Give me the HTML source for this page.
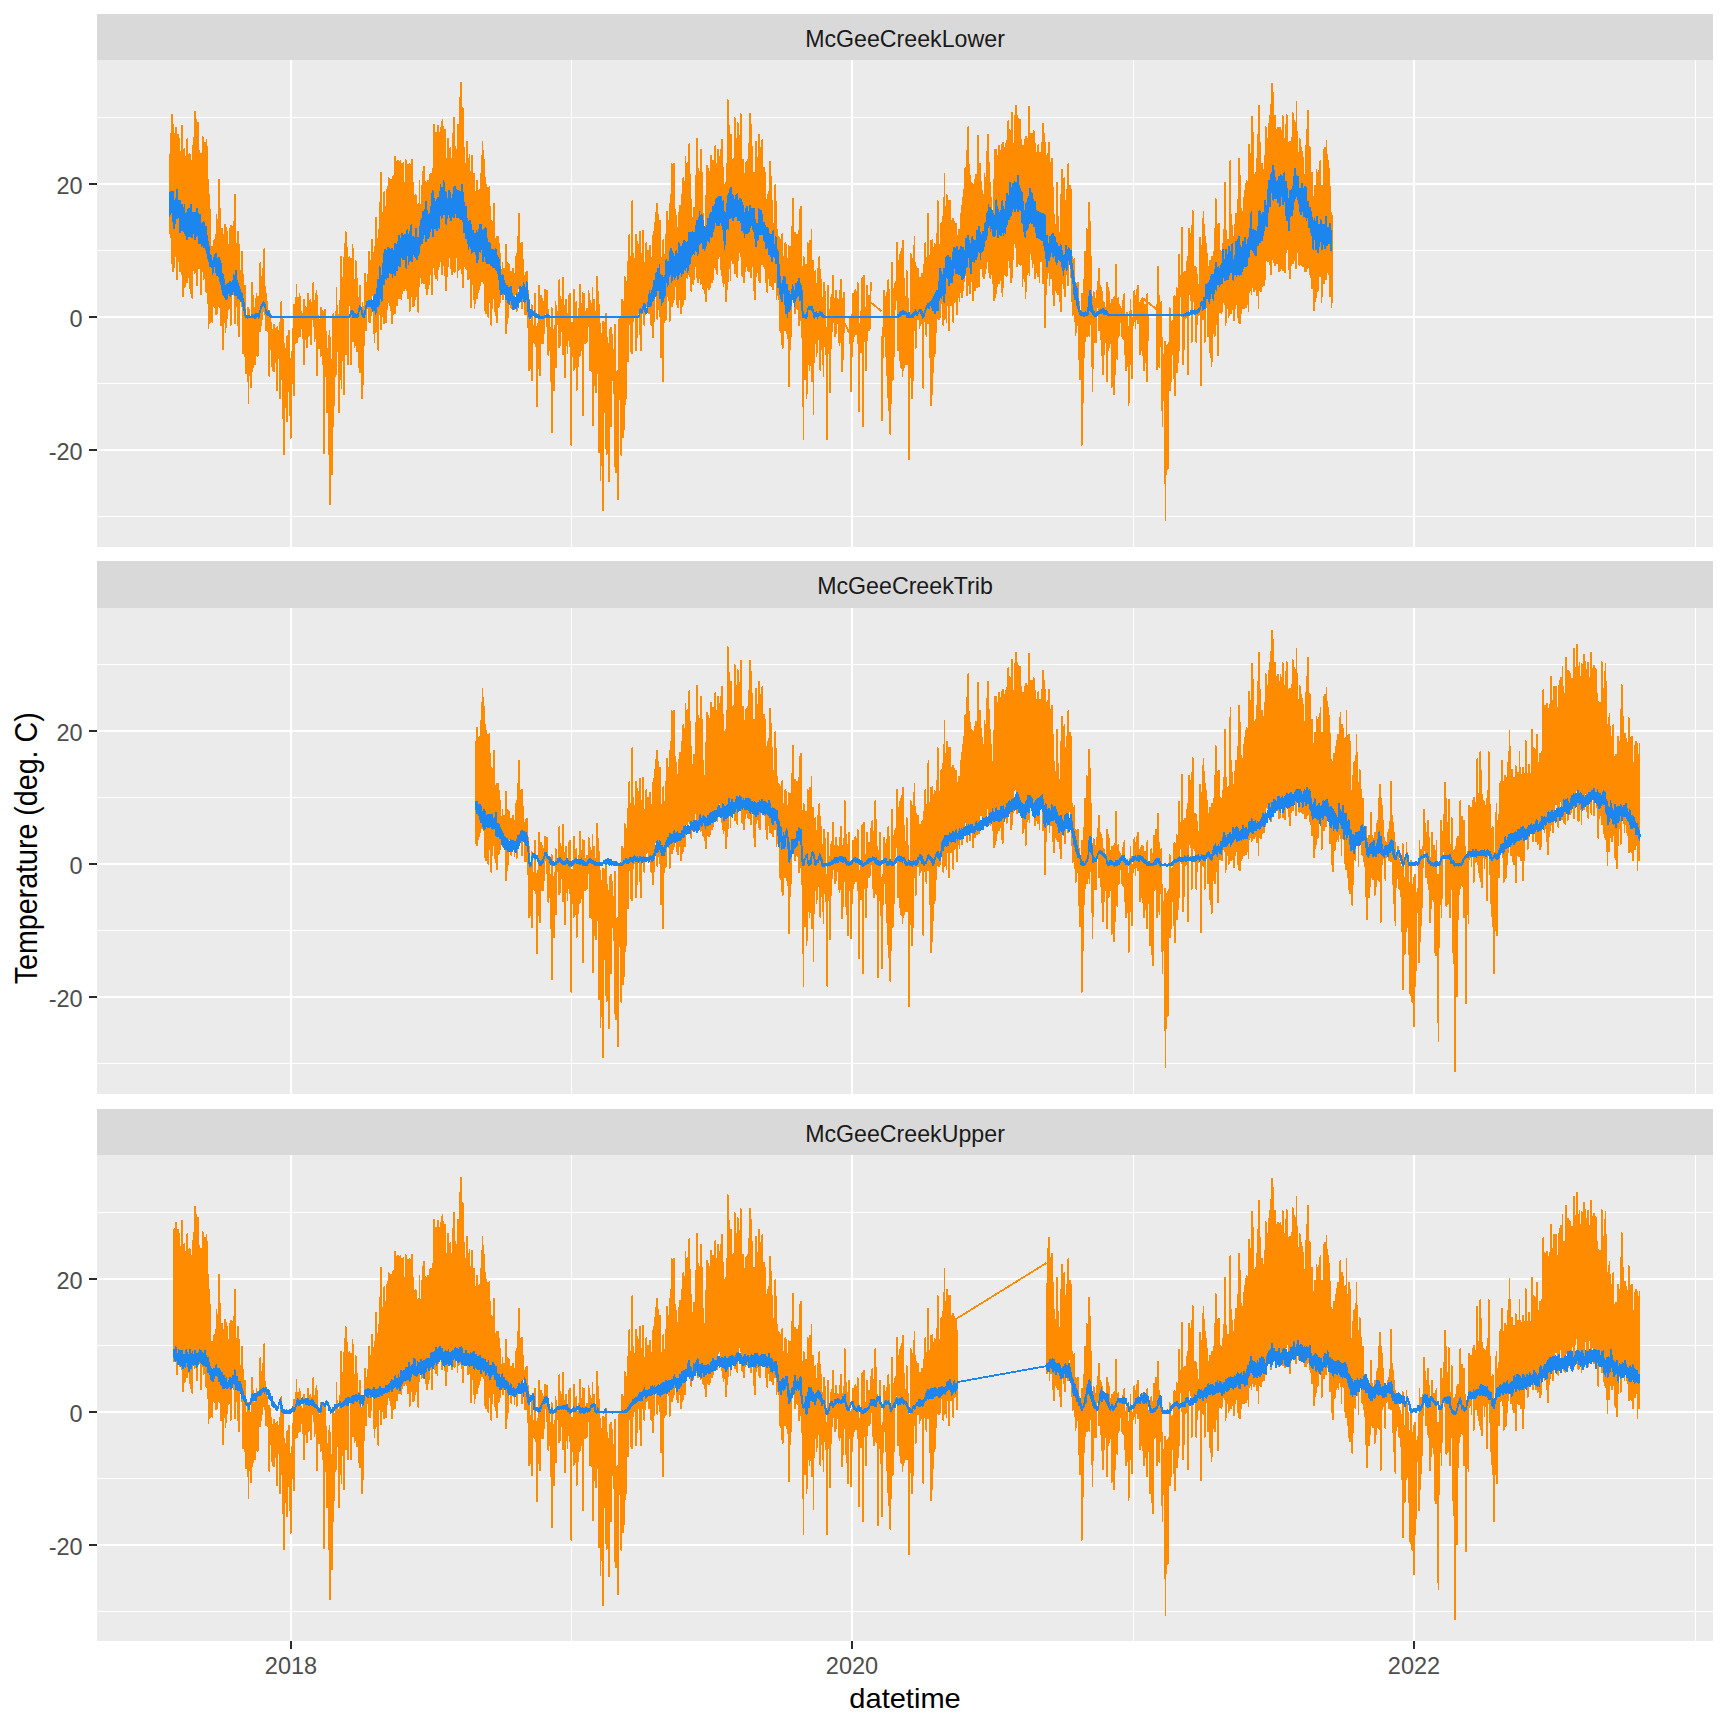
<!DOCTYPE html>
<html lang="en"><head><meta charset="utf-8"><title>Temperature</title>
<style>html,body{margin:0;padding:0;background:#fff}svg{display:block}</style></head>
<body>
<svg width="1728" height="1728" viewBox="0 0 1728 1728" shape-rendering="crispEdges" font-family="'Liberation Sans', sans-serif">
<rect width="1728" height="1728" fill="#fff"/>
<rect x="97" y="14" width="1616" height="46" fill="#D9D9D9"/>
<rect x="97" y="60" width="1616" height="487" fill="#EBEBEB"/>
<path d="M97 516.5H1713M97 383.5H1713M97 250.5H1713M97 117.5H1713M571.5 60V547M1133.5 60V547M1695.5 60V547" stroke="#fff" stroke-width="1" fill="none"/>
<path d="M97 450H1713M97 317H1713M97 184H1713M291 60V547M852 60V547M1414 60V547" stroke="#fff" stroke-width="2" fill="none"/>
<text x="82.6" y="460.2" font-size="23.5" fill="#4D4D4D" text-anchor="end">-20</text>
<text x="82.6" y="327.2" font-size="23.5" fill="#4D4D4D" text-anchor="end">0</text>
<text x="82.6" y="194.2" font-size="23.5" fill="#4D4D4D" text-anchor="end">20</text>
<path d="M89 450H97M89 317H97M89 184H97" stroke="#2b2b2b" stroke-width="2" fill="none"/>
<text x="905.0" y="47.3" font-size="23.2" fill="#1A1A1A" text-anchor="middle">McGeeCreekLower</text>
<path d="M170.1 233.8l.4-100.2 .4 104 .3-96.4 .5 118.1 .3-144.7 .4 149.1 .4-129.5 .4 137.1 .3-146.8 .5 142.7 .3-132.9 .4 122.8 .4-116.8 .4 108 .4-121 .4 123 .3-111.8 .4 140.7 .4-143 .4 121.7 .4-123 .4 126.3 .3-122.3 .4 116.4 .4-104.2 .4 120.2 .4-119.8 .4 119.8 .3-89 .5 81.6 .3-138 .4 148.7 .4-111.7 .4 133.2 .3-139.9 .5 124.5 .3-131.8 .4 138.3 .4-130.1 .4 113.4 .3-107.4 .5 101.8 .3-92.3 .4 110 .4-144 .4 138.3 .4-121.7 .4 122.4 .3-116.3 .4 109.9 .4-117.2 .4 134.6 .4-90.3 .4 94.5 .3-128.5 .4 130.5 .4-134 .4 137.3 .4-152.6 .4 124.3 .3-132.2 .5 127.2 .3-115.1 .4 123.3 .4-161.2 .4 160.3 .3-152.2 .5 146.5 .3-127.1 .4 146.1 .4-134.4 .4 105 .3-132.9 .5 138.3 .3-110.7 .4 117.9 .4-68.9 .4 66.6 .3-98.6 .5 126.2 .3-140.5 .4 115.9 .4-71.3 .4 72.8 .4-133.6 .4 131.1 .3-103.2 .4 113.7 .4-134.4 .4 134.1 .4-135.9 .4 148.4 .3-145.8 .4 142.7 .4-147.9 .4 152.1 .4-122.8 .4 133.6 .3-123.2 .5 148 .3-132.8 .4 128.7 .4-114.4 .4 112.8 .3-93.1 .5 88.2 .3-52.4 .4 55.3 .4-73.6 .4 75.7 .3-72 .5 56.5 .3-58.3 .4 57.6 .4-65.7 .4 66.5 .4-57.1 .4 60.1 .3-74.6 .4 78.8 .4-99.1 .4 98.9 .4-93.5 .4 86.2 .3-84.5 .4 76.9 .4-119.2 .4 119.3 .4-90.7 .4 99.6 .3-78.9 .5 96.3 .3-96.3 .4 86.1 .4-86.2 .4 95.1 .3-67.1 .5 92.7 .3-87.4 .4 52.4 .4-79.7 .4 87.5 .3-97.6 .5 107.2 .3-102.1 .4 97.9 .4-99.9 .4 90.1 .4-86 .4 77.9 .3-64.6 .4 46.5 .4-36.3 .4 52.8 .4-79.3 .4 57.6 .3-43.4 .4 81.8 .4-99.5 .4 67 .4-65.6 .4 48.9 .3-46.3 .5 42.4 .3-46.6 .4 69.5 .4-73.3 .4 102.1 .3-129 .5 113.9 .3-64.4 .4 62.2 .4-54.5 .4 53.8 .3-47.2 .5 66.6 .3-93.1 .4 88.1 .4-74.9 .4 91.2 .4-66.3 .4 25.6 .3-22.7 .4 19.9 .4-14.5 .4 19.4 .4-46.1 .4 55.8 .3-26.4 .4 72.2 .4-78.6 .4 44.5 .4-33.4 .4 70.6 .3-70.8 .5 76.6 .3-44.8 .4 56.2 .4-45.9 .4 40.1 .3-35.8 .5 21 .3-44.8 .4 95.4 .4-93.8 .4 46.4 .3-40.6 .5 35.7 .3-30.2 .4 66.1 .4-66.6 .4 19.1 .3-56.9 .5 88.1 .3-67.5 .4 64.2 .4-71.9 .4 52.6 .4-33.4 .4 49.7 .3-56.9 .4 30.5 .4-38.7 .4 56.4 .4-61.8 .4 51.2 .3-37.1 .4 47.9 .4-48.8 .4 8.8 .4-19.1 .4 8.3 .3-11.4 .5 37.4 .3-68.3 .4 59.3 .4-38.2 .4 41 .3-48.6 .5 36.5 .3-43.8 .4 33.4 .4-33.5 .4 42.3 .3-61.9 .5 58.6 .3-20.8 .4 28.1 .4-21.3 .4 36.6 .4-29.8 .4 18.8 .3-11.3 .4 22 .4-16.8 .4 23.8 .4-26.7 .4 65.2 .3-64.1 .4 37.7 .4-35.7 .4 29.7 .4-20.2 .4 31.3 .3-24.9 .5 37 .3-36.6 .4 40.2 .4-41.5 .4 42.5 .3-46.2 .5 37.7 .3-33.2 .4 23.8 .4-23.9 .4 23.1 .3-23.8 .5 61.2 .3-62.8 .4 31.4 .4-19.8 .4 19.3 .4-27.1 .4 24 .3-31.9 .4 75.4 .4-70.4 .4 52 .4-77.6 .4 74.9 .3-47.7 .4 45.3 .4-55.5 .4 98.9 .4-54.4 .4 90.4 .3-110.5 .5 64.5 .3-59.8 .4 41.5 .4-32.7 .4 20.4 .3-29.7 .5 73 .3-84.8 .4 41.3 .4-24.2 .4 23.7 .3-46.4 .5 61 .3-31.5 .4 54.9 .4-55 .4 77.9 .4-78.7 .4 28.2 .3-35.2 .4 12.3 .4-35.1 .4 27.9 .4-33.6 .4 71.9 .3-90.4 .4 32.2 .4-20 .4 25.6 .4-45 .4 29.6 .3-42.1 .5 56.4 .3-40.4 .4 35.6 .4-39.3 .4 39.2 .3-34.6 .5 13.1 .3-21.5 .4 42.3 .4-27.8 .4 11.4 .3-8.3 .5 16.8 .3-14.7 .4 11.9 .4-9.3 .4 22.4 .3-20 .5 45.8 .3-64.9 .4 42.6 .4-35.3 .4 16.9 .4-16.1 .4 14 .3-10.8 .4 36.7 .4-34.8 .4 23.9 .4-42.7 .4 39.6 .3-29.9 .4 31.9 .4-28.8 .4 21.2 .4-27.9 .4 44.7 .3-40.4 .5 12.9 .3-14.4 .4 15.7 .4-14.1 .4 14.5 .3-36.3 .5 39.4 .3-13.5 .4 33 .4-36.3 .4 29.6 .3-41.4 .5 34.7 .3-37.1 .4 84.7 .4-79.7 .4 36.5 .4-17.2 .4 15.7 .3-9.7 .4 26.9 .4-28.4 .4 24.6 .4-22.1 .4 33.6 .3-47.9 .4 40.3 .4-38 .4 45.1 .4-43.4 .4 52.1 .3-52.1 .5 141.3 .3-111.5 .4 36.2 .4-68.6 .4 67.2 .3-44.9 .5 37.9 .3-21.6 .4 64.4 .4-60.3 .4 25.6 .3-29.1 .5 55.7 .3-68.7 .4 119.1 .4-124.2 .4 174.2 .4-128.3 .4 31.3 .3-47.8 .4 49.8 .4-34.8 .4 99.6 .4-108.1 .4 59.5 .3-112.3 .4 92.3 .4-62.1 .4 37.1 .4-62.1 .4 46 .3-52.1 .5 61.5 .3-86 .4 62.7 .4-35 .4 25.4 .3-24.6 .5 17.2 .3-19.4 .4 97.9 .4-112 .4 44.1 .3-37.7 .5 72.3 .3-121.9 .4 131.1 .4-92.2 .4 36.3 .4-41 .4 22.9 .3-37.7 .4 117.4 .4-136.5 .4 61.1 .4-75.1 .4 73.8 .3-85 .4 121.8 .4-88.8 .4 87.4 .4-104.4 .4 116.1 .3-106.2 .4 46 .4-16.1 .4 17.3 .4-48.2 .4 48.4 .3-44.3 .5 103.1 .3-106 .4 53.3 .4-42.1 .4 66.2 .3-90.5 .5 96.1 .3-58.6 .4 54.5 .4-47.9 .4 58.1 .3-67.8 .5 47.7 .3-66.2 .4 84.5 .4-82.9 .4 88.4 .4-72.7 .4 64.8 .3-45.2 .4 46.1 .4-39.1 .4 62.1 .4-58.1 .4 62.8 .3-86.5 .4 67.9 .4-38.2 .4 53.6 .4-55.5 .4 85.1 .3-95 .5 80.9 .3-71 .4 32.4 .4-34.1 .4 7.6 .3-45 .5 37 .3-22.1 .4 41.5 .4-42.4 .4 14.9 .3-20.6 .5 25.8 .3-33.1 .4 32.7 .4-56.3 .4 70.2 .4-55.4 .4 55.8 .3-53.7 .4 47.6 .4-54.9 .4 31.2 .4-52.1 .4 53.4 .3-32 .4 34.1 .4-36.8 .4 74.6 .4-81.3 .4 89.6 .3-95.3 .5 64.8 .3-93.6 .4 105.2 .4-70.2 .4 78.5 .3-84 .5 76.5 .3-85 .4 111 .4-119.7 .4 84.7 .3-98.8 .5 92.2 .3-105.7 .4 127.2 .4-157.1 .4 152.4 .4-94.2 .4 85.8 .3-103.7 .4 103.5 .4-99.6 .4 106.5 .4-130.9 .4 130.5 .3-116.5 .4 112.8 .4-101.8 .4 104.8 .4-105.6 .4 92.5 .3-119.8 .5 113.8 .3-116.6 .4 108.9 .4-117.2 .4 116.9 .3-103.8 .5 114 .3-117.3 .4 122.7 .4-130.9 .4 133.8 .3-126.9 .5 136.9 .3-133.4 .4 124.4 .4-138.4 .4 133.4 .4-129.6 .4 123.8 .3-146.7 .4 156.6 .4-126.5 .4 111.8 .4-133.7 .4 139.7 .3-143.4 .4 128.3 .4-128.7 .4 129 .4-110.4 .4 118.3 .3-110.3 .4 106 .4-132.5 .4 137.4 .4-135.2 .4 136.1 .3-134 .5 127.8 .3-128.4 .4 122.2 .4-124.5 .4 127.7 .3-107.7 .5 101.3 .3-93.7 .4 95.2 .4-125.6 .4 128.1 .3-82.2 .5 84.8 .3-120.5 .4 124.5 .4-130.1 .4 134.2 .4-134 .4 131.8 .3-132.4 .4 146.8 .4-136.9 .4 111.7 .4-121.1 .4 118.9 .3-123.6 .4 136.1 .4-119.9 .4 130 .4-111.6 .4 110.7 .3-109 .5 107.9 .3-103.9 .4 99.2 .4-104.2 .4 101.1 .3-97.3 .5 89.4 .3-83.9 .4 89.7 .4-60 .4 78.1 .3-108.8 .5 83 .3-105.4 .4 96.2 .4-69.6 .4 65.5 .4-68.6 .4 78.8 .3-97 .4 96.3 .4-111 .4 107.8 .4-106.6 .4 110.3 .3-116.8 .4 108.2 .4-83.4 .4 91.8 .4-100.7 .4 106.3 .3-91.7 .5 97.1 .3-88.1 .4 73 .4-97.8 .4 106.8 .3-84.3 .5 80.9 .3-89.7 .4 79.7 .4-100.5 .4 100.4 .3-100.8 .5 104.7 .3-98.8 .4 114.5 .4-101.1 .4 74.7 .4-99.7 .4 96.7 .3-140 .4 147 .4-110.6 .4 113.4 .4-141.8 .4 145.6 .3-139.3 .4 134.3 .4-137.5 .4 144.1 .4-153.8 .4 133 .3-116 .5 123.4 .3-130.4 .4 125 .4-128.6 .4 122.4 .3-126.8 .5 141.9 .3-148 .4 152.3 .4-153.8 .4 145.2 .3-124.4 .5 119.8 .3-128.9 .4 142.4 .4-144.8 .4 146.1 .3-106.8 .5 121.6 .3-131.4 .4 117.1 .4-106.1 .4 99.3 .4-130.8 .4 127.8 .3-101.3 .4 92.1 .4-72.9 .4 69.1 .4-105.1 .4 120.1 .3-103.8 .4 103.4 .4-109.6 .4 115.7 .4-120.6 .4 117.7 .3-137.8 .5 134.5 .3-149.9 .4 154.4 .4-125.6 .4 124.5 .3-118.8 .5 105 .3-104.1 .4 98.5 .4-101.9 .4 126.9 .3-152.4 .5 145.9 .3-117.9 .4 117 .4-134.2 .4 115.2 .4-153.5 .4 159.5 .3-173.5 .4 186.4 .4-162 .4 166.1 .4-134.8 .4 148.1 .3-177.8 .4 157.6 .4-119 .4 111.6 .4-77.8 .4 83.7 .3-100.9 .5 104.2 .3-101.1 .4 102.2 .4-128 .4 137.3 .3-85.4 .5 85.8 .3-120 .4 116.9 .4-121.6 .4 124 .3-106.8 .5 135.7 .3-87.9 .4 59.5 .4-123.4 .4 126.7 .4-102 .4 104.3 .3-101 .4 115.1 .4-125.1 .4 134.4 .4-116 .4 111.6 .3-108.7 .4 102.3 .4-102.7 .4 103.9 .4-117.4 .4 114.7 .3-104.6 .5 101.3 .3-101.5 .4 98.3 .4-99.5 .4 95.7 .3-81 .5 77.1 .3-107.6 .4 104.7 .4-122.9 .4 121.5 .3-135.2 .5 139.6 .3-130.8 .4 131.9 .4-122.6 .4 138 .4-109.7 .4 122.1 .3-132.4 .4 135.5 .4-121.9 .4 117.5 .4-120 .4 127.3 .3-128.5 .4 128.9 .4-116.2 .4 97.8 .4-111.9 .4 115.5 .3-95.4 .5 113.9 .3-86.5 .4 90.8 .4-103.6 .4 86.8 .3-83.9 .5 73.6 .3-71.5 .4 70 .4-92.8 .4 107.5 .3-72.6 .5 64.4 .3-60.8 .4 73.6 .4-74 .4 80.5 .3-85.5 .5 78.5 .3-78.6 .4 67.7 .4-61.1 .4 63.3 .4-48.9 .4 45 .3-48.7 .4 39.7 .4-23.8 .4 20.9 .4-18.2 .4 13.1 .3-22.7 .4 36.7 .4-29.4 .4 16.6 .4-18 .4 19.6 .3-16.1 .5 18.6 .3-23.2 .4 65.2 .4-88.3 .4 73.3 .3-55.4 .5 60.4 .3-54.7 .4 29 .4-32.8 .4 28.3 .3-21.5 .5 20.6 .3-12.7 .4 14.2 .4-21.9 .4 36.7 .4-34 .4 18.2 .3-21.7 .4 18.2 .4-20 .4 29.1 .4-21.8 .4 32.7 .3-33.8 .4 18.3 .4-36 .4 24.1 .4-14.1 .4 43.6 .3-56.6 .5 12.9 .3-30.2 .4 22.5 .4-46 .4 74.9 .3-47.9 .5 51.2 .3-47.5 .4 24.7 .4-12.3 .4 16.3 .3-30.1 .5 65.3 .3-57.2 .4 29.2 .4-14.6 .4 17.5 .4-7.2 .4 11.4 .3-9.2 .4 36.7 .4-40.1 .4 40.2 .4-42.9 .4 27.3 .3-27.8 .4 34.9 .4-15.4 .4 36.9 .4-19.2 .4 61.6 .3-70.6 .5 52.3 .3-31.1 .4 47.9 .4-47.4 .4 23.4 .3-39.5 .5 74.8 .3-56.9 .4 19.4 .4-14.8 .4 13.4 .3-14.8 .5 15.7 .3-48 .4 49 .4-15.9 .4 19.2 .4-19.6 .4 79.6 .3-78.8 .4 31.2 .4-34.7 .4 43.8 .4-49 .4 16.3 .3-49.6 .4 90.3 .4-64.7 .4 23.1 .4-37.9 .4 38 .3-35.8 .5 44.9 .3-43.5 .4 43.4 .4-41.3 .4 32 .3-29.3 .5 25.9 .3-40.9 .4 19.8 .4-10.9 .4 14.4 .3-8.9 .5 12 .3-25 .4 46.6 .4-27.8 .4 44.9 .3-39.1 .5 18.5 .3-12.2 .4 28.8 .4-23.1 .4 36.1 .4-28.2 .4 46 .3-73.5 .4 124.1 .4-87.2 .4 42.5 .4-40.6 .4 43.7 .3-60.7 .4 56.2 .4-60.6 .4 37 .4-60.1 .4 64.9 .3-45.9 .5 3.5 .3-8.2 .4 3.5 .4-8.4 .4 4.2 .3-12.3 .5 43.9 .3-67.8 .4 66 .4-49.3 .4 26.6 .3-19.4 .5 15.2 .3-18.8 .4 31.7 .4-40.9 .4 63.5 .4-76.8 .4 60.8 .3-32.1 .4 44.9 .4-44.2 .4 70.2 .4-77.6 .4 42.1 .3-41.9 .4 27.3 .4-10.5 .4 36.6 .4-39.4 .4 17.8 .3-32.1 .5 37.2 .3-41.5 .4 50.9 .4-52.1 .4 61 .3-30.3 .5 120.2 .3-122.2 .4 33.9 .4-26.6 .4 10.5 .3-14.5 .5 44.2 .3-80.5 .4 38 .4-12 .4 18.1 .4-17.3 .4 50.6 .3-65 .4 87.8 .4-71.6 .4 44.3 .4-45.7 .4 49.1 .3-52.7 .4 36.4 .4-41.1 .4 47.4 .4-71.4 .4 69.5 .3-40.6 .5 36.4 .3-39.1 .4 33.6 .4-51.1 .4 122 .3-116.8 .5 45.1 .3-49.6 .4 43.2 .4-15.6 .4 21.4 .3-27.7 .5 17.8 .3-21.6 .4 30.4 .4-33.2 .4 25.1 .4-22.9 .4 14.5 .3-34.3 .4 34.2 .4-26.6 .4 71.5 .4-69.4 .4 33.9 .3-31 .4 63.9 .4-59.3 .4 63 .4-83 .4 136.9 .3-121.1 .4 87.8 .4-92 .4 67.3 .4-55.3 .4 50.1 .3-42.6 .5 73.3 .3-79.8 .4 60.5 .4-96.4 .4 79.7 .3-64.9 .5 74 .3-44.6 .4 130.8 .4-146.8 .4 74.9 .3-56.2 .5 156.3 .3-146.2 .4 60 .4-37.8 .4 47.9 .4-38.9 .4 145.2 .3-188.2 .4 92.8 .4-92.2 .4 74.5 .4-74.7 .4 89.6 .3-55.3 .4 91 .4-134.2 .4 140.5 .4-116 .4 82.5 .3-76.6 .5 52.8 .3-24.7 .4 109.4 .4-135.3 .4 57.7 .3-73.8 .5 59.2 .3-61.6 .4 98.8 .4-78.9 .4 29 .3-41.8 .5 45.1 .3-29.7 .4 33.5 .4-16 .4 26.5 .4-69.3 .4 141.1 .3-93.6 .4 100.3 .4-98.7 .4 96.6 .4-99.1 .4 93.3 .3-94 .4 128.5 .4-138.8 .4 38.8 .4-80 .4 69 .3-71.4 .5 71.7 .3-46.8 .4 112.9 .4-103.3 .4 77.8 .3-129.7 .5 137.9 .3-103.2 .4 97.1 .4-129.7 .4 127.7 .3-152.4 .5 126.9 .3-99.9 .4 94.4 .4-100.9 .4 64.5 .4-80.4 .4 40.6 .3-60.5 .4 100 .4-90.1 .4 45.1 .4-82 .4 57 .3-35.2 .4 88.9 .4-82.8 .4 88.8 .4-92.5 .4 94.3 .3-152.4 .5 120.5 .3-67.2 .4 52 .4-47.2 .4 32.5 .3-30.4 .5 55.3 .3-67.9 .4 102 .4-115.7 .4 103.6 .3-96.2 .5 75.4 .3-68.9 .4 64.7 .4-57.9 .4 58.3 .4-69.5 .4 90.6 .3-102.9 .4 99.5 .4-77.2 .4 96.2 .4-72.1 .4 34.7 .3-39.4 .4 33.6 .4-76.7 .4 67 .4-34.9 .4 62.4 .3-60.3 .4 49.4 .4-44.5 .4 36.4 .4-62.8 .4 60.4 .3-53 .5 55.1 .3-48.9 .4 43.9 .4-50.2 .4 63.2 .3-56.3 .5 43.5 .3-54.9 .4 61.4 .4-49.3 .4 66.7 .3-64.9 .5 48 .3-48.6 .4 78.4 .4-101.6 .4 92.3 .4-96.1 .4 82 .3-91.5 .4 72.9 .4-79.5 .4 78.3 .4-82.5 .4 78.1 .3-85.9 .4 115.2 .4-104.3 .4 94 .4-63.2 .4 62 .3-68.7 .5 77.3 .3-95.9 .4 114.4 .4-76.7 .4 99 .3-88.2 .5 88.7 .3-86.8 .4 110.4 .4-141.1 .4 87.9 .3-60.2 .5 49.6 .3-61.7 .4 64.3 .4-83.4 .4 82.6 .4-85.2 .4 59.8 .3-81.9 .4 79.9 .4-54 .4 58.4 .4-74.2 .4 77.8 .3-80 .4 100.8 .4-116.9 .4 100 .4-109.5 .4 110.5 .3-140.8 .5 142.2 .3-120.7 .4 116.8 .4-115.5 .4 105.5 .3-128.3 .5 135.5 .3-76.7 .4 62.3 .4-75.6 .4 77.1 .3-71.1 .5 82.9 .3-69.5 .4 76.5 .4-77.5 .4 79 .4-58.4 .4 50.3 .3-86.9 .4 80 .4-85.7 .4 92.7 .4-81.2 .4 95.9 .3-118.5 .4 110.7 .4-105.9 .4 104.3 .4-126 .4 111.8 .3-108.4 .5 99.8 .3-58 .4 76.1 .4-142.5 .4 118.2 .3-104.4 .5 103.1 .3-110.2 .4 114.6 .4-115.4 .4 110.9 .3-96 .5 96.2 .3-129.7 .4 131.6 .4-101 .4 103.6 .3-78.5 .5 91 .3-74.1 .4 66.2 .4-48.5 .4 48 .4-59.4 .4 60.5 .3-75.9 .4 67.5 .4-67.8 .4 58.9 .4-71.7 .4 70.1 .3-88.7 .4 90.8 .4-128.3 .4 139.8 .4-107.8 .4 112 .3-113.6 .5 109.1 .3-74.2 .4 73.6 .4-105.3 .4 112.1 .3-134.4 .5 127.9 .3-105.3 .4 111.1 .4-90.9 .4 95.9 .3-75.3 .5 75.8 .3-60.2 .4 59.5 .4-59 .4 64.1 .4-78.4 .4 85.8 .3-105.4 .4 97.7 .4-127.8 .4 115.6 .4-92.2 .4 95.9 .3-116.2 .4 120.9 .4-111.4 .4 110.1 .4-116.6 .4 113.9 .3-129.8 .5 124.2 .3-120.2 .4 122.2 .4-107.8 .4 105.3 .3-105.5 .5 96.3 .3-109.2 .4 101 .4-108.9 .4 114 .3-121.3 .5 123.5 .3-105.3 .4 90.6 .4-78.9 .4 98.5 .4-124.2 .4 107.9 .3-101.5 .4 97.8 .4-85.9 .4 87.5 .4-99 .4 105.8 .3-112.6 .4 119.2 .4-129.6 .4 136.2 .4-118.9 .4 125.1 .3-114.6 .5 119 .3-101.3 .4 98.6 .4-94.2 .4 87.1 .3-72.4 .5 96.8 .3-118.5 .4 103 .4-121.6 .4 125.2 .3-189 .5 181.6 .3-168.2 .4 154.7 .4-142.1 .4 134.4 .4-126 .4 145.3 .3-145.3 .4 126.1 .4-72.9 .4 67.2 .4-94.8 .4 103.2 .3-100.3 .4 89.4 .4-94 .4 100.3 .4-140.6 .4 155.5 .3-134.8 .5 121.7 .3-83.4 .4 87.4 .4-125.8 .4 138.3 .3-153.8 .5 136.8 .3-130.2 .4 119.9 .4-86.3 .4 89 .3-116.5 .5 119.7 .3-141.4 .4 142.2 .4-93.5 .4 112.2 .3-114.7 .5 116.1 .3-116.6 .4 116.6 .4-95.1 .4 101.3 .4-94.8 .4 83.9 .3-99 .4 89.9 .4-100.4 .4 96.5 .4-87.5 .4 95.6 .3-107 .4 110.1 .4-107.5 .4 108.5 .4-127.9 .4 110.3 .3-139.5 .5 160.3 .3-149.2 .4 152.3 .4-131.4 .4 117 .3-98.2 .5 102 .3-94.1 .4 107.9 .4-79.4 .4 89.5 .3-117.4 .5 125.8 .3-127.1 .4 104.3 .4-134.6 .4 132.4 .4-115.3 .4 110.2 .3-110.8 .4 114.5 .4-121.5 .4 129.7 .4-146.3 .4 148.2 .3-134.4 .4 109.1 .4-99 .4 101.8 .4-100.4 .4 104.1 .3-123.8 .5 121.5 .3-73.9 .4 77.1 .4-97.2 .4 99.5 .3-93.6 .5 95.4 .3-96.3 .4 110 .4-75.8 .4 68 .3-74.7 .5 92.4 .3-97.3 .4 83.1 .4-85.8 .4 84.8 .4-85.6 .4 93.7 .3-123.5 .4 117.4 .4-103 .4 100.8 .4-77.1 .4 86.5 .3-57.7 .4 60.9 .4-60.7 .4 47 .4-52.5 .4 50.5 .3-57.2 .5 66 .3-97.5 .4 94.4 .4-77.4 .4 97.3 .3-69.6 .5 58.7 .3-48.5 .4 54.2 .4-56.9 .4 62.2 .3-61.9 .5 92.8 .3-90.6 .4 66.7 .4-58.9 .4 85.1 .4-92 .4 103.6 .3-110.4 .4 114 .4-91.5 .4 71.2 .4-71.2 .4 58.8 .3-59.6 .4 74.8 .4-87.7 .4 79.3 .4-77.6 .4 88.5 .3-74.4 .5 71.8 .3-53.5 .4 61.9 .4-92.9 .4 140.2 .3-123.2 .5 87 .3-103.4 .4 101.7 .4-96.4 .4 84.4 .3-75.2 .5 34.4 .3-69.3 .4 60.2 .4-87.6 .4 99.4 .3-55.7 .5 45.3 .3-53.4 .4 79.3 .4-81.1 .4 65.4 .4-56.8 .4 65.9 .3-72.4 .4 74.3 .4-51.9 .4 30.9 .4-34.4 .4 71.4 .3-93.8 .4 76.2 .4-97.1 .4 109.8 .4-113.6 .4 111 .3-72.4 .5 92.4 .3-32.9 .4 65 .4-72 .4 141.7 .3-182 .5 116.3 .3-95.1 .4 100.7 .4-105.7 .4 66.6 .3-75.3 .5 133.6 .3-104.3 .4 54.5 .4-105.4 .4 121.5 .4-77.2 .4 54.4 .3-63.2 .4 91.5 .4-129.1 .4 99.9 .4-75.3 .4 82.7 .3-118.5 .4 151.7 .4-114 .4 105 .4-111.4 .4 152.7 .3-130 .5 48.2 .3-26.8 .4 29.3 .4-63.2 .4 72.1 .3-60 .5 72.5 .3-66 .4 16.8 .4-29.5 .4 48.5 .3-57.4 .5 71.3 .3-82.4 .4 67.7 .4-54.8 .4 100 .4-90.6 .4 49.7 .3-33.9 .4 54.1 .4-50.7 .4 65.6 .4-66.4 .4 77.8 .3-93.1 .4 63.4 .4-55.2 .4 55.1 .4-47.3 .4 55.8 .3-26.2 .5 39.3 .3-36.1 .4 107.8 .4-153.8 .4 67.4 .3-24.6 .5 19.8 .3-31.2 .4 46.5 .4-53.6 .4 82.9 .3-94.8 .5 50.3 .3-53.4 .4 36.3 .4-33.5 .4 24.9 .4-46.9 .4 37.5 .3-14.4 .4 11.5 .4-8.8 .4 34.9 .4-33 .4 20.4 .3-32.6 .4 42.5 .4-34.8 .4 19.6 .4-18.8 .4 13.6 .3-9.4 .4 38.1 .4-39.9 .4 42.9 .4-53.9 .4 50.2 .3-61.4 .5 48.9 .3-42.6 .4 85.5 .4-72.3 .4 49.5 .3-50.4 .5 61.3 .3-67.3 M849.6 343.6l.4-26.7 .4 18.9 .3-18.2 .4 73.6 .4-70.2 .4 35.3 .4-41.5 .4 27.2 .3-48.1 .5 41.7 .3-29.6 .4 30.2 .4-38.9 .4 21.9 .3-28.9 .5 44.4 .3-42.7 .4 38.6 .4-32.6 .4 36.7 .3-52.1 .5 60.7 .3-22.5 .4 90.2 .4-86.8 .4 28.7 .4-24 .4 14.8 .3-25.6 .4 25.1 .4-40.3 .4 49 .4-73.3 .4 147.9 .3-148.5 .4 58.6 .4-61.1 .4 66.2 .4-34.6 .4 26.2 .3-22 .5 58.8 .3-62.7 .4 16.6 .4-38.6 .4 55 .3-45.8 .5 35.2 .3-32.5 .4 30.7 .4-32.3 .4 34.8 .3-35.2 .5 20.8 .3-33.9 M881.9 420.9l.3-83.9 .5 16.1 .3-25.2 .4 28.9 .4-65.8 .4 45.2 .4-38.7 .4 24.9 .3-11.3 .4 44.8 .4-59.3 .4 66.6 .4-70.8 .4 83.2 .3-83.4 .4 105.2 .4-117.7 .4 130.5 .4-119.9 .4 125.9 .3-99.6 .4 117.5 .4-110 .4 78.7 .4-86.2 .4 59.4 .3-113.2 .5 117.1 .3-91.3 .4 70.1 .4-65.4 .4 62.6 .3-69.8 .5 23.1 .3-25.7 .4 17.3 .4-19 .4 18.7 .3-58 .5 55.8 .3-24.7 .4 76.7 .4-82.8 .4 33.4 .4-39.8 .4 67.2 .3-74 .4 106.5 .4-108.9 .4 115.9 .4-118.6 .4 115.4 .3-105.8 .4 116.9 .4-134.6 .4 119.2 .4-78.2 .4 85.1 .3-88.5 .5 77.5 .3-59.5 .4 67.7 .4-67.6 .4 65.6 .3-91.1 .5 90.1 .3-63.7 .4 66.6 .4-46.4 .4 141.1 .3-135.7 .5 34.1 .3-38 .4 25.7 .4-90.8 .4 123.4 .4-106 .4 126.6 .3-131.8 .4 118.7 .4-126.8 .4 108.9 .4-121.1 .4 83.8 .3-92.6 .4 93.2 .4-64.5 .4 81.7 .4-80.9 .4 74.9 .3-72.1 .5 32.4 .3-33.6 .4 50.4 .4-45.8 .4 45.9 .3-34.2 .5 42.9 .3-49.7 .4 33.8 .4-14.9 .4 20 .3-21.6 .5 28.1 .3-49.3 .4 60.7 .4-50.8 .4 104.4 .4-123.5 .4 56.6 .3-37.1 .4 25.9 .4-67.2 .4 90.7 .4-66.4 .4 68.8 .3-77.9 .4 46.3 .4-50.4 .4 69 .4-109.8 .4 109.2 .3-66.7 .5 70.4 .3-64 .4 95.4 .4-116.6 .4 164.2 .3-147.2 .5 136.7 .3-154.6 .4 137.5 .4-130 .4 121.4 .3-117.7 .5 104.7 .3-111.8 .4 108.8 .4-106.9 .4 86.8 .3-88.4 .5 55.6 .3-66 .4 70.1 .4-103.6 .4 117.1 .4-77 .4 78.5 .3-74.3 .4 52.8 .4-48.6 .4 67.9 .4-88.2 .4 73 .3-78.8 .4 80.1 .4-57.5 .4 61.4 .4-89.9 .4 107.7 .3-126.6 .5 120.8 .3-145.2 .4 144.6 .4-112.1 .4 103.9 .3-98.4 .5 110.7 .3-127.5 .4 110 .4-75.7 .4 72.9 .3-69.3 .5 97 .3-129.4 .4 109.4 .4-109.3 .4 103.3 .4-80.1 .4 81 .3-83.6 .4 79.7 .4-53.9 .4 55.1 .4-83.1 .4 103 .3-100.6 .4 78.6 .4-46.6 .4 48.3 .4-47.9 .4 46.3 .3-76.9 .5 81.8 .3-69.6 .4 79.1 .4-73.3 .4 54.6 .3-53.3 .5 55 .3-67.7 .4 70.9 .4-70.9 .4 62.4 .3-71.3 .5 67.8 .3-75.8 .4 84.7 .4-92 .4 87.4 .4-95.1 .4 92.1 .3-99.9 .4 91.1 .4-89.5 .4 83.3 .4-107.2 .4 104.5 .3-93.2 .4 87.3 .4-116.1 .4 144.5 .4-152.5 .4 132.6 .3-148.1 .5 158.4 .3-120.2 .4 124.2 .4-113.6 .4 117.8 .3-111.5 .5 98.9 .3-94.1 .4 90.9 .4-94.1 .4 98.7 .3-89.8 .5 108 .3-115.7 .4 102.5 .4-86.2 .4 89 .4-111 .4 99.8 .3-103.9 .4 109.6 .4-105.7 .4 108.4 .4-115.2 .4 108 .3-144.7 .4 151 .4-117.7 .4 98.3 .4-103.6 .4 104.5 .3-86.4 .5 87 .3-70.2 .4 68.8 .4-76.7 .4 79 .3-62.1 .5 70.1 .3-74.1 .4 74.6 .4-104.4 .4 99.5 .3-88.2 .5 77.1 .3-84.1 .4 90.3 .4-116.7 .4 105.2 .3-114.3 .5 118.5 .3-126.2 .4 137.3 .4-109.4 .4 106 .4-86.1 .4 95.5 .3-80.6 .4 76.9 .4-52.7 .4 52.5 .4-46.1 .4 50.3 .3-63.9 .4 69.6 .4-94.2 .4 110.2 .4-150.4 .4 148.1 .3-142.7 .5 138.5 .3-143.2 .4 129.8 .4-122.5 .4 129.2 .3-99.4 .5 94.1 .3-126 .4 128.2 .4-138.3 .4 129.3 .3-114.9 .5 111.6 .3-120.2 .4 129.2 .4-103.7 .4 115.3 .4-147.6 .4 152 .3-153.8 .4 144 .4-125.2 .4 113 .4-84.9 .4 76.3 .3-118.5 .4 121.2 .4-124.5 .4 132 .4-134.8 .4 134 .3-142.4 .5 127.7 .3-139.1 .4 127.4 .4-118.9 .4 119.8 .3-78.1 .5 95.7 .3-136.8 .4 151.8 .4-146.8 .4 141.6 .3-164.2 .5 153.1 .3-122 .4 105.2 .4-103.4 .4 97.7 .4-110.3 .4 108.2 .3-125.2 .4 123.1 .4-133.4 .4 142.6 .4-133.2 .4 151.4 .3-145.6 .4 142.4 .4-144.4 .4 125.9 .4-114 .4 116.7 .3-127.7 .5 145.2 .3-125.6 .4 125 .4-103.6 .4 96.5 .3-91.6 .5 120.6 .3-141.1 .4 126.2 .4-116.5 .4 119.5 .3-96 .5 102.8 .3-141.7 .4 158.1 .4-160.7 .4 136.4 .4-135 .4 136.3 .3-100.9 .4 99 .4-134.3 .4 131.5 .4-162.8 .4 167.9 .3-141.9 .4 118.2 .4-102.7 .4 104.8 .4-102.6 .4 107.9 .3-124.8 .5 132.9 .3-110.6 .4 106.4 .4-131.5 .4 121 .3-78.5 .5 104.2 .3-133.8 .4 129.5 .4-121.1 .4 119.6 .3-102 .5 101.6 .3-97.3 .4 101.6 .4-130.7 .4 123 .3-109.2 .5 123.1 .3-129.6 .4 104.5 .4-93.1 .4 97.5 .4-98.9 .4 99.1 .3-118.6 .4 140.5 .4-160.3 .4 160 .4-150 .4 149.6 .3-133.1 .4 177.5 .4-184.8 .4 142 .4-114.5 .4 123.9 .3-138.3 .5 123 .3-124.8 .4 116.2 .4-116.2 .4 118.5 .3-129.4 .5 142.5 .3-122.7 .4 115.2 .4-107.4 .4 96.6 .3-62.9 .5 74.5 .3-120.3 .4 135.5 .4-105.7 .4 101.8 .4-75.2 .4 90.3 .3-90.3 .4 71.6 .4-61.8 .4 65.5 .4-50.7 .4 47.9 .3-104.9 .4 109.5 .4-82 .4 84 .4-77.4 .4 70 .3-53.4 .5 59.8 .3-58.3 .4 66.5 .4-87.2 .4 97.7 .3-116.9 .5 89.1 .3-114.1 .4 106.2 .4-56.7 .4 54.2 .3-82.5 .5 97.8 .3-110.6 .4 118.6 .4-94.7 .4 75.5 .4-77.1 .4 73.2 .3-83.3 .4 75.7 .4-90.4 .4 109.8 .4-121.4 .4 89.2 .3-64.2 .4 74.8 .4-78.4 .4 78 .4-74 .4 87.4 .3-31.8 .5 50.8 .3-38.6 .4 57.8 .4-39.6 .4 30.5 .3-28.6 .5 36.9 .3-55.6 .4 62.7 .4-38.3 .4 51.8 .3-50.8 .5 46.6 .3-46.4 .4 36.2 .4-21.2 .4 25.7 .4-42.3 .4 44.6 .3-25.3 .4 58.3 .4-47.8 .4 66.6 .4-58.5 .4 56.9 .3-63.8 .4 131.2 .4-150.9 .4 135.4 .4-96.8 .4 69.1 .3-87.8 .4 43.7 .4-78.9 .4 63.2 .4-90.1 .4 55.2 .3-45.4 .5 44.5 .3-77.1 .4 107.7 .4-80.1 .4 74.4 .3-99.8 .5 34.7 .3-62.8 .4 133.2 .4-114.5 .4 102.1 .3-59.5 .5 45.1 .3-52.2 .4 61.2 .4-21.7 .4 94.5 .4-83.5 .4 35.8 .3-51.9 .4 47.1 .4-36.8 .4 40.6 .4-43 .4 40.1 .3-40.6 .4 42.8 .4-51 .4 16.3 .4-17 .4 13 .3-21.6 .5 49 .3-62 .4 39.6 .4-22.3 .4 36.9 .3-30.7 .5 47.2 .3-51.5 .4 67.6 .4-63.4 .4 40.8 .3-26.6 .5 68.2 .3-72 .4 51.7 .4-32.9 .4 21.8 .4-25.8 .4 18.2 .3-27.1 .4 20.7 .4-46.3 .4 98.7 .4-96.9 .4 65.6 .3-62.2 .4 61.7 .4-57.7 .4 44.6 .4-22.3 .4 23.1 .3-24.8 .5 31.1 .3-40.4 .4 83.9 .4-87.5 .4 38.4 .3-16.2 .5 26 .3-29.6 .4 76.5 .4-97.5 .4 77.3 .3-67.6 .5 35.3 .3-77 .4 57.2 .4-17 .4 53.5 .4-49.2 .4 14.7 .3-26 .4 38.6 .4-31.8 .4 24.5 .4-23.4 .4 15.7 .3-7.8 .4 6.1 .4-7 .4 23 .4-27.5 .4 11 .3-19.2 .5 38.2 .3-42.6 .4 40.7 .4-42.9 .4 60.8 .3-37.7 .5 53.1 .3-51.4 .4 51.6 .4-57.7 .4 34.3 .3-33.8 .5 52.6 .3-38.9 .4 78.5 .4-77.6 .4 24.5 .4-40.5 .4 52.1 .3-64.3 .4 45.6 .4-25.9 .4 59.3 .4-57.5 .4 8.3 .3-11.2 .4 5.1 .4-9.3 .4 6.2 .4-29.1 .4 30.1 .3-20.4 .4 27 .4-31.7 .4 18.2 .4-24 .4 22.1 .3-13.5 .5 24.2 .3-37.6 .4 33 .4-15.7 .4 15.8 .3-12.9 .5 48.9 .3-43.1 .4 39 .4-50.3 .4 50.3 .3-51.2 .5 55.9 .3-55.6 .4 32.5 .4-8.6 .4 46.7 .4-56 .4 48 .3-57.7 .4 43.2 .4-30 .4 21.8 .4-17.9 .4 59.8 .3-87.4 .4 46.1 .4-23.8 M1157.1 370.1l.3-65.9 .4 34.8 .4-72 .4 65.5 .4-36.9 .4 71.6 .3-56.2 .4 23.1 .4-14.4 .4 26.7 .4-44.1 .4 56.4 .3-21.1 .5 88.9 .3-72.2 .4 27.6 .4-15.4 .4 29 .3-17.4 .5 104.9 .3-141.2 .4 178.7 .4-154.9 .4 84.6 .3-78.6 .5 58.6 .3-85.2 .4 123.8 .4-107.5 .4 27.9 .4-46.8 .4 41.2 .3-75.6 .4 82.3 .4-52.3 .4 43.3 .4-53.7 .4 15.7 .3-21.6 .4 28.5 .4-29.7 .4 33.6 .4-57.4 .4 81.9 .3-82.7 .5 99.6 .3-98.4 .4 59.1 .4-52.7 .4 63.8 .3-79.1 .5 84.4 .3-71.9 .4 62 .4-74.3 .4 54.9 .3-89 .5 96 .3-75.3 .4 19.8 .4-19.1 .4 20.1 .3-20.4 .5 40.5 .3-88.4 .4 71.8 .4-23.1 .4 88.2 .4-82.2 .4 67.2 .3-76.6 .4 45 .4-46.5 .4 46.7 .4-23.4 .4 17.2 .3-30.6 .4 35.8 .4-56.2 .4 113.5 .4-117.5 .4 41.6 .3-69.5 .5 64.3 .3-24.6 .4 24.7 .4-33.2 .4 40.2 .3-66.3 .5 107.8 .3-115.9 .4 59.3 .4-74 .4 90 .3-37.6 .5 31.2 .3-22.7 .4 28.2 .4-34 .4 54.7 .4-53.4 .4 74.2 .3-67.7 .4 50.4 .4-35.3 .4 26.2 .4-27.7 .4 24.5 .3-27.1 .4 27.8 .4-75.5 .4 77.4 .4-69.2 .4 140 .3-134.8 .5 63.9 .3-68.9 .4 63.7 .4-90.5 .4 99.9 .3-106.9 .5 87.6 .3-74.4 .4 116.6 .4-105.2 .4 69.5 .3-62.8 .5 57.3 .3-40.6 .4 46.8 .4-52.5 .4 81.9 .4-69.7 .4 54.4 .3-40.6 .4 51.3 .4-71 .4 92.2 .4-82.1 .4 87 .3-76.1 .4 84.2 .4-108.6 .4 59.5 .4-48.1 .4 46.9 .3-51.8 .5 70 .3-82.6 .4 85.1 .4-107.8 .4 85.5 .3-114.6 .5 119.1 .3-94.7 .4 100.3 .4-75 .4 106.1 .3-97.9 .5 47.5 .3-81.4 .4 80.1 .4-52.8 .4 61.7 .4-54.3 .4 40.7 .3-41.7 .4 56.6 .4-62.1 .4 58.6 .4-66.3 .4 58 .3-68.5 .4 67.5 .4-71 .4 73.9 .4-121.3 .4 142.5 .3-94.6 .5 92 .3-81.3 .4 61.4 .4-53.6 .4 59.9 .3-68.5 .5 77 .3-62.1 .4 60.3 .4-123.1 .4 121.3 .3-152.4 .5 151.1 .3-97.2 .4 97.9 .4-87.4 .4 82.8 .3-66.3 .5 59 .3-60.9 .4 80.5 .4-83.9 .4 69.6 .4-81.6 .4 83.3 .3-94.1 .4 90 .4-81.3 .4 78.8 .4-85.8 .4 101.1 .3-117.4 .4 119.5 .4-160.5 .4 164.5 .4-147.2 .4 147.8 .3-134.8 .5 124.2 .3-103.7 .4 102.6 .4-99.8 .4 89 .3-86 .5 78.1 .3-90.9 .4 105.8 .4-110.5 .4 96.5 .3-103 .5 107.4 .3-114.6 .4 123.7 .4-126.9 .4 120 .4-108.8 .4 112.5 .3-119.9 .4 126.4 .4-166.5 .4 148.3 .4-124.2 .4 111.1 .3-116.8 .4 128 .4-137.2 .4 140.9 .4-177.5 .4 169.4 .3-153.9 .5 140.2 .3-125.6 .4 144 .4-116.6 .4 95.8 .3-63.4 .5 73.2 .3-107.5 .4 117.2 .4-116.5 .4 121.8 .3-136.5 .5 130.7 .3-154.9 .4 173.7 .4-201.8 .4 170.6 .4-134.7 .4 148 .3-131.9 .4 133.3 .4-120.9 .4 115.4 .4-122.4 .4 122.4 .3-116.3 .4 105 .4-87.3 .4 98 .4-109.1 .4 96.1 .3-116.7 .5 123.7 .3-152.1 .4 131.3 .4-112.6 .4 114.4 .3-115.1 .5 115.7 .3-122.4 .4 118.6 .4-133.1 .4 126.5 .3-134.5 .5 148.3 .3-123.4 .4 133.1 .4-169.1 .4 149 .4-169.8 .4 166.2 .3-158.3 .4 167.3 .4-138.7 .4 141.5 .4-125.6 .4 114.2 .3-134.7 .4 149.5 .4-112.2 .4 109.3 .4-117.6 .4 117.8 .3-134.1 .5 131.3 .3-132.8 .4 142.9 .4-111.2 .4 112.3 .3-136.9 .5 135.6 .3-142.5 .4 128.8 .4-91 .4 88.8 .3-123.3 .5 138.4 .3-153.1 .4 154.2 .4-106.8 .4 106.2 .3-131 .5 133.9 .3-129.4 .4 125 .4-143.3 .4 127.5 .4-137.8 .4 132.7 .3-114.1 .4 115.9 .4-106.5 .4 122 .4-108.1 .4 113.2 .3-128.2 .4 136.8 .4-113.7 .4 100.4 .4-87.7 .4 84.6 .3-124.4 .5 125.9 .3-150.2 .4 150.1 .4-116.4 .4 99.9 .3-126.3 .5 135.7 .3-133.2 .4 138 .4-134 .4 141.5 .3-166.6 .5 149.9 .3-108.4 .4 103.5 .4-93.9 .4 104.1 .4-93.3 .4 101.4 .3-126.6 .4 126 .4-119.9 .4 113.6 .4-110.4 .4 116.9 .3-112.8 .4 114 .4-91.4 .4 91.6 .4-107.8 .4 105.4 .3-83.2 .5 90.7 .3-96.5 .4 94.1 .4-123.2 .4 126 .3-141.3 .5 137.2 .3-137.8 .4 138.3 .4-157.7 .4 147.7 .3-81.9 .5 74.4 .3-103.3 .4 126.8 .4-88.8 .4 91.8 .4-94.5 .4 101.7 .3-111.8 .4 116.1 .4-92.6 .4 89.8 .4-83 .4 107.4 .3-108.5 .4 87.2 .4-103.3 .4 115.7 .4-110.8 .4 106.4 .3-127.2 .5 107.5 .3-96.2 .4 110 .4-118.7 .4 98.9 .3-100.1 .5 102.6 .3-99.2 .4 101.8 .4-115.1 .4 114.7 .3-87.4 .5 113.8 .3-116.1 .4 102.9 .4-103.5 .4 97.9 .4-108.8 .4 108.2 .3-133 .4 124.8 .4-126.6 .4 118.1 .4-110.6 .4 124.1 .3-138.8 .4 131.4 .4-117.6 .4 112.9 .4-107.1 .4 109.9 .3-102.1 .4 106.1 .4-87 .4 109.3 .4-110.1 .4 101.9 .3-75.8 .5 94.2 .3-92.1 M843.5 320.5L849 332.6M870.4 302L881.5 311.3M1142 297.6L1157 309.6" stroke="#FF8C00" stroke-width="1.8" fill="none" stroke-linejoin="round" shape-rendering="crispEdges"/>
<path d="M169.6 217l.3-24.7 .4 17.4 .4-18 .4 20.6 .3-19 .5 17.5 .3-15.1 .4 25.2 .4-29.1 .4 30 .3-21.2 .5 27.7 .3-20 .4 14.8 .4-22.1 .4 17.4 .3-20 .5 12.1 .3-21 .4 28.4 .4-17.5 .4 16.8 .4-12.3 .4 10.5 .3-15.1 .4 23 .4-22.3 .4 31.5 .4-21.6 .4 15.6 .3-17.4 .4 21.3 .4-25.4 .4 23.9 .4-18.2 .4 20.3 .3-23.2 .5 15.2 .3-18.2 .4 28.7 .4-16.9 .4 19 .3-21.6 .5 22.1 .3-23.4 .4 26.4 .4-25.1 .4 14.9 .3-19.9 .5 27.4 .3-24.7 .4 19.6 .4-22.2 .4 20.5 .4-25 .4 32 .3-18.1 .4 19.1 .4-18.3 .4 11 .4-17.6 .4 17.5 .3-17.3 .4 20.3 .4-15.2 .4 21.2 .4-26.8 .4 24.4 .3-16.6 .5 6.6 .3-18.4 .4 26.5 .4-18 .4 12.6 .3-15.8 .5 29.4 .3-22.8 .4 18.4 .4-24 .4 27 .3-19.1 .5 20.5 .3-16.9 .4 19.6 .4-22.6 .4 16.5 .4-15.3 .4 20.2 .3-22.5 .4 24.9 .4-15.2 .4 11.5 .4-13.6 .4 12.8 .3-15.9 .4 23.6 .4-14.4 .4 17.2 .4-13.1 .4 18.5 .3-14.1 .5 13.4 .3-11.4 .4 20.2 .4-10.7 .4 10.1 .3-11.1 .5 9.3 .3-7.8 .4 10.5 .4-6.4 .4 13.8 .3-12.6 .5 4.7 .3-8.5 .4 8.8 .4-6.9 .4 2.4 .4-8.1 .4 9.8 .3-9.9 .4 19.4 .4-13.9 .4 16.3 .4-13.5 .4 13 .3-16.7 .4 17.7 .4-18.4 .4 19.8 .4-16.4 .4 20.2 .3-19.4 .4 22 .4-14.8 .4 20.1 .4-15.2 .4 16.6 .3-15.9 .5 20.1 .3-15.4 .4 13.1 .4-8.1 .4 12.7 .3-11.3 .5 13.4 .3-11.6 .4 7.2 .4-10.4 .4 14.2 .3-11.7 .5 6.7 .3-10.1 .4 9.2 .4-8.8 .4 9.5 .4-11.8 .4 14 .3-11.4 .4 8.7 .4-10 .4 11 .4-8.4 .4 3.9 .3-9 .4 7.8 .4-13.3 .4 16.1 .4-11.5 .4 15.5 .3-16 .5 5.9 .3-14 .4 18.7 .4-8.8 .4 14.2 .3-10.7 .5 14.1 .3-14.5 .4 10.2 .4-7.8 .4 11.8 .3-9 .5 10.6 .3-6.3 .4 7.7 .4-8 .4 8 .4-7.6 .4 12.6 .3-7.8 .4 7.4 .4-3.3 .4 7.5 .4-3.2 .4 8.9 .3-2.7 .4 4 .4-1.5 .4 1.9 .4-1.2 .4 1.5 .3-1.6 .5 .9 .3-.9 .4 1.5 .4-.9 .4 .6 .3-1.1 .5 1.1 .3-.7 .4 1.1 .4-1 .4 .2 .3-1.7 .5 2.1 .3-1.6 .4 1.7 .4-2 .4 1.9 .4-2.5 .4 3.1 .3-2.1 .4 1.5 .4-3.2 .4 3.1 .4-2.7 .4 1.7 .3-2.3 .4 2.4 .4-2 .4 3.6 .4-4 .4 .2 .3-2.3 .5-1.1 .3-1.5 .4-.9 .4-2.2 .4 .5 .3-1.4 .5 .7 .3-2.7 .4 2.2 .4-3.3 .4 3.4 .3-2.7 .5 4.3 .3-2.5 .4 6.5 .4-1.2 .4 4.2 .4-1.9 .4 1.9 .3-1.6 .4 3.1 .4-4.4 .4 3.6 .4-2.7 .4 4.5 .3-2.3 .4 2.6 .4-1.3 .4 1.6 .4-1.3 .4 1.3 .3-.5 .4 .7 .4-.5 .4 .3 .4-.3 .4 .2 .3-.3 .5 .3 .3-.2 .4 .4 .4-.5 .4 .4 .3-.4 .5 .4 .3-.3 .4 .3 .4-.4 .4 .2 .3-.3 .5 .4 .3-.3 .4 .3 .4-.3 .4 .4 .4-.3 .4 .5 .3-.5 .4 .3 .4-.3 .4 .4 .4-.4 .4 .1 .3-.4 .4 .6 .4-.4 .4 .3 .4-.3 .4 .5 .3-.5 .5 .3 .3-.4 .4 .4 .4-.2 .4 .4 .3-.3 .5 .3 .3-.4 .4 .1 .4-.3 .4 .3 .3-.4 .5 .5 .3-.3 .4 .5 .4-.5 .4 .5 .4-.4 .4 .3 .3-.3 .4 .3 .4-.5 .4 .5 .4-.5 .4 .5 .3-.4 .4 .4 .4-.3 .4 .2 .4-.4 .4 .5 .3-.2 .5 .2 .3-.4 .4 .4 .4-.5 .4 .3 .3-.4 .5 .4 .3-.3 .4 .5 .4-.4 .4 .3 .3-.3 .5 .3 .3-.4 .4 .4 .4-.3 .4 .3 .4-.3 .4 .4 .3-.5 .4 .6 .4-.5 .4 .3 .4-.3 .4 .3 .3-.4 .4 .3 .4-.2 .4 .4 .4-.3 .4 .2 .3-.5 .5 .6 .3-.5 .4 .4 .4-.3 .4 .3 .3-.3 .5 .4 .3-.3 .4 .3 .4-.4 .4 .5 .3-.4 .5 .4 .3-.4 .4 .3 .4-.4 .4 .4 .3-.5 .5 .5 .3-.5 .4 .6 .4-.4 .4 .3 .4-.3 .4 .2 .3-.3 .4 .3 .4-.4 .4 .4 .4-.4 .4 .4 .3-.5 .4 .6 .4-.3 .4 .4 .4-.3 .4 .1 .3-.4 .5 .4 .3-.2 .4 .2 .4-.3 .4 .5 .3-.6 .5 .5 .3-.4 .4 .3 .4-.3 .4 .3 .3-.4 .5 .4 .3-.4 .4 .4 .4-.2 .4 .3 .4-.4 .4 .4 .3-.3 .4 .4 .4-.5 .4 .4 .4-.4 .4 .4 .3-.4 .4 .3 .4-.4 .4 .5 .4-.5 .4 .5 .3-.4 .5 .4 .3-.2 .4 .2 .4-.5 .4 .6 .3-.5 .5 .4 .3-.3 .4 .3 .4-.3 .4 .3 .3-.4 .5 .3 .3-.2 .4 .2 .4-.3 .4 .4 .4-.5 .4 .5 .3-.3 .4 .3 .4-.4 .4 .5 .4-.4 .4 .4 .3-.5 .4 .4 .4-.3 .4 .1 .4-1.1 .4 .4 .3-3.3 .5 1.2 .3-2.8 .4 2.8 .4-3 .4 4.4 .3-3.8 .5 5.5 .3-3 .4 3.2 .4-2.4 .4 1.5 .3-2.6 .5 3.3 .3-2.3 .4 1.9 .4-2 .4 2.6 .4-2.1 .4 1.2 .3-2.8 .4-1.9 .4-2.1 .4-1.5 .4-2 .4 3 .3-2 .4 2.4 .4-1.4 .4 3.8 .4-1.5 .4 5.7 .3-1.6 .5 1.9 .3-2.5 .4 3.6 .4-2.2 .4-1.7 .3-2.4 .5-2.7 .3-2.1 .4-.5 .4-3 .4 1.3 .3-2.9 .5 5 .3-4.5 .4 1.7 .4-2.7 .4 5.3 .3-4.3 .5 3.9 .3-5.4 .4 5.4 .4-6 .4 6.6 .4-5.9 .4 10.2 .3-7.5 .4 5 .4-11.2 .4 13.5 .4-10.1 .4 6.8 .3-12.4 .4 18.7 .4-15.8 .4 14.4 .4-13.4 .4 7.8 .3-18.1 .5 12.8 .3-21.9 .4 26.9 .4-16.6 .4-7.8 .3-14.8 .5 18.6 .3-14.5 .4 27.2 .4-20 .4 22.4 .3-24.8 .5 10.9 .3-19.8 .4 5 .4-16.5 .4 28.8 .4-31.3 .4 23.8 .3-27 .4 27.7 .4-17.9 .4 19.2 .4-27.7 .4 23.6 .3-17.9 .4 20.7 .4-30.1 .4 26.9 .4-25.4 .4 19 .3-15.8 .5 16.1 .3-18.1 .4 23 .4-22.2 .4 17.3 .3-19.8 .5 28.1 .3-26.5 .4 22.6 .4-17.3 .4 18.2 .3-16.9 .5 18.6 .3-31.8 .4 28.5 .4-26.5 .4 15.6 .4-15.9 .4 24.9 .3-25 .4 19.2 .4-22.4 .4 22.8 .4-28.6 .4 20.6 .3-16.7 .4 26.5 .4-18.1 .4 9.4 .4-19.6 .4 17.4 .3-22.1 .5 25.6 .3-22.3 .4 21.3 .4-22.3 .4 23.7 .3-22.4 .5 18.1 .3-20 .4 24.7 .4-23.2 .4 31.3 .3-27.9 .5 13.7 .3-24.1 .4 25.1 .4-20 .4 29.3 .4-29.3 .4 15.5 .3-18.6 .4 28.8 .4-19.4 .4 11.8 .4-28 .4 34.2 .3-18.1 .4 20.5 .4-24.6 .4 14.3 .4-14.2 .4 17.6 .3-17.1 .4 18.6 .4-12.4 .4 2 .4-16.8 .4 28.6 .3-16.3 .5 18 .3-21.2 .4 16.1 .4-16.4 .4 17.2 .3-12 .5 1.5 .3-10.9 .4 12.1 .4-24.3 .4 20.3 .3-12.9 .5 14.6 .3-24.2 .4 18.8 .4-26 .4 26.4 .4-18.5 .4 14.4 .3-18 .4 12.8 .4-19.3 .4 15.8 .4-23.5 .4 39.6 .3-28.2 .4 23.5 .4-25.9 .4 27 .4-23.6 .4 17.6 .3-14.7 .5 19 .3-18.2 .4 13.6 .4-23.7 .4 20.8 .3-22 .5 15.4 .3-28.3 .4 35.3 .4-38.1 .4 45.6 .3-30.6 .5 22.6 .3-29.5 .4 26.2 .4-21.5 .4 24.6 .4-26.9 .4 23.9 .3-25.7 .4 30.4 .4-28.3 .4 23.1 .4-27 .4 27.4 .3-28 .4 30.4 .4-30.4 .4 18.1 .4-30.6 .4 25.8 .3-18.6 .5 26 .3-30.7 .4 23 .4-18.2 .4 16.5 .3-27.9 .5 33.6 .3-32 .4 25.2 .4-15.8 .4 27.2 .3-26.3 .5 31.3 .3-22.4 .4 16.4 .4-18.7 .4 15.4 .4-16.2 .4 8.5 .3-16 .4 24 .4-22.3 .4 25 .4-19.3 .4 21.6 .3-21.6 .4 20.2 .4-19 .4 11.3 .4-15.8 .4 12.6 .3-20 .5 29.5 .3-25.7 .4 20.1 .4-25.3 .4 27 .3-21 .5 19.6 .3-22.2 .4 27.6 .4-23.2 .4 17.9 .3-20.8 .5 25 .3-24.8 .4 26.7 .4-25.9 .4 26.3 .4-26.6 .4 27.3 .3-16.1 .4 13.9 .4-32.6 .4 33.1 .4-24.8 .4 28.3 .3-20.7 .4 32.3 .4-30.1 .4 29.4 .4-20.9 .4 21.4 .3-25.8 .4 32 .4-19.7 .4 16 .4-15.8 .4 23.8 .3-17.4 .5 23.8 .3-27.1 .4 21.7 .4-21.4 .4 18.7 .3-20.8 .5 27.6 .3-22.9 .4 28.2 .4-19.5 .4 9.1 .3-12.5 .5 16.6 .3-11.7 .4 15.6 .4-13.4 .4 13.1 .4-16.9 .4 20.7 .3-17.5 .4 17.1 .4-23.5 .4 32.1 .4-25.7 .4 22.9 .3-20.2 .4 10.1 .4-19.9 .4 20.9 .4-26.3 .4 27.4 .3-17.6 .5 7.3 .3-16.4 .4 21.8 .4-15.9 .4 19.2 .3-16 .5 26.7 .3-18.3 .4 13.3 .4-26.9 .4 17.5 .3-14.3 .5 21.7 .3-25.7 .4 32.9 .4-25 .4 26.7 .4-21.7 .4 17.2 .3-15.5 .4 17.5 .4-17.8 .4 20.8 .4-17.4 .4 10.1 .3-11.7 .4 21.2 .4-14.7 .4 14.6 .4-15.2 .4 16 .3-11 .5 12 .3-17.2 .4 15.1 .4-14.7 .4 17.2 .3-14.2 .5 15.4 .3-19.5 .4 17.8 .4-10.1 .4 13.1 .3-13.9 .5 17.1 .3-15.6 .4 18.7 .4-16.4 .4 19.6 .4-13 .4 22.5 .3-19.6 .4 24.8 .4-18.1 .4 15.5 .4-13.7 .4 6.7 .3-9.6 .4 18.5 .4-17.8 .4 17.1 .4-11.6 .4 12.6 .3-10.4 .5 14.4 .3-11.5 .4 13.3 .4-8.8 .4 6.5 .3-11.9 .5 16.9 .3-11 .4 5.6 .4-9.2 .4 16.3 .3-10 .5 4.6 .3-10.9 .4 12.7 .4-13.5 .4 17.1 .4-10.4 .4 10.1 .3-6.9 .4 12.7 .4-10.7 .4 9.3 .4-11.8 .4 12.2 .3-10.4 .4 10.3 .4-10.7 .4 10.1 .4-13.9 .4 9.8 .3-8.7 .4 10.9 .4-10.6 .4 11.5 .4-14.2 .4 7.9 .3-11.2 .5 5.1 .3-8 .4 14.6 .4-9.5 .4 7.4 .3-11.2 .5 10 .3-8.8 .4 7.1 .4-12.8 .4 17.9 .3-16.6 .5 17.2 .3-13.8 .4 13.3 .4-11.1 .4 9.4 .4-18.1 .4 17.1 .3-14 .4 26.6 .4-16.3 .4 21 .4-15.1 .4 15.9 .3-8.5 .4 10.3 .4-2.6 .4 .5 .4-1.6 .4-1.4 .3-3.2 .5 4.3 .3-3.4 .4 4.3 .4-2.9 .4 2.5 .3-3.7 .5 5.1 .3-2.3 .4 2.3 .4-2.7 .4 3.3 .3-3.2 .5 2.5 .3-1.9 .4 2.7 .4-1.9 .4 2.6 .4-1.4 .4 1.3 .3-1.5 .4 1.8 .4-1.1 .4 .9 .4-1.4 .4 1.3 .3-1 .4 1.1 .4-.7 .4 .7 .4-1.1 .4 1 .3-1.3 .5 1.2 .3-1.6 .4 1.6 .4-1.9 .4 1 .3-1.7 .5 1.8 .3-2.2 .4 2.4 .4-2.4 .4 2.6 .3-1.2 .5 .9 .3-1 .4 1.2 .4-.3 .4 .5 .4-.3 .4 .1 .3-.4 .4 .5 .4-.4 .4 .4 .4-.3 .4 .4 .3-.4 .4 .4 .4-.5 .4 .4 .4-.4 .4 .5 .3-.4 .5 .3 .3-.2 .4 .1 .4-.3 .4 .3 .3-.3 .5 .3 .3-.4 .4 .3 .4-.3 .4 .5 .3-.4 .5 .5 .3-.4 .4 .2 .4-.3 .4 .3 .3-.3 .5 .5 .3-.4 .4 .3 .4-.3 .4 .4 .4-.4 .4 .3 .3-.3 .4 .5 .4-.5 .4 .2 .4-.4 .4 .6 .3-.3 .4 .3 .4-.4 .4 .3 .4-.5 .4 .5 .3-.3 .5 .2 .3-.3 .4 .4 .4-.6 .4 .6 .3-.4 .5 .3 .3-.4 .4 .5 .4-.3 .4 .2 .3-.3 .5 .3 .3-.3 .4 .3 .4-.3 .4 .4 .4-.3 .4 .2 .3-.4 .4 .5 .4-.3 .4 .4 .4-.4 .4 .2 .3-.3 .4 .4 .4-.4 .4 .4 .4-.3 .4 .3 .3-.4 .5 .4 .3-.5 .4 .4 .4-.3 .4 .4 .3-.3 .5 .3 .3-.3 .4 .2 .4-.5 .4 .7 .3-.5 .5 .5 .3-.3 .4 0 .4-.3 .4 .6 .4-.5 .4 .3 .3-.4 .4 .4 .4-.4 .4 .4 .4-.2 .4 .2 .3-.3 .4 .5 .4-.5 .4 .3 .4-.3 .4 .4 .3-.3 .5 .3 .3-.4 .4 .5 .4-.5 .4 .4 .3-.4 .5 .5 .3-.3 .4 .1 .4-.2 .4 .2 .3-.4 .5 .5 .3-.3 .4 .3 .4-.3 .4 .3 .4-.2 .4 .2 .3-.4 .4 .4 .4-.5 .4 .6 .4-.5 .4 .3 .3-.3 .4 .4 .4-.3 .4 .2 .4-.4 .4 .5 .3-.5 .5 .6 .3-.3 .4 .1 .4-.3 .4 .4 .3-.6 .5 .8 .3-.5 .4 .4 .4-.4 .4 .3 .3-.4 .5 .5 .3-.4 .4 .3 .4-.3 .4 .2 .3-.4 .5 .5 .3-.4 .4 .3 .4-.2 .4 .3 .4-.3 .4 .2 .3-.3 .4 .4 .4-.5 .4 .4 .4-.3 .4 .5 .3-.4 .4 .2 .4-.3 .4 .4 .4-.3 .4 .2 .3-.3 .5 .5 .3-.4 .4 .2 .4-.3 .4 .3 .3-.3 .5 .4 .3-.4 .4 .4 .4-.4 .4 .4 .3-.4 .5 .3 .3-.2 .4 .3 .4-.3 .4 .2 .4-.5 .4 .7 .3-.3 .4 .2 .4-.2 .4 .3 .4-.4 .4 .3 .3-.3 .4 .2 .4-.3 .4 .2 .4-.2 .4 .4 .3-.4 .5 .4 .3-.3 .4 .2 .4-.4 .4 .4 .3-.3 .5 .3 .3-.4 .4 .6 .4-.4 .4-.4 .3-2.4 .5-3.1 .3-1.7 .4 1.9 .4-1.6 .4 3.6 .4-1.8 .4 1 .3-2.4 .4-1.1 .4-2.4 .4 .2 .4-3.3 .4 4.3 .3-2.7 .4 7 .4-3.1 .4 4.5 .4-3.3 .4 2.2 .3-2.8 .5-3.8 .3-3.3 .4 3.5 .4-8.9 .4 4.8 .3-11 .5 15.2 .3-11.4 .4 11.1 .4-12.2 .4 11.4 .3-14.2 .5 10.7 .3-13.2 .4 12.4 .4-13.6 .4 8.6 .4-14.6 .4 17.3 .3-17.5 .4 14.5 .4-21.4 .4 21.6 .4-13.5 .4 4.1 .3-13.4 .4 17.1 .4-21.1 .4 20.4 .4-18.9 .4 19.9 .3-25.4 .4 33.2 .4-18.1 .4 14.5 .4-18.1 .4 28.6 .3-19.5 .5 17.2 .3-26.4 .4 24.9 .4-22.1 .4 16.7 .3-17 .5 18.4 .3-21.3 .4 15.6 .4-20.9 .4 11.9 .3-22.1 .5 20.7 .3-18.9 .4 24.3 .4-19.4 .4 14.2 .4-17.8 .4 13.2 .3-21.8 .4 16.6 .4-20.2 .4 20.9 .4-22.9 .4 33.1 .3-30.2 .4 27.8 .4-28 .4 24.1 .4-19.8 .4 20.6 .3-15 .5 17.5 .3-22.8 .4 14.8 .4-14 .4 10.8 .3-17 .5 24.2 .3-21.6 .4 25.3 .4-21.1 .4 9.3 .3-24.2 .5 31.1 .3-19.5 .4 17.2 .4-19.8 .4 20.6 .4-25.4 .4 29 .3-15.7 .4 3 .4-16.6 .4 26.1 .4-29.5 .4 17.3 .3-20.2 .4 25.1 .4-23.5 .4 27.7 .4-18.2 .4 9.8 .3-18.3 .5 23.7 .3-24.6 .4 29.7 .4-30.4 .4 19 .3-27.9 .5 29.2 .3-25.8 .4 27.8 .4-28.9 .4 19.5 .3-21.3 .5 23.4 .3-21.2 .4 18.5 .4-22.2 .4 21.7 .4-14.6 .4 11.6 .3-17.7 .4 21.2 .4-15.7 .4 10.9 .4-22.9 .4 24.7 .3-26 .4 19 .4-22.9 .4 33.8 .4-27.8 .4 21.1 .3-30.3 .5 26.1 .3-32.4 .4 29.2 .4-16.3 .4 18.8 .3-27.2 .5 13 .3-13.8 .4 25.2 .4-20.3 .4 28.7 .3-25.2 .5 21.2 .3-18 .4 23.5 .4-18.5 .4 16.8 .4-20.2 .4 16.9 .3-14 .4 9.4 .4-15.1 .4 13.2 .4-19.8 .4 20.2 .3-18.2 .4 20.9 .4-25.8 .4 16.2 .4-18 .4 15.2 .3-16.5 .4 24.5 .4-22 .4 20.8 .4-29.7 .4 25 .3-20.6 .5 17.7 .3-18.5 .4 18.4 .4-24.1 .4 16.8 .3-21.7 .5 22.4 .3-23.3 .4 27 .4-22.3 .4 16.1 .3-21.6 .5 22.1 .3-23.5 .4 29.3 .4-19.6 .4 10.8 .4-14.2 .4 17.3 .3-23.1 .4 26.4 .4-17.2 .4 19 .4-15.1 .4 19.1 .3-28.1 .4 31 .4-20.7 .4 38 .4-30.8 .4 26 .3-17.6 .5 2.4 .3-17.7 .4 17.1 .4-24.6 .4 11.1 .3-19.4 .5 33.2 .3-21.8 .4 1.7 .4-19.5 .4 28.9 .3-20.4 .5 20.1 .3-29.9 .4 27.8 .4-13.8 .4 13.9 .4-21.2 .4 25.6 .3-22.4 .4 19.3 .4-16.3 .4 14 .4-15 .4 14.6 .3-19.1 .4 20.6 .4-19.7 .4 15.4 .4-17.5 .4 21.6 .3-15 .5 19.6 .3-19.6 .4 16.8 .4-18.3 .4 20.7 .3-21.3 .5 23.5 .3-22.7 .4 17.7 .4-14.6 .4 27.9 .3-15.4 .5 10.4 .3-19.7 .4 25.9 .4-18.8 .4 24.3 .4-17.7 .4 6.5 .3-13 .4 20 .4-25.4 .4 17.3 .4-18.1 .4 26.6 .3-21.9 .4 21 .4-17.8 .4 16.5 .4-19.4 .4 15.6 .3-21.7 .5 18.1 .3-14.5 .4 15.9 .4-16.3 .4 16.6 .3-11 .5 14.8 .3-13.8 .4 11.5 .4-18.3 .4 29.5 .3-18.9 .5 15.2 .3-11.6 .4 23.4 .4-18.5 .4 12.3 .4-13.1 .4 13.4 .3-16.2 .4 3.6 .4-18.8 .4 20.6 .4-14.5 .4 18.9 .3-18.9 .4 14.3 .4-18.8 .4 22.2 .4-17.9 .4 19.4 .3-15.2 .4 13.7 .4-10.5 .4 17.3 .4-17.3 .4 13.6 .3-10.1 .5 15.3 .3-10.8 .4 17.7 .4-17.1 .4 16.8 .3-19.7 .5 16.5 .3-15.5 .4 17.7 .4-9.8 .4 17.1 .3-20.6 .5 14.8 .3-13.2 .4 16.2 .4-16.8 .4 22.2 .4-11.1 .4 15.3 .3-20.4 .4 11.3 .4-20.7 .4 25.2 .4-11.2 .4 11.5 .3-11.4 .4 10.1 .4-18.7 .4 27.1 .4-16.5 .4 16.2 .3-13.2 .5 19.5 .3-18 .4 35.9 .4-21.3 .4 13.1 .3-14.5 .5 29.5 .3-17.4 .4 21 .4-13.8 .4 9.7 .3-9.9 .5 17.6 .3-13.9 .4 2.9 .4-10.5 .4 12.6 .4-16.4 .4 22.1 .3-20.6 .4 26.2 .4-15.4 .4 24.9 .4-23.6 .4 11.9 .3-16.9 .4 32.4 .4-19.9 .4 13.1 .4-19.7 .4 20.9 .3-11.9 .5 9.7 .3-12.1 .4 7.4 .4-10 .4 10.2 .3-13.2 .5 7.1 .3-13.9 .4 12.5 .4-10.9 .4 12.3 .3-8.4 .5 15.1 .3-12.5 .4 8.1 .4-8.7 .4 5.8 .4-14.8 .4 12.7 .3-9.8 .4 9.1 .4-14.2 .4 9.3 .4-11.9 .4 17 .3-14.4 .4 18.8 .4-16.6 .4 11.2 .4-9.4 .4 12.7 .3-7.5 .5 20 .3-2.5 .4 9.6 .4-.9 .4 .5 .3-2.2 .5 2 .3-2.4 .4 2.8 .4-2.4 .4 2.8 .3-1.7 .5 .5 .3-2 .4-3.9 .4-1.7 .4-.4 .3-1.7 .5 2.7 .3-2.2 .4 1.6 .4-2 .4 1.6 .4-2.3 .4 2.9 .3-2.7 .4 3.6 .4-1.4 .4 3.4 .4-2 .4 5.1 .3-2.2 .4 5.1 .4-3.2 .4-.1 .4-2.1 .4 3.4 .3-4.2 .5 3.9 .3-2.5 .4 4.8 .4-3.8 .4 1.6 .3-2.3 .5 .6 .3-1.5 .4 2.3 .4-3.5 .4 3.6 .3-2 .5 3.2 .3-3.9 .4 4.3 .4-3.2 .4 3.5 .4-1.3 .4 1.3 .3-1.2 .4 1.4 .4-.5 .4 .5 .4-.4 .4 .5 .3-.3 .4 .2 .4-.4 .4 .4 .4-.4 .4 .4 .3-.3 .5 .3 .3-.4 .4 .2 .4-.3 .4 .5 .3-.4 .5 .5 .3-.4 .4 .2 .4-.3 .4 .3 .3-.3 .5 .6 .3-.5 .4 .4 .4-.4 .4 .4 .4-.3 .4 .3 .3-.4 .4 .4 .4-.4 .4 .2 .4-.3 .4 .4 .3-.3 .4 .3 .4-.4 .4 .4 .4-.4 .4 .4 .3-.4 .5 .3 .3-.3 .4 .3 .4-.2 .4 .2 .3-.4 .5 .4 .3-.4 .4 .5 .4-.4 .4 .4 .3-.4 .5 .4 .3-.3 .4 .1 .4-.3 .4 .5 .4-.4 .4 .5 .3-.5 .4 .4 .4-.3 .4 .2 .4-.4 .4 .4 .3-.4 .4 .6 .4-.4 .4 .4 .4-.5 .4 .3 .3-.4 .5 .6 .3-.5 .4 .4 .4-.3 .4 .2 .3-.3 .5 .3 .3-.2 .4 .2 .4-.3 .4 .4 .3-.3 .5 .3 .3-.3 .4 .2 .4-.3 .4 .4 .3-.4 .5 .4 .3-.3 .4 .2 .4-.3 .4 .3 .4-.2 .4 .3 .3-.3 .4 .2 .4-.3 .4 .5 .4-.4 .4 .2 .3-.3 .4 .4 .4-.4 .4 .4 .4-.3 .4 .3 .3-.3 .5 .3 .3-.4 .4 .4 .4-.4 .4 .3 .3-.4 .5 .4 .3-.3 .4 .4 .4-.4 .4 .4 .3-.3 .5 .2 .3-.4 .4 .3 .4-.2 .4 .4 .4-.3 .4 .2 .3-.3 .4 .3 .4-.3 .4 .3 .4-.2 .4 .4 .3-.5 .4 .4 .4-.5 .4 .5 .4-.3 .4 .3 .3-.4 .5 .3 .3-.2 .4 .2 .4-.4 .4 .4 .3-.3 .5 .2 .3-.3 .4 .5 .4-.3 .4 .2 .3-.2 .5 .3 .3-.3 .4 .2 .4-.4 .4 .6 .4-.3 .4 .2 .3-.3 .4 .3 .4-.4 .4 .3 .4-.3 .4 .2 .3-.2 .4 .4 .4-.4 .4 .3 .4-.3 .4 .5 .3-.3 .5 .2 .3-.3 .4 .3 .4-.5 .4 .5 .3-.3 .5 .5 .3-.5 .4 .4 .4-.4 .4 .2 .3-.5 .5 0 .3-1.5 .4 1.8 .4-2.1 .4 1.2 .4-2.1 .4 2.1 .3-3.2 .4 2.7 .4-3.6 .4 3.6 .4-2.7 .4 1.2 .3-2.7 .4 2.6 .4-3.3 .4 4 .4-3.1 .4 3.1 .3-2.1 .4 1.6 .4-2 .4 2.2 .4-1.7 .4 4.7 .3-2.5 .5 2.4 .3-3.7 .4 1.3 .4-2.3 .4 4.5 .3-2.7 .5 2.9 .3-1.9 .4 1.8 .4-1 .4 1.2 .3-1.2 .5 .6 .3-2.4 .4 2.7 .4-2.7 .4 1.6 .4-3.5 .4 1 .3-1.7 .4 .3 .4-1.6 .4 3.4 .4-2.2 .4 3.1 .3-1.6 .4 2.5 .4-2.5 .4 .4 .4-1.7 .4-.2 .3-1.3 .5 .6 .3-1.5 .4 2.8 .4-2.1 .4 3.6 .3-2.2 .5 3.5 .3-2.5 .4 5.4 .4-3.3 .4 2 .3-2.9 .5 1.3 .3-3.3 .4 .2 .4-2.6 .4-.1 .4-1.7 .4 .1 .3-1.6 .4 0 .4-2.1 .4 2.3 .4-2.5 .4 4.1 .3-2.9 .4 1.1 .4-2.8 .4 1.2 .4-2.4 .4 2.9 .3-4 .5 6.2 .3-5.9 .4 8.9 .4-11.4 .4 11.9 .3-13.4 .5 13.5 .3-16.1 .4 18.9 .4-14.1 .4 5.3 .3-11.8 .5 17 .3-18.7 .4 11.5 .4-11.3 .4 18.7 .4-24.7 .4 14.4 .3-18 .4 5.2 .4-18.7 .4 28.6 .4-25 .4 26.1 .3-23.1 .4 13.4 .4-13.8 .4 20.6 .4-17.3 .4 15.3 .3-24.2 .5 33.5 .3-23.5 .4 14.5 .4-21 .4 .1 .3-14.4 .5 19.4 .3-20.3 .4 21 .4-22.6 .4 23.1 .3-14.5 .5 21.2 .3-20.1 .4 14.1 .4-21.6 .4 24 .4-17 .4 12.7 .3-15.7 .4 20.9 .4-23.1 .4 15.8 .4-22.5 .4 16.1 .3-21.1 .4 18.5 .4-18.3 .4 20.1 .4-13.4 .4 18.5 .3-12.7 .4 2 .4-16 .4 26.5 .4-18.7 .4 13.2 .3-13.2 .5 19.6 .3-23.7 .4 21.8 .4-18.6 .4 21.4 .3-28.3 .5 18.8 .3-18.3 .4 32.6 .4-24.3 .4 22.4 .3-29.7 .5 29.6 .3-20.3 .4 19.6 .4-26.1 .4 22.2 .4-29 .4 20.4 .3-25.9 .4 28.5 .4-26.1 .4 17.7 .4-23 .4 19 .3-18.3 .4 20.5 .4-16.5 .4 26.7 .4-23.6 .4 21.8 .3-20 .5 28.2 .3-23.2 .4 8.1 .4-21.1 .4 24 .3-21.5 .5 14.5 .3-13.7 .4 21.4 .4-16.2 .4 13.1 .3-18.1 .5 18.8 .3-17.8 .4 8.8 .4-20.2 .4 25.7 .4-18.4 .4 13.5 .3-21.7 .4 16.9 .4-19.9 .4 24.8 .4-18.5 .4 26.2 .3-18.5 .4 11.4 .4-14.8 .4 13.5 .4-16.1 .4 16.3 .3-19.4 .5 14.6 .3-13.6 .4 13.4 .4-19.2 .4 13.7 .3-17.1 .5 16.4 .3-16.5 .4 12.2 .4-21.7 .4 21.1 .3-19.7 .5 12 .3-22.5 .4 20.1 .4-12.7 .4 10.7 .4-14.6 .4 23.3 .3-17.8 .4 9.7 .4-13.5 .4 18.3 .4-11.9 .4 18.7 .3-20.9 .4 17.3 .4-15.3 .4 20.6 .4-14.7 .4 13.4 .3-18.8 .5 10.9 .3-27 .4 24.9 .4-18.3 .4 22.7 .3-19.1 .5 27.1 .3-27.3 .4 24.3 .4-22.1 .4 20 .3-15.6 .5 17.2 .3-23.6 .4 25.1 .4-26.9 .4 23.5 .4-31.6 .4 28.2 .3-21.6 .4 27.7 .4-22.5 .4 16.5 .4-19 .4 22.9 .3-23.4 .4 14.5 .4-22.4 .4 24.3 .4-31.6 .4 22.2 .3-16 .4 15.1 .4-15.8 .4 19.7 .4-23.8 .4 16.9 .3-30 .5 33.7 .3-24.9 .4 24.1 .4-21.4 .4 17.3 .3-23.6 .5 18.1 .3-21.7 .4 23.7 .4-19.8 .4 14.3 .3-20.1 .5 28.9 .3-23.8 .4 20.7 .4-24.8 .4 18.8 .4-14 .4 8.7 .3-21.1 .4 36.1 .4-22.6 .4 17.1 .4-19.9 .4 22.9 .3-20.5 .4 19.3 .4-14.2 .4 17 .4-18.9 .4 30.1 .3-23 .5 18.6 .3-16.1 .4 29.7 .4-19.9 .4 18.4 .3-18.6 .5 25.7 .3-21.5 .4 12.6 .4-24.6 .4 26.8 .3-25.5 .5 13.9 .3-19.4 .4 27.7 .4-29.8 .4 26.8 .4-19.8 .4 6.7 .3-21.7 .4 32.3 .4-27.8 .4 29.3 .4-29.7 .4 29.9 .3-21.4 .4 20.1 .4-21.8 .4 25.9 .4-21.8 .4 22.1 .3-24 .5 23 .3-22.8 .4 30 .4-21.1 .4 25.6 .3-19.7 .5 18 .3-23.4 .4 26.1 .4-25.8 .4 22.1 .3-21.6 .5 24.8 .3-19.8 .4 21.4 .4-25.7 .4 19.9 .4-17.1 .4 23.8 .3-25.5 .4 21.1 .4-21.8 .4 31.8 .4-20.6 .4 10.1 .3-20.2 .4 35.4 .4-16.2 .4 24.7 .4-19.6 .4 16.2 .3-19.8 .5 31.2 .3-17.6 .4 10.7 .4-16.2 .4 16.4 .3-14.4 .5 10.7 .3-19.5 .4 17.3 .4-15.2 .4 13.2 .3-17.3 .5 13.5 .3-12.7 .4 20.9 .4-22.6 .4 22.9 .3-18.3 .5 8.9 .3-10.2 .4 17.9 .4-9.4 .4 15.2 .4-18.4 .4 21.5 .3-19.7 .4 15.3 .4-12.4 .4 12.5 .4-10.2 .4 10 .3-12.9 .4 13.4 .4-13.3 .4 10.7 .4-12.2 .4 16.3 .3-15.2 .5 20.4 .3-15 .4 18.9 .4-14.4 .4 18.7 .3-13.9 .5 8.5 .3-14.8 .4 12.7 .4-9.4 .4 9.6 .3-21.4 .5 23.8 .3-16.3 .4 7.6 .4-11.6 .4 10.2 .4-11.9 .4 12.3 .3-11 .4 13.9 .4-10 .4 12.6 .4-15.1 .4 17.7 .3-9.1 .4 17.6 .4-12.8 .4 16 .4-9 .4 17 .3-10.9 .5 17.9 .3-12.8 .4 16.7 .4-12.9 .4 9.6 .3-9 .5 13 .3-11.1 .4 17.6 .4-7.7 .4 10.1 .3-5.5 .5 8.6 .3-2.5 .4 3.7 .4-2.1 .4 4 .4-2.1 .4 2.3 .3-2.6 .4 2.4 .4-1.7 .4 1.8 .4-2.3 .4 2.7 .3-1.9 .4 3 .4-3.6 .4 1.8 .4-2.4 .4 3.2 .3-2 .5 1.2 .3-1.4 .4 2.3 .4-2.5 .4 1.2 .3-7.1 .5 1.5 .3-12.2 .4 10.4 .4-15.6 .4 20.2 .3-16.7 .5 11.4 .3-3.3 .4 9.9 .4-2.4 .4 4.2 .4-3.5 .4 3.3 .3-2.9 .4 4.3 .4-1.6 .4 1.9 .4-1.3 .4 .7 .3-1.8 .4 2.4 .4-2.9 .4 1.7 .4-2.4 .4 1.7 .3-2.4 .5 2.2 .3-2.2 .4 .6 .4-1.8 .4 2.6 .3-2.9 .5 3.6 .3-3.7 .4 2.1 .4-3.1 .4 3 .3-1.9 .5 1.5 .3-2.3 .4 4.9 .4-3.1 .4 2.6 .3-3.3 .5 4 .3-2.8 .4 2.8 .4-3.2 .4 3.6 .4-1.2 .4 1 .3-.7 .4 1.4 .4-.4 .4 .5 .4-.4 .4 .3 .3-.3 .4 .2 .4-.4 .4 .4 .4-.4 .4 .5 .3-.4 .5 .3 .3-.3 .4 .3 .4-.3 .4 .2 .3-.3 .5 .6 .3-.5 .4 .3 .4-.4 .4 .4 .3-.4 .5 .4 .3-.3 .4 .2 .4-.4 .4 .5 .4-.3 .4 .5 .3-.4 .4 .2 .4-.3 .4 .3 .4-.4 .4 .4 .3-.3 .4 .4 .4-.4 .4 .3 .4-.3 .4 .3 .3-.4 .5 .3 .3-.2 .4 .4 .4-.4 .4 .3 .3-.3 .5 .2 .3-.3 .4 .3 .4-.4 .4 .4 .3-.2 .5 .2 .3-.4 .4 .6 .4-.4 .4 .4 .4-.4 .4 .3 .3-.3 .4 .3 .4-.4 .4 .5 .4-.3 .4 .4 .3-.4 .4 .2 .4-.3 .4 .2 .4-.3 .4 .4 .3-.4 .5 .4 .3-.4 .4 .5 .4-.5 .4 .5 .3-.5 .5 .4 .3-.4 .4 .4 .4-.4 .4 .4 .3-.4 .5 .4 .3-.4 .4 .4 .4-.3 .4 .3 .4-.3 .4 .2 .3-.4 .4 .6 .4-.5 .4 .4 .4-.4 .4 .4 .3-.4 .4 .4 .4-.2 .4 .2 .4-.5 .4 .5 .3-.4 .4 .4 .4-.4 .4 .4 .4-.3 .4 .4 .3-.3 .5 .4 .3-.5 .4 .3 .4-.4 .4 .4 .3-.5 .5 .6 .3-.5 .4 .5 .4-.4 .4 .3 .3-.3 .5 .5 .3-.4 .4 .3 .4-.3 .4 .3 .4-.5 .4 .2 .3-.4 .4 .6 .4-.3 .4 .3 .4-.4 .4 .5 .3-.5 .4 .3 .4-.3 .4 .5 .4-.5 .4 .6 .3-.4 .5 .3 .3-.6 .4 .6 .4-.4 .4 .3 .3-.3 .5 .4 .3-.3 .4 .2 .4-.4 .4 .3 .3-.3 .5 .4 .3-.4 .4 .4 .4-.4 .4 .4 .4-.3 .4 .3 .3-.4 .4 .6 .4-.4 .4 .2 .4-.3 .4 .2 .3-.3 .4 .5 .4-.4 .4 .4 .4-.5 .4 .4 .3-.3 .5 .3 .3-.3 .4 .3 .4-.4 .4 .3 .3-.4 .5 .5 .3-.3 .4 .3 .4-.3 .4 .4 .3-.5 .5 .8 .3-1 .4 .9 .4-1 .4 1.4 .4-1.5 .4 .8 .3-1 .4 .8 .4-1.3 .4 2.1 .4-1.8 .4 1.1 .3-1.8 .4 1.8 .4-1.6 .4 1.8 .4-2.9 .4 2.2 .3-1.5 .5 1.7 .3-2.4 .4 1.8 .4-3 .4 3.1 .3-3.6 .5 3.2 .3-3 .4 3.2 .4-2.5 .4 1.6 .3-2.7 .5 2.3 .3-2.8 .4 4.3 .4-3.1 .4 2.6 .4-3.5 .4 2.2 .3-2 .4 2.8 .4-2.2 .4 .9 .4-2.6 .4 1.4 .3-1.8 .4 1.9 .4-2.2 .4-.7 .4-2.8 .4-1.3 .3-1.8 .4 3.2 .4-3.2 .4 8.2 .4-5.6 .4 .6 .3-7.3 .5 8.9 .3-9 .4 10 .4-10.5 .4-.5 .3-12.4 .5 11.6 .3-11.5 .4 13.7 .4-13.1 .4 11.5 .3-13.4 .5 18.1 .3-14.6 .4 15.9 .4-22.2 .4 17.3 .4-19.8 .4 14.1 .3-17.4 .4 18.6 .4-18.3 .4 23.5 .4-23.7 .4 24.9 .3-17 .4 10.5 .4-16.3 .4 12.3 .4-19.5 .4 10.5 .3-17.8 .5 27.3 .3-21.1 .4 15.5 .4-14 .4 10.8 .3-13.6 .5 16.6 .3-12.7 .4 15 .4-17.9 .4 15.7 .3-16.9 .5 14.3 .3-17.2 .4 19.5 .4-20.1 .4 9 .4-22.5 .4 27.3 .3-13 .4 8.4 .4-12.7 .4 20.3 .4-17 .4 10.5 .3-24.3 .4 29.5 .4-24.7 .4 24.9 .4-18.3 .4 18.4 .3-22 .5 12.5 .3-23.1 .4 28.2 .4-23.1 .4 20 .3-18 .5 18 .3-17.6 .4 14.8 .4-24.8 .4 32.3 .3-17 .5 20.6 .3-15.9 .4 7.5 .4-15.5 .4 18.3 .4-17.5 .4 16.6 .3-32 .4 34.6 .4-34.3 .4 26.1 .4-28.4 .4 34.9 .3-27.7 .4 15.4 .4-25.5 .4 38.6 .4-29.3 .4 24.7 .3-23.9 .5 27.5 .3-26.9 .4 23.7 .4-21.8 .4 19.6 .3-27.7 .5 21.5 .3-18.4 .4 22 .4-22.8 .4 8.3 .3-14 .5 28.7 .3-21.5 .4 18 .4-18.6 .4 20.3 .4-25.2 .4 18 .3-15.5 .4 13.2 .4-17.5 .4 18.6 .4-27.3 .4 16.1 .3-19 .4 13.4 .4-27.3 .4 36.7 .4-16.9 .4 17.8 .3-19 .4 15.1 .4-15.7 .4 22.2 .4-19.4 .4 21.6 .3-24.3 .5 25.2 .3-23.7 .4 15.9 .4-14.7 .4 12.1 .3-18.7 .5 18.3 .3-13.8 .4 6.6 .4-25.8 .4 30.4 .3-31 .5 30.8 .3-20.1 .4 11.8 .4-19.2 .4 26.1 .4-15.9 .4 11.6 .3-23.1 .4 17.5 .4-12.4 .4 11.5 .4-11.6 .4 1.2 .3-18.8 .4 24.1 .4-18.4 .4 15.7 .4-15.7 .4 19.9 .3-20.4 .5 6.4 .3-23.4 .4 7.7 .4-15.4 .4 25.5 .3-21.4 .5 21.2 .3-22.8 .4 8.1 .4-18.4 .4 19.3 .3-15.8 .5 15 .3-25.7 .4 33.9 .4-20.9 .4 17 .4-25 .4 27.1 .3-19.6 .4 15.7 .4-12.6 .4 14.1 .4-14.2 .4 16.9 .3-14.1 .4 17.8 .4-21.6 .4 11.7 .4-15.3 .4 29.4 .3-22.8 .5 21.4 .3-30 .4 21.4 .4-13.6 .4 11.7 .3-17.7 .5 27.8 .3-24.8 .4 18.3 .4-24 .4 27.5 .3-28.7 .5 28.7 .3-15.4 .4 29.2 .4-33.7 .4 29.9 .4-23.4 .4 31.9 .3-18.3 .4 18.6 .4-21.8 .4 32 .4-22.6 .4 11.6 .3-29.1 .4 26 .4-21.1 .4 12.4 .4-18 .4 25.9 .3-22.8 .5 17.3 .3-23.8 .4 14.3 .4-24.1 .4 24.5 .3-21.2 .5 18.1 .3-29.5 .4 26.9 .4-18.5 .4 19.4 .3-20 .5 19.9 .3-19.5 .4 22.2 .4-22.2 .4 26.6 .3-14.3 .5 19.6 .3-18.6 .4 21.5 .4-22.5 .4 25.7 .4-15.4 .4 12.5 .3-27.8 .4 18.3 .4-14 .4 15.4 .4-12.2 .4 24.7 .3-25.6 .4 16.3 .4-20 .4 20.9 .4-20.5 .4 33.3 .3-18.5 .5 15.5 .3-13.8 .4 13.5 .4-15.6 .4 25.8 .3-14.2 .5 11.7 .3-16.9 .4 19.3 .4-16 .4 20.8 .3-12.9 .5 12.5 .3-13.8 .4 26 .4-20 .4 24.9 .4-20.9 .4 8.9 .3-17.9 .4 20.1 .4-16.1 .4 25.9 .4-26.9 .4 26.7 .3-32.1 .4 27.9 .4-18.5 .4 26.1 .4-18.2 .4 12.6 .3-21.3 .5 19.8 .3-18.4 .4 14.1 .4-20.7 .4 20.7 .3-15.7 .5 24.2 .3-17.3 .4 11.8 .4-18.7 .4 19.4 .3-15.6 .5 14.4 .3-18.8 .4 23.8 .4-20.2 .4 12.5 .4-23.5 .4 23.7 .3-12.6 .4 17.6 .4-14.9 .4 12.2 .4-15.6 .4 15 .3-12.6 .4 12.9 .4-19 .4 18.5 .4-12 .4 20.1 .3-12" stroke="#1C86EE" stroke-width="1.8" fill="none" stroke-linejoin="round" shape-rendering="crispEdges"/>
<rect x="97" y="561" width="1616" height="47" fill="#D9D9D9"/>
<rect x="97" y="608" width="1616" height="486" fill="#EBEBEB"/>
<path d="M97 1063.5H1713M97 930.5H1713M97 797.5H1713M97 664.5H1713M571.5 608V1094M1133.5 608V1094M1695.5 608V1094" stroke="#fff" stroke-width="1" fill="none"/>
<path d="M97 997H1713M97 864H1713M97 731H1713M291 608V1094M852 608V1094M1414 608V1094" stroke="#fff" stroke-width="2" fill="none"/>
<text x="82.6" y="1007.2" font-size="23.5" fill="#4D4D4D" text-anchor="end">-20</text>
<text x="82.6" y="874.2" font-size="23.5" fill="#4D4D4D" text-anchor="end">0</text>
<text x="82.6" y="741.2" font-size="23.5" fill="#4D4D4D" text-anchor="end">20</text>
<path d="M89 997H97M89 864H97M89 731H97" stroke="#2b2b2b" stroke-width="2" fill="none"/>
<text x="905.0" y="594.3" font-size="23.2" fill="#1A1A1A" text-anchor="middle">McGeeCreekTrib</text>
<path d="M476 844.2l.4-102.7 .4 103.9 .4-117.4 .4 114.7 .3-104.6 .5 101.3 .3-101.5 .4 98.3 .4-99.5 .4 95.7 .3-81 .5 77.1 .3-107.6 .4 104.7 .4-122.9 .4 121.5 .3-135.2 .5 139.6 .3-130.8 .4 131.9 .4-122.6 .4 138 .4-109.7 .4 122.1 .3-132.4 .4 135.5 .4-121.9 .4 117.5 .4-120 .4 127.3 .3-128.5 .4 128.9 .4-116.2 .4 97.8 .4-111.9 .4 115.5 .3-95.4 .5 113.9 .3-86.5 .4 90.8 .4-103.6 .4 86.8 .3-83.9 .5 73.6 .3-71.5 .4 70 .4-92.8 .4 107.5 .3-72.6 .5 64.4 .3-60.8 .4 73.6 .4-74 .4 80.5 .3-85.5 .5 78.5 .3-78.6 .4 67.7 .4-61.1 .4 63.3 .4-48.9 .4 45 .3-48.7 .4 39.7 .4-23.8 .4 20.9 .4-18.2 .4 13.1 .3-22.7 .4 36.7 .4-29.4 .4 16.6 .4-18 .4 19.6 .3-16.1 .5 18.6 .3-23.2 .4 65.2 .4-88.3 .4 73.3 .3-55.4 .5 60.4 .3-54.7 .4 29 .4-32.8 .4 28.3 .3-21.5 .5 20.6 .3-12.7 .4 14.2 .4-21.9 .4 36.7 .4-34 .4 18.2 .3-21.7 .4 18.2 .4-20 .4 29.1 .4-21.8 .4 32.7 .3-33.8 .4 18.3 .4-36 .4 24.1 .4-14.1 .4 43.6 .3-56.6 .5 12.9 .3-30.2 .4 22.5 .4-46 .4 74.9 .3-47.9 .5 51.2 .3-47.5 .4 24.7 .4-12.3 .4 16.3 .3-30.1 .5 65.3 .3-57.2 .4 29.2 .4-14.6 .4 17.5 .4-7.2 .4 11.4 .3-9.2 .4 36.7 .4-40.1 .4 40.2 .4-42.9 .4 27.3 .3-27.8 .4 34.9 .4-15.4 .4 36.9 .4-19.2 .4 61.6 .3-70.6 .5 52.3 .3-31.1 .4 47.9 .4-47.4 .4 23.4 .3-39.5 .5 74.8 .3-56.9 .4 19.4 .4-14.8 .4 13.4 .3-14.8 .5 15.7 .3-48 .4 49 .4-15.9 .4 19.2 .4-19.6 .4 79.6 .3-78.8 .4 31.2 .4-34.7 .4 43.8 .4-49 .4 16.3 .3-49.6 .4 90.3 .4-64.7 .4 23.1 .4-37.9 .4 38 .3-35.8 .5 44.9 .3-43.5 .4 43.4 .4-41.3 .4 32 .3-29.3 .5 25.9 .3-40.9 .4 19.8 .4-10.9 .4 14.4 .3-8.9 .5 12 .3-25 .4 46.6 .4-27.8 .4 44.9 .3-39.1 .5 18.5 .3-12.2 .4 28.8 .4-23.1 .4 36.1 .4-28.2 .4 46 .3-73.5 .4 124.1 .4-87.2 .4 42.5 .4-40.6 .4 43.7 .3-60.7 .4 56.2 .4-60.6 .4 37 .4-60.1 .4 64.9 .3-45.9 .5 3.5 .3-8.2 .4 3.5 .4-8.4 .4 4.2 .3-12.3 .5 43.9 .3-67.8 .4 66 .4-49.3 .4 26.6 .3-19.4 .5 15.2 .3-18.8 .4 31.7 .4-40.9 .4 63.5 .4-76.8 .4 60.8 .3-32.1 .4 44.9 .4-44.2 .4 70.2 .4-77.6 .4 42.1 .3-41.9 .4 27.3 .4-10.5 .4 36.6 .4-39.4 .4 17.8 .3-32.1 .5 37.2 .3-41.5 .4 50.9 .4-52.1 .4 61 .3-30.3 .5 120.2 .3-122.2 .4 33.9 .4-26.6 .4 10.5 .3-14.5 .5 44.2 .3-80.5 .4 38 .4-12 .4 18.1 .4-17.3 .4 50.6 .3-65 .4 87.8 .4-71.6 .4 44.3 .4-45.7 .4 49.1 .3-52.7 .4 36.4 .4-41.1 .4 47.4 .4-71.4 .4 69.5 .3-40.6 .5 36.4 .3-39.1 .4 33.6 .4-51.1 .4 122 .3-116.8 .5 45.1 .3-49.6 .4 43.2 .4-15.6 .4 21.4 .3-27.7 .5 17.8 .3-21.6 .4 30.4 .4-33.2 .4 25.1 .4-22.9 .4 14.5 .3-34.3 .4 34.2 .4-26.6 .4 71.5 .4-69.4 .4 33.9 .3-31 .4 63.9 .4-59.3 .4 63 .4-83 .4 136.9 .3-121.1 .4 87.8 .4-92 .4 67.3 .4-55.3 .4 50.1 .3-42.6 .5 73.3 .3-79.8 .4 60.5 .4-96.4 .4 79.7 .3-64.9 .5 74 .3-44.6 .4 130.8 .4-146.8 .4 74.9 .3-56.2 .5 156.3 .3-146.2 .4 60 .4-37.8 .4 47.9 .4-38.9 .4 145.2 .3-188.2 .4 92.8 .4-92.2 .4 74.5 .4-74.7 .4 89.6 .3-55.3 .4 91 .4-134.2 .4 140.5 .4-116 .4 82.5 .3-76.6 .5 52.8 .3-24.7 .4 109.4 .4-135.3 .4 57.7 .3-73.8 .5 59.2 .3-61.6 .4 98.8 .4-78.9 .4 29 .3-41.8 .5 45.1 .3-29.7 .4 33.5 .4-16 .4 26.5 .4-69.3 .4 141.1 .3-93.6 .4 100.3 .4-98.7 .4 96.6 .4-99.1 .4 93.3 .3-94 .4 128.5 .4-138.8 .4 38.8 .4-80 .4 69 .3-71.4 .5 71.7 .3-46.8 .4 112.9 .4-103.3 .4 77.8 .3-129.7 .5 137.9 .3-103.2 .4 97.1 .4-129.7 .4 127.7 .3-152.4 .5 126.9 .3-99.9 .4 94.4 .4-100.9 .4 64.5 .4-80.4 .4 40.6 .3-60.5 .4 100 .4-90.1 .4 45.1 .4-82 .4 57 .3-35.2 .4 88.9 .4-82.8 .4 88.8 .4-92.5 .4 94.3 .3-152.4 .5 120.5 .3-67.2 .4 52 .4-47.2 .4 32.5 .3-30.4 .5 55.3 .3-67.9 .4 102 .4-115.7 .4 103.6 .3-96.2 .5 75.4 .3-68.9 .4 64.7 .4-57.9 .4 58.3 .4-69.5 .4 90.6 .3-102.9 .4 99.5 .4-77.2 .4 96.2 .4-72.1 .4 34.7 .3-39.4 .4 33.6 .4-76.7 .4 67 .4-34.9 .4 62.4 .3-60.3 .4 49.4 .4-44.5 .4 36.4 .4-62.8 .4 60.4 .3-53 .5 55.1 .3-48.9 .4 43.9 .4-50.2 .4 63.2 .3-56.3 .5 43.5 .3-54.9 .4 61.4 .4-49.3 .4 66.7 .3-64.9 .5 48 .3-48.6 .4 78.4 .4-101.6 .4 92.3 .4-96.1 .4 82 .3-91.5 .4 72.9 .4-79.5 .4 78.3 .4-82.5 .4 78.1 .3-85.9 .4 115.2 .4-104.3 .4 94 .4-63.2 .4 62 .3-68.7 .5 77.3 .3-95.9 .4 114.4 .4-76.7 .4 99 .3-88.2 .5 88.7 .3-86.8 .4 110.4 .4-141.1 .4 87.9 .3-60.2 .5 49.6 .3-61.7 .4 64.3 .4-83.4 .4 82.6 .4-85.2 .4 59.8 .3-81.9 .4 79.9 .4-54 .4 58.4 .4-74.2 .4 77.8 .3-80 .4 100.8 .4-116.9 .4 100 .4-109.5 .4 110.5 .3-140.8 .5 142.2 .3-120.7 .4 116.8 .4-115.5 .4 105.5 .3-128.3 .5 135.5 .3-76.7 .4 62.3 .4-75.6 .4 77.1 .3-71.1 .5 82.9 .3-69.5 .4 76.5 .4-77.5 .4 79 .4-58.4 .4 50.3 .3-86.9 .4 80 .4-85.7 .4 92.7 .4-81.2 .4 95.9 .3-118.5 .4 110.7 .4-105.9 .4 104.3 .4-126 .4 111.8 .3-108.4 .5 99.8 .3-58 .4 76.1 .4-142.5 .4 118.2 .3-104.4 .5 103.1 .3-110.2 .4 114.6 .4-115.4 .4 110.9 .3-96 .5 96.2 .3-129.7 .4 131.6 .4-101 .4 103.6 .3-78.5 .5 91 .3-74.1 .4 66.2 .4-48.5 .4 48 .4-59.4 .4 60.5 .3-75.9 .4 67.5 .4-67.8 .4 58.9 .4-71.7 .4 70.1 .3-88.7 .4 90.8 .4-128.3 .4 139.8 .4-107.8 .4 112 .3-113.6 .5 109.1 .3-74.2 .4 73.6 .4-105.3 .4 112.1 .3-134.4 .5 127.9 .3-105.3 .4 111.1 .4-90.9 .4 95.9 .3-75.3 .5 75.8 .3-60.2 .4 59.5 .4-59 .4 64.1 .4-78.4 .4 85.8 .3-105.4 .4 97.7 .4-127.8 .4 115.6 .4-92.2 .4 95.9 .3-116.2 .4 120.9 .4-111.4 .4 110.1 .4-116.6 .4 113.9 .3-129.8 .5 124.2 .3-120.2 .4 122.2 .4-107.8 .4 105.3 .3-105.5 .5 96.3 .3-109.2 .4 101 .4-108.9 .4 114 .3-121.3 .5 123.5 .3-105.3 .4 90.6 .4-78.9 .4 98.5 .4-124.2 .4 107.9 .3-101.5 .4 97.8 .4-85.9 .4 87.5 .4-99 .4 105.8 .3-112.6 .4 119.2 .4-129.6 .4 136.2 .4-118.9 .4 125.1 .3-114.6 .5 119 .3-101.3 .4 98.6 .4-94.2 .4 87.1 .3-72.4 .5 96.8 .3-118.5 .4 103 .4-121.6 .4 125.2 .3-189 .5 181.6 .3-168.2 .4 154.7 .4-142.1 .4 134.4 .4-126 .4 145.3 .3-145.3 .4 126.1 .4-72.9 .4 67.2 .4-94.8 .4 103.2 .3-100.3 .4 89.4 .4-94 .4 100.3 .4-140.6 .4 155.5 .3-134.8 .5 121.7 .3-83.4 .4 87.4 .4-125.8 .4 138.3 .3-153.8 .5 136.8 .3-130.2 .4 119.9 .4-86.3 .4 89 .3-116.5 .5 119.7 .3-141.4 .4 142.2 .4-93.5 .4 112.2 .3-114.7 .5 116.1 .3-116.6 .4 116.6 .4-95.1 .4 101.3 .4-94.8 .4 83.9 .3-99 .4 89.9 .4-100.4 .4 96.5 .4-87.5 .4 95.6 .3-107 .4 110.1 .4-107.5 .4 108.5 .4-127.9 .4 110.3 .3-139.5 .5 160.3 .3-149.2 .4 152.3 .4-131.4 .4 117 .3-98.2 .5 102 .3-94.1 .4 107.9 .4-79.4 .4 89.5 .3-117.4 .5 125.8 .3-127.1 .4 104.3 .4-134.6 .4 132.4 .4-115.3 .4 110.2 .3-110.8 .4 114.5 .4-121.5 .4 129.7 .4-146.3 .4 148.2 .3-134.4 .4 109.1 .4-99 .4 101.8 .4-100.4 .4 104.1 .3-123.8 .5 121.5 .3-73.9 .4 77.1 .4-97.2 .4 99.5 .3-93.6 .5 95.4 .3-96.3 .4 110 .4-75.8 .4 68 .3-74.7 .5 92.4 .3-97.3 .4 83.1 .4-85.8 .4 84.8 .4-85.6 .4 93.7 .3-123.5 .4 117.4 .4-103 .4 100.8 .4-77.1 .4 86.5 .3-57.7 .4 60.9 .4-60.7 .4 47 .4-52.5 .4 50.5 .3-57.2 .5 66 .3-97.5 .4 94.4 .4-77.4 .4 97.3 .3-69.6 .5 58.7 .3-48.5 .4 54.2 .4-56.9 .4 62.2 .3-61.9 .5 92.8 .3-90.6 .4 66.7 .4-58.9 .4 85.1 .4-92 .4 103.6 .3-110.4 .4 114 .4-91.5 .4 71.2 .4-71.2 .4 58.8 .3-59.6 .4 74.8 .4-87.7 .4 79.3 .4-77.6 .4 88.5 .3-74.4 .5 71.8 .3-53.5 .4 61.9 .4-92.9 .4 140.2 .3-123.2 .5 87 .3-103.4 .4 101.7 .4-96.4 .4 84.4 .3-75.2 .5 34.4 .3-69.3 .4 60.2 .4-87.6 .4 99.4 .3-55.7 .5 45.3 .3-53.4 .4 79.3 .4-81.1 .4 65.4 .4-56.8 .4 65.9 .3-72.4 .4 74.3 .4-51.9 .4 30.9 .4-34.4 .4 71.4 .3-93.8 .4 76.2 .4-97.1 .4 109.8 .4-113.6 .4 111 .3-72.4 .5 92.4 .3-32.9 .4 65 .4-72 .4 141.7 .3-182 .5 116.3 .3-95.1 .4 100.7 .4-105.7 .4 66.6 .3-75.3 .5 133.6 .3-104.3 .4 54.5 .4-105.4 .4 121.5 .4-77.2 .4 54.4 .3-63.2 .4 91.5 .4-129.1 .4 99.9 .4-75.3 .4 82.7 .3-118.5 .4 151.7 .4-114 .4 105 .4-111.4 .4 152.7 .3-130 .5 48.2 .3-26.8 .4 29.3 .4-63.2 .4 72.1 .3-60 .5 72.5 .3-66 .4 16.8 .4-29.5 .4 48.5 .3-57.4 .5 71.3 .3-82.4 .4 67.7 .4-54.8 .4 100 .4-90.6 .4 49.7 .3-33.9 .4 54.1 .4-50.7 .4 65.6 .4-66.4 .4 77.8 .3-93.1 .4 63.4 .4-55.2 .4 55.1 .4-47.3 .4 55.8 .3-26.2 .5 39.3 .3-36.1 .4 107.8 .4-153.8 .4 67.4 .3-24.6 .5 19.8 .3-31.2 .4 46.5 .4-53.6 .4 82.9 .3-94.8 .5 50.3 .3-53.4 .4 36.3 .4-33.5 .4 24.9 .4-46.9 .4 37.5 .3-14.4 .4 11.5 .4-8.8 .4 34.9 .4-33 .4 20.4 .3-32.6 .4 42.5 .4-34.8 .4 19.6 .4-18.8 .4 13.6 .3-9.4 .4 38.1 .4-39.9 .4 42.9 .4-53.9 .4 50.2 .3-61.4 .5 48.9 .3-42.6 .4 85.5 .4-72.3 .4 49.5 .3-50.4 .5 61.3 .3-67.3 .4 41.3 .4-79.3 .4 64.5 .3-30.6 .5 70.6 .3-70.6 .4 64.7 .4-55.3 .4 70.3 .4-63.6 .4 84.1 .3-77.3 .4 31.4 .4-57.1 .4 58.2 .4-26.7 .4 18.9 .3-18.2 .4 73.6 .4-70.2 .4 35.3 .4-41.5 .4 27.2 .3-48.1 .5 41.7 .3-29.6 .4 30.2 .4-38.9 .4 21.9 .3-28.9 .5 44.4 .3-42.7 .4 38.6 .4-32.6 .4 36.7 .3-52.1 .5 60.7 .3-22.5 .4 90.2 .4-86.8 .4 28.7 .4-24 .4 14.8 .3-25.6 .4 25.1 .4-40.3 .4 49 .4-73.3 .4 147.9 .3-148.5 .4 58.6 .4-61.1 .4 66.2 .4-34.6 .4 26.2 .3-22 .5 58.8 .3-62.7 .4 16.6 .4-38.6 .4 55 .3-45.8 .5 35.2 .3-32.5 .4 30.7 .4-32.3 .4 34.8 .3-35.2 .5 20.8 .3-33.9 .4 34.9 .4-27.8 .4 15.2 .4-30.4 .4 32.3 .3-21.3 .4 56.5 .4-49.5 .4 58.2 .4-59.5 .4 55.8 .3-92.3 .4 61.2 .4-42.5 .4 53.7 .4-27 .4 48.1 .3-36 .5 118.4 .3-109.1 .4 29.8 .4-47.4 .4 46.5 .3-64.6 .5 68.4 .3-23 .4 37.7 .4-35.9 .4 88.3 .3-83.9 .5 16.1 .3-25.2 .4 28.9 .4-65.8 .4 45.2 .4-38.7 .4 24.9 .3-11.3 .4 44.8 .4-59.3 .4 66.6 .4-70.8 .4 83.2 .3-83.4 .4 105.2 .4-117.7 .4 130.5 .4-119.9 .4 125.9 .3-99.6 .4 117.5 .4-110 .4 78.7 .4-86.2 .4 59.4 .3-113.2 .5 117.1 .3-91.3 .4 70.1 .4-65.4 .4 62.6 .3-69.8 .5 23.1 .3-25.7 .4 17.3 .4-19 .4 18.7 .3-58 .5 55.8 .3-24.7 .4 76.7 .4-82.8 .4 33.4 .4-39.8 .4 67.2 .3-74 .4 106.5 .4-108.9 .4 115.9 .4-118.6 .4 115.4 .3-105.8 .4 116.9 .4-134.6 .4 119.2 .4-78.2 .4 85.1 .3-88.5 .5 77.5 .3-59.5 .4 67.7 .4-67.6 .4 65.6 .3-91.1 .5 90.1 .3-63.7 .4 66.6 .4-46.4 .4 141.1 .3-135.7 .5 34.1 .3-38 .4 25.7 .4-90.8 .4 123.4 .4-106 .4 126.6 .3-131.8 .4 118.7 .4-126.8 .4 108.9 .4-121.1 .4 83.8 .3-92.6 .4 93.2 .4-64.5 .4 81.7 .4-80.9 .4 74.9 .3-72.1 .5 32.4 .3-33.6 .4 50.4 .4-45.8 .4 45.9 .3-34.2 .5 42.9 .3-49.7 .4 33.8 .4-14.9 .4 20 .3-21.6 .5 28.1 .3-49.3 .4 60.7 .4-50.8 .4 104.4 .4-123.5 .4 56.6 .3-37.1 .4 25.9 .4-67.2 .4 90.7 .4-66.4 .4 68.8 .3-77.9 .4 46.3 .4-50.4 .4 69 .4-109.8 .4 109.2 .3-66.7 .5 70.4 .3-64 .4 95.4 .4-116.6 .4 164.2 .3-147.2 .5 136.7 .3-154.6 .4 137.5 .4-130 .4 121.4 .3-117.7 .5 104.7 .3-111.8 .4 108.8 .4-106.9 .4 86.8 .3-88.4 .5 55.6 .3-66 .4 70.1 .4-103.6 .4 117.1 .4-77 .4 78.5 .3-74.3 .4 52.8 .4-48.6 .4 67.9 .4-88.2 .4 73 .3-78.8 .4 80.1 .4-57.5 .4 61.4 .4-89.9 .4 107.7 .3-126.6 .5 120.8 .3-145.2 .4 144.6 .4-112.1 .4 103.9 .3-98.4 .5 110.7 .3-127.5 .4 110 .4-75.7 .4 72.9 .3-69.3 .5 97 .3-129.4 .4 109.4 .4-109.3 .4 103.3 .4-80.1 .4 81 .3-83.6 .4 79.7 .4-53.9 .4 55.1 .4-83.1 .4 103 .3-100.6 .4 78.6 .4-46.6 .4 48.3 .4-47.9 .4 46.3 .3-76.9 .5 81.8 .3-69.6 .4 79.1 .4-73.3 .4 54.6 .3-53.3 .5 55 .3-67.7 .4 70.9 .4-70.9 .4 62.4 .3-71.3 .5 67.8 .3-75.8 .4 84.7 .4-92 .4 87.4 .4-95.1 .4 92.1 .3-99.9 .4 91.1 .4-89.5 .4 83.3 .4-107.2 .4 104.5 .3-93.2 .4 87.3 .4-116.1 .4 144.5 .4-152.5 .4 132.6 .3-148.1 .5 158.4 .3-120.2 .4 124.2 .4-113.6 .4 117.8 .3-111.5 .5 98.9 .3-94.1 .4 90.9 .4-94.1 .4 98.7 .3-89.8 .5 108 .3-115.7 .4 102.5 .4-86.2 .4 89 .4-111 .4 99.8 .3-103.9 .4 109.6 .4-105.7 .4 108.4 .4-115.2 .4 108 .3-144.7 .4 151 .4-117.7 .4 98.3 .4-103.6 .4 104.5 .3-86.4 .5 87 .3-70.2 .4 68.8 .4-76.7 .4 79 .3-62.1 .5 70.1 .3-74.1 .4 74.6 .4-104.4 .4 99.5 .3-88.2 .5 77.1 .3-84.1 .4 90.3 .4-116.7 .4 105.2 .3-114.3 .5 118.5 .3-126.2 .4 137.3 .4-109.4 .4 106 .4-86.1 .4 95.5 .3-80.6 .4 76.9 .4-52.7 .4 52.5 .4-46.1 .4 50.3 .3-63.9 .4 69.6 .4-94.2 .4 110.2 .4-150.4 .4 148.1 .3-142.7 .5 138.5 .3-143.2 .4 129.8 .4-122.5 .4 129.2 .3-99.4 .5 94.1 .3-126 .4 128.2 .4-138.3 .4 129.3 .3-114.9 .5 111.6 .3-120.2 .4 129.2 .4-103.7 .4 115.3 .4-147.6 .4 152 .3-153.8 .4 144 .4-125.2 .4 113 .4-84.9 .4 76.3 .3-118.5 .4 121.2 .4-124.5 .4 132 .4-134.8 .4 134 .3-142.4 .5 127.7 .3-139.1 .4 127.4 .4-118.9 .4 119.8 .3-78.1 .5 95.7 .3-136.8 .4 151.8 .4-146.8 .4 141.6 .3-164.2 .5 153.1 .3-122 .4 105.2 .4-103.4 .4 97.7 .4-110.3 .4 108.2 .3-125.2 .4 123.1 .4-133.4 .4 142.6 .4-133.2 .4 151.4 .3-145.6 .4 142.4 .4-144.4 .4 125.9 .4-114 .4 116.7 .3-127.7 .5 145.2 .3-125.6 .4 125 .4-103.6 .4 96.5 .3-91.6 .5 120.6 .3-141.1 .4 126.2 .4-116.5 .4 119.5 .3-96 .5 102.8 .3-141.7 .4 158.1 .4-160.7 .4 136.4 .4-135 .4 136.3 .3-100.9 .4 99 .4-134.3 .4 131.5 .4-162.8 .4 167.9 .3-141.9 .4 118.2 .4-102.7 .4 104.8 .4-102.6 .4 107.9 .3-124.8 .5 132.9 .3-110.6 .4 106.4 .4-131.5 .4 121 .3-78.5 .5 104.2 .3-133.8 .4 129.5 .4-121.1 .4 119.6 .3-102 .5 101.6 .3-97.3 .4 101.6 .4-130.7 .4 123 .3-109.2 .5 123.1 .3-129.6 .4 104.5 .4-93.1 .4 97.5 .4-98.9 .4 99.1 .3-118.6 .4 140.5 .4-160.3 .4 160 .4-150 .4 149.6 .3-133.1 .4 177.5 .4-184.8 .4 142 .4-114.5 .4 123.9 .3-138.3 .5 123 .3-124.8 .4 116.2 .4-116.2 .4 118.5 .3-129.4 .5 142.5 .3-122.7 .4 115.2 .4-107.4 .4 96.6 .3-62.9 .5 74.5 .3-120.3 .4 135.5 .4-105.7 .4 101.8 .4-75.2 .4 90.3 .3-90.3 .4 71.6 .4-61.8 .4 65.5 .4-50.7 .4 47.9 .3-104.9 .4 109.5 .4-82 .4 84 .4-77.4 .4 70 .3-53.4 .5 59.8 .3-58.3 .4 66.5 .4-87.2 .4 97.7 .3-116.9 .5 89.1 .3-114.1 .4 106.2 .4-56.7 .4 54.2 .3-82.5 .5 97.8 .3-110.6 .4 118.6 .4-94.7 .4 75.5 .4-77.1 .4 73.2 .3-83.3 .4 75.7 .4-90.4 .4 109.8 .4-121.4 .4 89.2 .3-64.2 .4 74.8 .4-78.4 .4 78 .4-74 .4 87.4 .3-31.8 .5 50.8 .3-38.6 .4 57.8 .4-39.6 .4 30.5 .3-28.6 .5 36.9 .3-55.6 .4 62.7 .4-38.3 .4 51.8 .3-50.8 .5 46.6 .3-46.4 .4 36.2 .4-21.2 .4 25.7 .4-42.3 .4 44.6 .3-25.3 .4 58.3 .4-47.8 .4 66.6 .4-58.5 .4 56.9 .3-63.8 .4 131.2 .4-150.9 .4 135.4 .4-96.8 .4 69.1 .3-87.8 .4 43.7 .4-78.9 .4 63.2 .4-90.1 .4 55.2 .3-45.4 .5 44.5 .3-77.1 .4 107.7 .4-80.1 .4 74.4 .3-99.8 .5 34.7 .3-62.8 .4 133.2 .4-114.5 .4 102.1 .3-59.5 .5 45.1 .3-52.2 .4 61.2 .4-21.7 .4 94.5 .4-83.5 .4 35.8 .3-51.9 .4 47.1 .4-36.8 .4 40.6 .4-43 .4 40.1 .3-40.6 .4 42.8 .4-51 .4 16.3 .4-17 .4 13 .3-21.6 .5 49 .3-62 .4 39.6 .4-22.3 .4 36.9 .3-30.7 .5 47.2 .3-51.5 .4 67.6 .4-63.4 .4 40.8 .3-26.6 .5 68.2 .3-72 .4 51.7 .4-32.9 .4 21.8 .4-25.8 .4 18.2 .3-27.1 .4 20.7 .4-46.3 .4 98.7 .4-96.9 .4 65.6 .3-62.2 .4 61.7 .4-57.7 .4 44.6 .4-22.3 .4 23.1 .3-24.8 .5 31.1 .3-40.4 .4 83.9 .4-87.5 .4 38.4 .3-16.2 .5 26 .3-29.6 .4 76.5 .4-97.5 .4 77.3 .3-67.6 .5 35.3 .3-77 .4 57.2 .4-17 .4 53.5 .4-49.2 .4 14.7 .3-26 .4 38.6 .4-31.8 .4 24.5 .4-23.4 .4 15.7 .3-7.8 .4 6.1 .4-7 .4 23 .4-27.5 .4 11 .3-19.2 .5 38.2 .3-42.6 .4 40.7 .4-42.9 .4 60.8 .3-37.7 .5 53.1 .3-51.4 .4 51.6 .4-57.7 .4 34.3 .3-33.8 .5 52.6 .3-38.9 .4 78.5 .4-77.6 .4 24.5 .4-40.5 .4 52.1 .3-64.3 .4 45.6 .4-25.9 .4 59.3 .4-57.5 .4 8.3 .3-11.2 .4 5.1 .4-9.3 .4 6.2 .4-29.1 .4 30.1 .3-20.4 .4 27 .4-31.7 .4 18.2 .4-24 .4 22.1 .3-13.5 .5 24.2 .3-37.6 .4 33 .4-15.7 .4 15.8 .3-12.9 .5 48.9 .3-43.1 .4 39 .4-50.3 .4 50.3 .3-51.2 .5 55.9 .3-55.6 .4 32.5 .4-8.6 .4 46.7 .4-56 .4 48 .3-57.7 .4 43.2 .4-30 .4 21.8 .4-17.9 .4 59.8 .3-87.4 .4 46.1 .4-23.8 .4 40.1 .4-40 .4 30.4 .3-30.1 .5 81.7 .3-95.1 .4 61.2 .4-62.1 .4 104.5 .3-91.6 .5 94 .3-102 .4 111.4 .4-122.1 .4 47.1 .3-55 .5 53.8 .3-32.8 .4 22 .4-49 .4 39.9 .4-17.2 .4 64.8 .3-65.9 .4 34.8 .4-72 .4 65.5 .4-36.9 .4 71.6 .3-56.2 .4 23.1 .4-14.4 .4 26.7 .4-44.1 .4 56.4 .3-21.1 .5 88.9 .3-72.2 .4 27.6 .4-15.4 .4 29 .3-17.4 .5 104.9 .3-141.2 .4 178.7 .4-154.9 .4 84.6 .3-78.6 .5 58.6 .3-85.2 .4 123.8 .4-107.5 .4 27.9 .4-46.8 .4 41.2 .3-75.6 .4 82.3 .4-52.3 .4 43.3 .4-53.7 .4 15.7 .3-21.6 .4 28.5 .4-29.7 .4 33.6 .4-57.4 .4 81.9 .3-82.7 .5 99.6 .3-98.4 .4 59.1 .4-52.7 .4 63.8 .3-79.1 .5 84.4 .3-71.9 .4 62 .4-74.3 .4 54.9 .3-89 .5 96 .3-75.3 .4 19.8 .4-19.1 .4 20.1 .3-20.4 .5 40.5 .3-88.4 .4 71.8 .4-23.1 .4 88.2 .4-82.2 .4 67.2 .3-76.6 .4 45 .4-46.5 .4 46.7 .4-23.4 .4 17.2 .3-30.6 .4 35.8 .4-56.2 .4 113.5 .4-117.5 .4 41.6 .3-69.5 .5 64.3 .3-24.6 .4 24.7 .4-33.2 .4 40.2 .3-66.3 .5 107.8 .3-115.9 .4 59.3 .4-74 .4 90 .3-37.6 .5 31.2 .3-22.7 .4 28.2 .4-34 .4 54.7 .4-53.4 .4 74.2 .3-67.7 .4 50.4 .4-35.3 .4 26.2 .4-27.7 .4 24.5 .3-27.1 .4 27.8 .4-75.5 .4 77.4 .4-69.2 .4 140 .3-134.8 .5 63.9 .3-68.9 .4 63.7 .4-90.5 .4 99.9 .3-106.9 .5 87.6 .3-74.4 .4 116.6 .4-105.2 .4 69.5 .3-62.8 .5 57.3 .3-40.6 .4 46.8 .4-52.5 .4 81.9 .4-69.7 .4 54.4 .3-40.6 .4 51.3 .4-71 .4 92.2 .4-82.1 .4 87 .3-76.1 .4 84.2 .4-108.6 .4 59.5 .4-48.1 .4 46.9 .3-51.8 .5 70 .3-82.6 .4 85.1 .4-107.8 .4 85.5 .3-114.6 .5 119.1 .3-94.7 .4 100.3 .4-75 .4 106.1 .3-97.9 .5 47.5 .3-81.4 .4 80.1 .4-52.8 .4 61.7 .4-54.3 .4 40.7 .3-41.7 .4 56.6 .4-62.1 .4 58.6 .4-66.3 .4 58 .3-68.5 .4 67.5 .4-71 .4 73.9 .4-121.3 .4 142.5 .3-94.6 .5 92 .3-81.3 .4 61.4 .4-53.6 .4 59.9 .3-68.5 .5 77 .3-62.1 .4 60.3 .4-123.1 .4 121.3 .3-152.4 .5 151.1 .3-97.2 .4 97.9 .4-87.4 .4 82.8 .3-66.3 .5 59 .3-60.9 .4 80.5 .4-83.9 .4 69.6 .4-81.6 .4 83.3 .3-94.1 .4 90 .4-81.3 .4 78.8 .4-85.8 .4 101.1 .3-117.4 .4 119.5 .4-160.5 .4 164.5 .4-147.2 .4 147.8 .3-134.8 .5 124.2 .3-103.7 .4 102.6 .4-99.8 .4 89 .3-86 .5 78.1 .3-90.9 .4 105.8 .4-110.5 .4 96.5 .3-103 .5 107.4 .3-114.6 .4 123.7 .4-126.9 .4 120 .4-108.8 .4 112.5 .3-119.9 .4 126.4 .4-166.5 .4 148.3 .4-124.2 .4 111.1 .3-116.8 .4 128 .4-137.2 .4 140.9 .4-177.5 .4 169.4 .3-153.9 .5 140.2 .3-125.6 .4 144 .4-116.6 .4 95.8 .3-63.4 .5 73.2 .3-107.5 .4 117.2 .4-116.5 .4 121.8 .3-136.5 .5 130.7 .3-154.9 .4 173.7 .4-201.8 .4 170.6 .4-134.7 .4 148 .3-131.9 .4 133.3 .4-120.9 .4 115.4 .4-122.4 .4 122.4 .3-116.3 .4 105 .4-87.3 .4 98 .4-109.1 .4 96.1 .3-116.7 .5 123.7 .3-152.1 .4 131.3 .4-112.6 .4 114.4 .3-115.1 .5 115.7 .3-122.4 .4 118.6 .4-133.1 .4 126.5 .3-134.5 .5 148.3 .3-123.4 .4 133.1 .4-169.1 .4 149 .4-169.8 .4 166.2 .3-158.3 .4 167.3 .4-138.7 .4 141.5 .4-125.6 .4 114.2 .3-134.7 .4 149.5 .4-112.2 .4 109.3 .4-117.6 .4 117.8 .3-134.1 .5 131.3 .3-132.8 .4 142.9 .4-111.2 .4 112.3 .3-136.9 .5 135.6 .3-142.5 .4 128.8 .4-91 .4 88.8 .3-123.3 .5 138.4 .3-153.1 .4 154.2 .4-106.8 .4 106.2 .3-131 .5 133.9 .3-129.4 .4 125 .4-143.3 .4 127.5 .4-137.8 .4 132.7 .3-114.1 .4 115.9 .4-106.5 .4 122 .4-108.1 .4 113.2 .3-128.2 .4 136.8 .4-113.7 .4 100.4 .4-87.7 .4 84.6 .3-124.4 .5 125.9 .3-150.2 .4 150.1 .4-116.4 .4 99.9 .3-126.3 .5 135.7 .3-133.2 .4 138 .4-134 .4 141.5 .3-166.6 .5 149.9 .3-108.4 .4 103.5 .4-93.9 .4 104.1 .4-93.3 .4 101.4 .3-126.6 .4 126 .4-119.9 .4 113.6 .4-110.4 .4 116.9 .3-112.8 .4 114 .4-91.4 .4 91.6 .4-107.8 .4 105.4 .3-83.2 .5 90.7 .3-96.5 .4 94.1 .4-123.2 .4 126 .3-141.3 .5 137.2 .3-137.8 .4 138.3 .4-157.7 .4 147.7 .3-81.9 .5 74.4 .3-103.3 .4 126.8 .4-88.8 .4 91.8 .4-94.5 .4 101.7 .3-111.8 .4 116.1 .4-92.6 .4 89.8 .4-83 .4 107.4 .3-108.5 .4 87.2 .4-103.3 .4 115.7 .4-110.8 .4 106.4 .3-127.2 .5 107.5 .3-96.2 .4 110 .4-118.7 .4 98.9 .3-100.1 .5 102.6 .3-99.2 .4 101.8 .4-115.1 .4 114.7 .3-87.4 .5 113.8 .3-116.1 .4 102.9 .4-103.5 .4 97.9 .4-108.8 .4 108.2 .3-133 .4 124.8 .4-126.6 .4 118.1 .4-110.6 .4 124.1 .3-138.8 .4 131.4 .4-117.6 .4 112.9 .4-107.1 .4 109.9 .3-102.1 .4 106.1 .4-87 .4 109.3 .4-110.1 .4 101.9 .3-75.8 .5 94.2 .3-92.1 .4 103.4 .4-97.1 .4 103.2 .3-106.3 .5 79 .3-90.6 .4 96.5 .4-89.1 .4 86.1 .3-100.4 .5 95.1 .3-98.5 .4 94.9 .4-97.6 .4 98.8 .4-104.7 .4 106.9 .3-85.2 .4 77.6 .4-99 .4 92.7 .4-115.1 .4 125.7 .3-111.2 .4 128.1 .4-130.7 .4 110.4 .4-106.4 .4 110.5 .3-105.2 .5 105 .3-90.4 .4 115.2 .4-124.5 .4 128.3 .3-128.9 .5 130.9 .3-158.2 .4 151.9 .4-89.6 .4 103.6 .3-126.2 .5 135.3 .3-151.5 .4 155.1 .4-148.9 .4 152.1 .4-120.2 .4 119.8 .3-101.7 .4 83.3 .4-73.9 .4 105.1 .4-129.3 .4 108.4 .3-112 .4 87 .4-97.1 .4 74.6 .4-62.6 .4 86.4 .3-105.1 .5 73.3 .3-93.8 .4 105.9 .4-64.1 .4 62.5 .3-56.1 .5 83.1 .3-77.9 .4 39.7 .4-57.8 .4 63.5 .3-31.3 .5 27.8 .3-40.2 .4 43 .4-23.4 .4 45.3 .4-56.5 .4 41.5 .3-17.7 .4 38.6 .4-34.4 .4 35.8 .4-26.1 .4 33.5 .3-27.5 .4 54.3 .4-69.8 .4 92.6 .4-61.4 .4 24.6 .3-44.1 .5 57.4 .3-60.2 .4 61.6 .4-57.2 .4 46.7 .3-51.1 .5 41.9 .3-64.9 .4 48.6 .4-25.7 .4 40.9 .3-38.2 .5 40.9 .3-39.2 .4 22 .4-12.9 .4 46 .4-62.6 .4 57 .3-43.5 .4 40 .4-61.8 .4 55.4 .4-44.3 .4 42.5 .3-57 .4 41.7 .4-64 .4 82.5 .4-96.5 .4 96.2 .3-54.7 .4 96.2 .4-122.9 .4 79.8 .4-73.1 .4 51.3 .3-22.2 .5 22.1 .3-36 .4 36.8 .4-20 .4 16.8 .3-10.6 .5 36.3 .3-38.4 .4 11.9 .4-10.5 .4 6.4 .3-6.7 .5 10.4 .3-21.1 .4 13.3 .4-15.5 .4 30.4 .4-34.1 .4 8.1 .3-13.6 .4 40.5 .4-79.9 .4 80 .4-45.7 .4 32.5 .3-26.1 .4 61.5 .4-50.3 .4 69.4 .4-70.5 .4 78.5 .3-68.3 .5 82.9 .3-66.9 .4 19.6 .4-18 .4 18.5 .3-23.6 .5 20.1 .3-28.7 .4 25.6 .4-10.4 .4 27.1 .3-28.7 .5 18.3 .3-15.1 .4 27.8 .4-24.8 .4 46.5 .4-36.9 .4 55.6 .3-87.8 .4 145.3 .4-106.6 .4 41.8 .4-38.5 .4 68.4 .3-76.3 .4 63.9 .4-83.4 .4 72.9 .4-88.1 .4 55.4 .3-32.3 .5 56.6 .3-58.5 .4 68.6 .4-43.5 .4 65.1 .3-58.9 .5 97.7 .3-110.9 .4 113.2 .4-135 .4 108.8 .3-85 .5 117.3 .3-94.6 .4 91.8 .4-107.3 .4 135 .4-148.7 .4 109.2 .3-112.4 .4 50 .4-15.3 .4 61.3 .4-71.8 .4 8.9 .3-15.1 .4 10.6 .4-14.6 .4 26 .4-48.7 .4 96.2 .3-121.3 .5 100.1 .3-86.3 .4 70.6 .4-76 .4 67.8 .3-59.3 .5 49.8 .3-58.5 .4 18.6 .4-22.2 .4 5 .3-40.7 .5 39.2 .3-25.3 .4 26 .4-17.7 .4 45.5 .3-42.6 .5 21.1 .3-21.2 .4 32.2 .4-45.9 .4 68.3 .4-51.9 .4 31 .3-15.5 .4 69.7 .4-64.4 .4 29.8 .4-27 .4 46.6 .3-75.3 .4 66.5 .4-37.9 .4 33.9 .4-33.4 .4 27.8 .3-44 .5 107 .3-97.2 .4 37.2 .4-41.7 .4 104.6 .3-114.3 .5 110.2 .3-74.4 .4 88.4 .4-90.6 .4 166.7 .3-163.4 .5 68.9 .3-75.7 .4 33.1 .4-41.4 .4 37.7 .4-79.3 .4 96 .3-73.6 .4 45 .4-45.4 .4 8.5 .4-22 .4 19.4 .3-34.7 .4 44.1 .4-75.4 .4 64.7 .4-26.1 .4 84.2 .3-107.1 .5 70.7 .3-44.7 .4 79.4 .4-65.5 .4 54.6 .3-93.3 .5 55 .3-14.6 .4 76.8 .4-71.9 .4 20.8 .3-14.7 .5 29.5 .3-62.5 .4 71.3 .4-39.9 .4 102.6 .4-93.7 .4 105.1 .3-101 .4 149.8 .4-162.5 .4 221.4 .4-224.9 .4 102 .3-101.8 .4 149.4 .4-157.8 .4 65.3 .4-66.8 .4 82.1 .3-81.2 .5 56.6 .3-63.2 .4 57.7 .4-87.5 .4 80.2 .3-63.4 .5 61.4 .3-62.9 .4 69.3 .4-53.4 .4 46.1 .3-34.2 .5 72.7 .3-96 .4 77.4 .4-52.1 .4 46.9 .4-37 .4 146.8 .3-127.3 .4 15.1 .4-28.1 .4 31.5 .4-42.4 .4 70.8 .3-117.1 .4 53.6 .4-27.5 .4 21.1 .4-44.5 .4 49.2 .3-44.9 .5 53.7 .3-58.2 .4 36.4 .4-43.2 .4 49.4 .3-36.4 .5 67.5 .3-84.3 .4 78.5 .4-73 .4 38.1 .3-37 .5 57.6 .3-61.8 .4 60.2 .4-101.1 .4 90.5 .3-54.5 .5 76.9 .3-78.5 .4 35.5 .4-39.8 .4 88.4 .4-125.5 .4 128.7 .3-110.1 .4 94.9 .4-71.2 .4 93.1 .4-87.5 .4 57.5 .3-49.5 .4 49.3 .4-55.9 .4 66.7 .4-52.9 .4 43.4 .3-45.7 .5 34.4 .3-47.7 .4 100.6 .4-102 .4 46.6 .3-53.8 .5 52.6 .3-91.5 .4 103.2 .4-63.8 .4 83.2 .3-59.4 .5 87.7 .3-74.3 .4 47.7 .4-35.5 .4 75.9 .4-90 .4 99.8 .3-69.6 .4 116.6 .4-97.3 .4 72.1 .4-95.6 .4 72.1 .3-91.8 .4 63.6 .4-92.4 .4 131.2 .4-101.7 .4 41.8 .3-54.4 .5 46.6 .3-52.4 .4 62.2 .4-84.4 .4 58.6 .3-68.1 .5 69.5 .3-71.5 .4 53.9 .4-75.1 .4 77.9 .3-68.9 .5 88.2 .3-70 .4 94.2 .4-77.7 .4 73.5 .4-101.7 .4 101.8 .3-92.3 .4 92.1 .4-99.9 .4 86.5 .4-81.2 .4 69.7 .3-89.7 .4 79.1 .4-90.2 .4 82.8 .4-103.8 .4 102.3 .3-57.5 .5 79.4 .3-75.7 .4 60.6 .4-70.3 .4 85.9 .3-79.6 .5 85.3 .3-59.5 .4 62.9 .4-87.3 .4 77.2 .3-73.2 .5 74.3 .3-89.5 .4 115.7 .4-87.7 .4 57.1 .4-76.5 .4 73.4 .3-75.1 .4 83 .4-78.4 .4 75.4 .4-101 .4 103.8 .3-74 .4 78.8 .4-85.7 .4 70.9 .4-63.9 .4 68.9 .3-60.1 .4 89.7 .4-112.9 .4 93.4 .4-79.6 .4 63 .3-70.7 .5 63.2 .3-96.1 .4 93.6 .4-41.8 .4 45.1 .3-64.1 .5 75.8 .3-73.4 .4 59.2 .4-70.4 .4 71.8 .3-59.3 .5 51.8 .3-55.3 .4 49.6 .4-46.8 .4 44.8 .4-91.9 .4 98.2 .3-77.8 .4 91.1 .4-93.2 .4 86.4 .4-85.6 .4 83.4 .3-78.5 .4 74.5 .4-78.2 .4 91.5 .4-92 .4 92 .3-106.2 .5 109.3 .3-82 .4 77.4 .4-71.3 .4 67.5 .3-63.4 .5 76.8 .3-95.9 .4 93.9 .4-81.6 .4 76.2 .3-90.2 .5 70.8 .3-62.8 .4 60.8 .4-130.6 .4 121.7 .4-97.5 .4 118.3 .3-127.1 .4 122.9 .4-122.8 .4 119.9 .4-119.3 .4 135.2 .3-137.5 .4 119.2 .4-114 .4 145.5 .4-140 .4 121.9 .3-131.7 .5 125.3 .3-124.8 .4 115.5 .4-144 .4 139.2 .3-115.1 .5 123.8 .3-108.1 .4 116 .4-113.6 .4 94.1 .3-125.9 .5 118.6 .3-117.8 .4 115.9 .4-116.9 .4 117.5 .4-117.9 .4 115.3 .3-93.7 .4 95.5 .4-83.8 .4 107 .4-141.1 .4 132.2 .3-106.2 .4 90.1 .4-121.4 .4 117.3 .4-120 .4 130.8 .3-79.3 .5 90 .3-151.8 .4 149.6 .4-115.1 .4 120.1 .3-120.3 .5 114.7 .3-122.9 .4 130.5 .4-137.9 .4 110.8 .3-139.4 .5 148.2 .3-87.5 .4 102.3 .4-149.9 .4 149.1 .4-147.7 .4 141.1 .3-126.3 .4 127.5 .4-139.9 .4 138.3 .4-126.1 .4 112.3 .3-120.2 .4 119 .4-113.6 .4 113.8 .4-108.2 .4 128.7 .3-169.4 .4 146.9 .4-128.6 .4 129.4 .4-120.6 .4 112.5 .3-120 .5 121.7 .3-145.5 .4 168.4 .4-145.4 .4 153.4 .3-153.8 .5 152.9 .3-157.1 .4 134 .4-112.3 .4 115.8 .3-123.9 .5 147.2 .3-159.9 .4 132.6 .4-116.4 .4 121.3 .4-114.7 .4 122.4 .3-154.6 .4 146.8 .4-139.7 .4 128.3 .4-120.4 .4 123.7 .3-117.6 .4 135.4 .4-138.1 .4 127.9 .4-137.8 .4 155.2 .3-122.5 .5 92.6 .3-96.7 .4 100.6 .4-114.9 .4 134.8 .3-159 .5 160.9 .3-120 .4 102.1 .4-116.5 .4 119.8 .3-131.4 .5 147.4 .3-149.8 .4 140.8 .4-130.9 .4 126.9 .4-133.8 .4 132.9 .3-116.2 .4 122 .4-113.6 .4 123.8 .4-113.8 .4 134.2 .3-136 .4 115.9 .4-113.8 .4 111 .4-99.3 .4 88.2 .3-101.3 .5 97.6 .3-138.1 .4 161.7 .4-141.7 .4 131 .3-111.4 .5 131.7 .3-144.7 .4 147.9 .4-165.1 .4 149.2 .3-156.9 .5 175.5 .3-134.8 .4 146.4 .4-125.8 .4 139.6 .4-139.4 .4 116.2 .3-123.7 .4 133.6 .4-137.6 .4 123.7 .4-110.6 .4 110.6 .3-100.7 .4 95.6 .4-91.3 .4 99.7 .4-101.5 .4 86.2 .3-100.5 .5 106.9 .3-50.5 .4 60.5 .4-85.1 .4 100.3 .3-97.6 .5 99.8 .3-105 .4 114.1 .4-87.9 .4 71.4 .3-115.6 .5 108.5 .3-86.4 .4 70.2 .4-78.4 .4 72.1 .4-80.9 .4 102.2 .3-134.2 .4 104.1 .4-128.5 .4 127.2 .4-110.9 .4 119.1 .3-100.4 .4 103.2 .4-88.5 .4 97.6 .4-98.8 .4 90.7 .3-70.3 .4 70 .4-85.3 .4 93.4 .4-86.9 .4 90.3 .3-92.3 .5 92.1 .3-117.2 .4 134 .4-96.4 .4 94.2 .3-94.9 .5 90.5 .3-107.4 .4 113.7 .4-115.4 .4 113.2 .3-82.4 .5 93.4 .3-92.2 .4 80.6 .4-86.1 .4 84.3 .4-101.9 .4 103.8 .3-107.6 .4 102.8 .4-102 .4 102.8 .4-101.6 .4 127 .3-109.7 .4 86.5 .4-80.5 .4 93.8 .4-117.1" stroke="#FF8C00" stroke-width="1.8" fill="none" stroke-linejoin="round" shape-rendering="crispEdges"/>
<path d="M475.6 809.6l.4-7.8 .4 7.9 .4-8.2 .4 11.9 .3-10.5 .5 10.2 .3-7.8 .4 7.8 .4-8.1 .4 14 .3-13.6 .5 12.9 .3-13.3 .4 17.6 .4-16 .4 13.6 .3-8.9 .5 11.9 .3-9.9 .4 13.4 .4-17.2 .4 19.8 .4-12.7 .4 9.1 .3-13.9 .4 16.3 .4-10.1 .4 7.2 .4-9.4 .4 10.4 .3-10.8 .4 12.1 .4-10.1 .4 9.7 .4-12 .4 12.5 .3-12.8 .5 11.7 .3-6.7 .4 6.6 .4-10.5 .4 12.4 .3-13.2 .5 14.3 .3-10 .4 9.2 .4-9.4 .4 8.3 .3-9.8 .5 10.9 .3-8.3 .4 9 .4-16.6 .4 23.2 .4-11.9 .4 9.7 .3-7.8 .4 10.3 .4-12.1 .4 12.4 .4-11.3 .4 9.5 .3-7.4 .4 10.7 .4-7.9 .4 6.7 .4-7 .4 14.8 .3-12.4 .5 9.6 .3-7.6 .4 11.7 .4-8.1 .4 9.5 .3-10.2 .5 12 .3-11 .4 10.4 .4-7.1 .4 7.3 .3-10.2 .5 10.8 .3-7.8 .4 9.7 .4-10.3 .4 9.9 .4-8.2 .4 4.8 .3-5.7 .4 9.5 .4-11.2 .4 10.9 .4-8 .4 8.1 .3-7.5 .4 5.9 .4-9 .4 8.1 .4-7.7 .4 8.5 .3-6.5 .5 8.6 .3-9.2 .4 9.8 .4-8.4 .4 8.3 .3-12.4 .5 6.5 .3-9.6 .4 11.5 .4-11.9 .4 8.5 .3-9 .5 9.2 .3-9.8 .4 7.2 .4-8.6 .4 6.8 .4-9 .4 7.5 .3-8.3 .4 9.6 .4-5.3 .4 5.3 .4-8.7 .4 10.2 .3-7.5 .4 7.7 .4-8 .4 11.2 .4-12.5 .4 9.6 .3-7 .4 9.8 .4-7.4 .4 14 .4-6.3 .4 10.8 .3-2.5 .5 12.3 .3-2.2 .4 2.3 .4-2.9 .4 2 .3-2.2 .5-2.6 .3-2 .4-2.8 .4-1.7 .4 3 .3-2.4 .5 1.9 .3-1.8 .4 3.3 .4-2.4 .4 3.9 .4-2 .4 .9 .3-2.7 .4 3 .4-1.7 .4 4.5 .4-1.5 .4 2.8 .3-2.2 .4 3.8 .4-2.7 .4 3.6 .4-1.6 .4 1.6 .3-1.8 .5 .2 .3-2.3 .4 1.2 .4-2.8 .4 2.7 .3-4 .5 .1 .3-2.5 .4-1.3 .4-1.7 .4 1.6 .3-1.7 .5 3.2 .3-2 .4 3.4 .4-1.6 .4 2.3 .4-1.6 .4 2.5 .3-2.1 .4 3.1 .4-2.2 .4 4.2 .4-3.1 .4 5.7 .3-2.7 .4 2.4 .4-2.8 .4 2.4 .4-1.8 .4 3.5 .3-2.8 .5 1.8 .3-1.4 .4 1.6 .4-2.3 .4 1.5 .3-2.2 .5 2.3 .3-2.5 .4 .9 .4-2.3 .4 1.8 .3-2.9 .5 2.9 .3-2.3 .4 1.8 .4-3.7 .4 3.4 .4-2.5 .4 3.3 .3-1.8 .4 3.4 .4-3.2 .4 4.1 .4-1.6 .4 1.5 .3-2.6 .4 1.7 .4-2 .4 2.7 .4-2.4 .4 1 .3-1.9 .5 0 .3-1.8 .4 4.1 .4-4.1 .4 4.6 .3-2.9 .5 4 .3-2.9 .4 3.9 .4-4.1 .4 3.7 .3-3.5 .5 3.3 .3-3.7 .4 4.3 .4-3.3 .4 1 .4-3 .4 3.3 .3-3.1 .4 2.1 .4-2.9 .4 3 .4-3.2 .4 2.6 .3-3.2 .4 3.5 .4-3.1 .4 4.1 .4-3 .4 2.7 .3-3.2 .4 3.3 .4-2.1 .4 2.5 .4-3.4 .4 3.4 .3-3.3 .5 1.6 .3-3 .4 3.6 .4-2.1 .4 4.4 .3-4.5 .5 4.8 .3-3.3 .4 2.9 .4-3.3 .4 3.2 .3-1.4 .5 1.9 .3-1.9 .4 1.4 .4-1.6 .4 1.7 .4-1.5 .4-.9 .3-2.1 .4 2.7 .4-1.9 .4 1.3 .4-3.8 .4 3.6 .3-2.6 .4 2.5 .4-2 .4 3 .4-2.5 .4 2.6 .3-2.4 .5 2.9 .3-2.1 .4 2.4 .4-1.8 .4 2.6 .3-2.8 .5 2.8 .3-1.7 .4 1.6 .4-1.2 .4 1.3 .3-1.5 .5 2.1 .3-2.2 .4 1.6 .4-1.7 .4 2 .4-1.6 .4 1 .3-1.1 .4 1.7 .4-1.8 .4 1.5 .4-1.6 .4 1.9 .3-2.6 .4 .9 .4-2.3 .4 1.7 .4-2.1 .4 2.4 .3-2.6 .5 1.3 .3-2.4 .4 5.2 .4-3.8 .4 2 .3-3.3 .5 2.5 .3-3.3 .4 5.3 .4-3 .4 3.7 .3-4.4 .5 4.4 .3-4.3 .4 3.3 .4-3.5 .4 4.6 .4-2.1 .4 1.8 .3-2.4 .4 2.6 .4-2.5 .4 3.2 .4-2.8 .4 1.4 .3-2.3 .4 3.9 .4-2.5 .4 .9 .4-1.7 .4 3.1 .3-1.4 .5 1.6 .3-1.6 .4 1.4 .4-1.7 .4 1.5 .3-1.2 .5 1.4 .3-2.3 .4 2.6 .4-1.8 .4 1.3 .3-1.4 .5 1.4 .3-2.5 .4 1.4 .4-1.5 .4 1 .3-2.9 .5 1.9 .3-2 .4 1.5 .4-3 .4 3.4 .4-2.9 .4 3.2 .3-2.8 .4 3.2 .4-2.8 .4 2.3 .4-3.1 .4 1.5 .3-3 .4 2.1 .4-2.5 .4 3.6 .4-3.2 .4 2.7 .3-2.6 .5 4 .3-3.9 .4 4.3 .4-4 .4 1 .3-3.6 .5 4.2 .3-3.1 .4 4.1 .4-3.8 .4 4.2 .3-3.8 .5 2.4 .3-3.2 .4 4 .4-2.5 .4 3.8 .4-3.8 .4 2.3 .3-3.8 .4 3.5 .4-3.5 .4 3.6 .4-2.5 .4 4.2 .3-3.3 .4 2.2 .4-3.2 .4 3.3 .4-3.9 .4 3 .3-2.6 .5 3 .3-3 .4 3.2 .4-3.5 .4 4 .3-2.8 .5 1.6 .3-2.5 .4 2.5 .4-2.1 .4 3.5 .3-2.7 .5 .4 .3-2.2 .4 2.5 .4-3.3 .4 2.5 .4-2.1 .4 4.7 .3-4.1 .4 1.6 .4-3.6 .4 4.5 .4-4.6 .4 3.2 .3-5.4 .4 1.4 .4-5.2 .4 5.6 .4-8.9 .4 6.2 .3-7.1 .5 7 .3-11 .4 10.2 .4-7.1 .4 3.3 .3-5.2 .5 5 .3-6.2 .4 7.9 .4-6.7 .4 9.8 .3-4.7 .5 5.1 .3-6.9 .4 9.9 .4-7.2 .4 6 .4-6.9 .4 7.5 .3-5 .4 1.6 .4-6.2 .4 4.7 .4-7 .4 4.2 .3-5.2 .4 4.1 .4-6.5 .4 6.9 .4-9 .4 8.1 .3-6.3 .5 4.6 .3-10.3 .4 9.7 .4-8.7 .4 7 .3-7 .5 8.6 .3-8.7 .4 8 .4-7.5 .4 6.3 .3-8.7 .5 5.1 .3-6.6 .4 11.5 .4-7.2 .4 2.8 .3-4 .5 7 .3-6.5 .4 3.6 .4-6 .4 8.5 .4-4.7 .4 1.8 .3-4.6 .4 6.6 .4-5.4 .4 2.6 .4-3.6 .4 6.3 .3-6.4 .4 3.5 .4-5.7 .4 4.8 .4-5.3 .4 6.8 .3-8.5 .5 6.9 .3-9.3 .4 5.2 .4-4.7 .4 5.7 .3-6.7 .5 7.8 .3-6 .4 2.4 .4-4.3 .4 7.4 .3-6.8 .5 5.2 .3-5.6 .4 6.8 .4-6.3 .4 6.9 .4-9.4 .4 4.3 .3-6.5 .4 4.7 .4-4.4 .4 7.2 .4-5.4 .4 5.5 .3-9.1 .4 10.3 .4-7.4 .4 7.4 .4-10.1 .4 6 .3-5.4 .5 6.7 .3-6.9 .4 10.7 .4-7.7 .4 5.8 .3-6.1 .5 6.4 .3-9 .4 4.6 .4-9.3 .4 8.4 .3-10 .5 10.7 .3-6.9 .4 7.9 .4-7.8 .4 3.7 .4-5.3 .4 5.2 .3-6.4 .4 6.7 .4-5.8 .4 7.3 .4-6.8 .4 10.8 .3-5.2 .4 1.6 .4-5.4 .4 6.3 .4-6.7 .4 6.4 .3-9.4 .5 9.6 .3-9.4 .4 6.4 .4-8.8 .4 10.4 .3-10.7 .5 9 .3-5.4 .4 2.8 .4-7.4 .4 9.4 .3-10.2 .5 10.4 .3-6.9 .4 6.5 .4-10.5 .4 10.5 .4-7.9 .4 5.9 .3-8.9 .4 9.8 .4-9.6 .4 6.7 .4-7.2 .4 6.2 .3-8.6 .4 7.5 .4-9.3 .4 10.5 .4-7.7 .4 6.4 .3-6 .4 8.3 .4-8.1 .4 6.4 .4-7.5 .4 7.6 .3-12 .5 8.3 .3-6.5 .4 14.3 .4-9.5 .4 8.5 .3-12.2 .5 10.1 .3-10.4 .4 11.8 .4-9 .4 7.7 .3-11.9 .5 11.3 .3-10 .4 4.7 .4-12.5 .4 16.7 .4-11.5 .4 11.8 .3-10 .4 3.7 .4-7 .4 7 .4-10 .4 17.5 .3-14.6 .4 11.3 .4-7.3 .4 7.2 .4-9.3 .4 7.4 .3-8.4 .5 7.5 .3-10.4 .4 8 .4-9 .4 6.8 .3-9.5 .5 15.1 .3-14.1 .4 10.3 .4-9.8 .4 7.5 .3-10 .5 14.7 .3-11.7 .4 7.5 .4-7.9 .4 10.2 .4-7.6 .4 8.2 .3-6.4 .4 4.8 .4-8 .4 8 .4-6.9 .4 8.9 .3-7.2 .4 5.9 .4-9.4 .4 8.5 .4-6.4 .4 8.5 .3-10 .5 9.6 .3-9.7 .4 10.2 .4-10.1 .4 11.2 .3-11.3 .5 13.6 .3-11 .4 10.1 .4-8 .4 5.5 .3-7.9 .5 8.7 .3-7.3 .4 10.1 .4-10.3 .4 8.1 .4-8.5 .4 9.4 .3-8.9 .4 11.9 .4-10.2 .4 11.7 .4-11.2 .4 9.5 .3-11.6 .4 9.3 .4-9.8 .4 12.2 .4-9.2 .4 5.8 .3-9.9 .5 7 .3-6.5 .4 10.5 .4-9.6 .4 8.1 .3-11 .5 11 .3-9.8 .4 13.5 .4-9.6 .4 6.4 .3-8.5 .5 5.2 .3-6.7 .4 12.7 .4-10.1 .4 8.6 .4-9.3 .4 9.8 .3-6.9 .4 8.5 .4-9.3 .4 6.4 .4-10.8 .4 14.6 .3-6 .4 8 .4-13.6 .4 13.7 .4-6 .4 10.4 .3-12.8 .4 8.7 .4-10 .4 16.7 .4-12 .4 7 .3-11.1 .5 7.5 .3-6.6 .4 11.2 .4-10.5 .4 7.5 .3-6.8 .5 12.2 .3-12.2 .4 24.1 .4-15.5 .4 15.9 .3-14 .5 25.8 .3-15.5 .4 9.8 .4-15 .4 15.2 .4-13.7 .4 21.3 .3-12.7 .4 9.6 .4-9.4 .4 8.8 .4-12.8 .4 15.7 .3-12.7 .4 11.4 .4-9.8 .4 4.6 .4-10.1 .4 5 .3-8.2 .5 8.9 .3-6.4 .4 15.1 .4-8.4 .4 14.5 .3-10 .5 19.4 .3-7.5 .4 4.5 .4-7.5 .4 5 .3-3.8 .5-.6 .3-11.7 .4 10.5 .4-8.9 .4 12 .4-11.6 .4 4 .3-6 .4 8.2 .4-8.6 .4 6.5 .4-7.3 .4 4.9 .3-7.8 .4 9.8 .4-14.1 .4 8.5 .4-8.1 .4 7 .3-10.9 .5 12.4 .3-9.7 .4 9.4 .4-9 .4 13.1 .3-14.7 .5 24 .3-7.4 .4 14.9 .4-2.1 .4 6.3 .3-2.5 .5 1.4 .3-3.5 .4-1 .4-1.3 .4-.7 .4-1.9 .4 1.3 .3-1.6 .4 1 .4-2.4 .4 9.3 .4-2.7 .4 4.6 .3-2.9 .4 2.5 .4-3.8 .4 2.5 .4-2.7 .4 2.7 .3-5.7 .5-1.5 .3-3.8 .4 1.3 .4-1.9 .4 3.1 .3-2.6 .5 4.3 .3-1.5 .4 6.5 .4-1.9 .4 4.8 .3-1.3 .5 .6 .3-1.6 .4-.7 .4-1.7 .4 2.3 .4-2.5 .4 .3 .3-2.7 .4 .4 .4-3.7 .4 4.7 .4-2.6 .4 3.8 .3-2.8 .4 4.9 .4-2.8 .4 6.6 .4-1.7 .4 1.6 .3-2 .4 1.8 .4-1.7 .4 1.9 .4-1.6 .4 1.1 .3-1.7 .5 1.5 .3-1.6 .4 1.5 .4-1.6 .4 2.2 .3-1.2 .5 .7 .3-1.9 .4 1.7 .4-1.4 .4 .9 .3-1.8 .5 2 .3-1.9 .4 .4 .4-2.6 .4 3.1 .4-2.8 .4 2.3 .3-3 .4 2.1 .4-3.1 .4 1.7 .4-3.6 .4 5.9 .3-2.3 .4 .9 .4-3.6 .4 3 .4-2.1 .4 2.6 .3-3.9 .5 4.1 .3-3.3 .4 1.6 .4-3.5 .4 2.4 .3-2.5 .5 4.7 .3-3.6 .4 1.8 .4-2.7 .4 3.1 .3-3.1 .5 5.6 .3-3.1 .4 1.9 .4-3.2 .4 3.6 .4-3.5 .4 4.2 .3-2.9 .4 3.4 .4-2.6 .4 4.6 .4-2.6 .4 2.4 .3-2.5 .4 2.7 .4-2.6 .4 2.9 .4-2.2 .4 1.5 .3-1.4 .5 1.2 .3-2 .4 .1 .4-1.7 .4 2.1 .3-2.1 .5 .6 .3-2.7 .4 2.9 .4-3.1 .4 3.1 .3-2.9 .5 2.3 .3-2.5 .4 4.2 .4-3 .4 1 .4-2 .4 4 .3-3.1 .4 3.6 .4-3.3 .4 2.3 .4-2.2 .4 4.9 .3-4 .4 3.3 .4-3.6 .4 3.7 .4-2.7 .4 4.3 .3-1.8 .5 1.9 .3-2.2 .4 2 .4-1.9 .4 1.4 .3-2.3 .5 1.6 .3-1.9 .4 1.7 .4-2.8 .4 1.2 .3-2.3 .5 3 .3-2.6 .4 .8 .4-2.7 .4 3.3 .3-2.9 .5 2.4 .3-2.9 .4 2.6 .4-2.3 .4 1.8 .4-2.1 .4 .9 .3-2.4 .4 2.7 .4-2.4 .4 3.1 .4-3.2 .4 4.6 .3-3.5 .4 4.3 .4-2.6 .4 1.5 .4-3.4 .4 6.2 .3-3.6 .5 3.5 .3-3.3 .4 3.5 .4-2.1 .4 2.9 .3-2.2 .5 1.9 .3-3.7 .4 2.6 .4-2.6 .4 3 .3-3.7 .5 2.4 .3-2.3 .4 2.9 .4-2.2 .4 .6 .4-2.4 .4 1.7 .3-2.3 .4 2.4 .4-2.8 .4 3.7 .4-2.8 .4 5.2 .3-1.9 .4 2.1 .4-3.7 .4 3.4 .4-2.1 .4 1.4 .3-2.6 .5 2.7 .3-4.5 .4 4.2 .4-1.8 .4 3.1 .3-3.2 .5 2.7 .3-1.5 .4 1.8 .4-1.9 .4 1.7 .3-2 .5 .3 .3-2.1 .4 2.4 .4-4 .4 3.3 .4-3.9 .4 2.1 .3-2.8 .4 1.5 .4-2.6 .4 3.7 .4-3.7 .4 1.5 .3-2.9 .4 5.4 .4-2.7 .4 2.3 .4-3.8 .4 3.7 .3-2.6 .5 4.3 .3-3.7 .4 2 .4-2.8 .4 3 .3-2.8 .5 4.1 .3-2.7 .4 4.3 .4-1.9 .4 3.4 .3-2 .5 2.3 .3-1.9 .4 1.6 .4-1.8 .4 .3 .4-3.2 .4 4.3 .3-2.4 .4 2.7 .4-2.3 .4 1.7 .4-2.1 .4 2.3 .3-1.3 .4 2.6 .4-2.6 .4 .3 .4-2.4 .4 3.1 .3-2.8 .5 2.5 .3-1.9 .4 1.4 .4-2.8 .4 4.5 .3-4.4 .5 3.6 .3-2.9 .4 .4 .4-3.7 .4 4.1 .3-3.8 .5 .6 .3-3.3 .4 3 .4-3.9 .4 4.9 .3-3 .5 3.7 .3-4.3 .4 7 .4-2.5 .4 2.8 .4-3.6 .4 5.4 .3-3.4 .4 2.2 .4-2.3 .4 1.5 .4-1.7 .4 2 .3-1.7 .4-1.9 .4-1.7 .4 0 .4-2.1 .4 .8 .3-1.8 .5 3 .3-2.2 .4 3.3 .4-1.9 .4 3 .3-2.2 .5 2.8 .3-2.1 .4 4 .4-3.4 .4 5.4 .3-3.9 .5 2.6 .3-2.4 .4-.4 .4-1.9 .4-.8 .4-1.5 .4-.4 .3-2.2 .4 .6 .4-1.7 .4 1 .4-2.4 .4 6.4 .3-3.1 .4 3.5 .4-3.8 .4 5.6 .4-6.1 .4 2.5 .3-5.1 .5 2.1 .3-10.9 .4 7.7 .4-8.3 .4 8.3 .3-10.1 .5 6.1 .3-7.9 .4 7.8 .4-10.5 .4 9.6 .3-8.1 .5 7.5 .3-8.5 .4 9.7 .4-9.5 .4 8.6 .4-7.7 .4 8.2 .3-9.8 .4 5.5 .4-8.3 .4 8.5 .4-6.5 .4 3.3 .3-4.8 .4 8.6 .4-6.7 .4 4.2 .4-8 .4 9.5 .3-4.5 .5 4.1 .3-4.6 .4 2.2 .4-5.2 .4 9 .3-8 .5 4.3 .3-7.9 .4 8.2 .4-4.3 .4 5.5 .3-6.3 .5 4.5 .3-6.1 .4 4.1 .4-6.8 .4 9.8 .4-5.5 .4 2.4 .3-4.6 .4 5.1 .4-7.1 .4 9.2 .4-7.9 .4 7.3 .3-5.8 .4 3.2 .4-7.6 .4 7.1 .4-6.1 .4 6.2 .3-5.1 .4 4.7 .4-9.1 .4 7.8 .4-5.2 .4 6.7 .3-8.2 .5 6.1 .3-7.2 .4 9.5 .4-5.9 .4 3.6 .3-7.3 .5 6.6 .3-5.5 .4 5.8 .4-7.4 .4 7.8 .3-6.3 .5 6.3 .3-5.4 .4 3.8 .4-4 .4 5.9 .4-5.7 .4 4.5 .3-7.6 .4 4.8 .4-7.4 .4 7.8 .4-5.2 .4 6.2 .3-6.3 .4 6.5 .4-7.2 .4 3.7 .4-5.1 .4 8.6 .3-7.5 .5 7.1 .3-9.2 .4 6.2 .4-5.6 .4 4.7 .3-8 .5 11.3 .3-6.3 .4 1.8 .4-6.4 .4 4.6 .3-4.4 .5 6.5 .3-7.2 .4 6.4 .4-7.2 .4 9.3 .4-8.2 .4 7.8 .3-7.1 .4 3.9 .4-5.9 .4 5.5 .4-7 .4 4 .3-6.1 .4 8.5 .4-9.4 .4 10.5 .4-10.3 .4 5.4 .3-8.9 .5 10.9 .3-8.6 .4 9.8 .4-8.2 .4 5.2 .3-5.6 .5 7.5 .3-8.5 .4 7 .4-10.7 .4 12.4 .3-9.8 .5 9 .3-8.6 .4 8.9 .4-7.5 .4 8.8 .4-10.5 .4 9.4 .3-7 .4 5 .4-10.9 .4 13.1 .4-9.8 .4 8 .3-6.8 .4 5 .4-10.5 .4 10.9 .4-7.1 .4 11 .3-10 .5 6.6 .3-10.2 .4 8.9 .4-8.1 .4 8.1 .3-12.7 .5 9.3 .3-9 .4 11.8 .4-14.3 .4 11.5 .3-11.6 .5 9 .3-8.1 .4 8.5 .4-8.1 .4 4.5 .4-7 .4 11.1 .3-7.9 .4 3.7 .4-7.9 .4 9.7 .4-8.8 .4 10.4 .3-13 .4 11.4 .4-13.7 .4 14.2 .4-12 .4 8.7 .3-12.9 .4 14.8 .4-13 .4 12.8 .4-10.3 .4 14.6 .3-11.3 .5 10.8 .3-10.7 .4 14.8 .4-11.9 .4 11.5 .3-11.9 .5 14 .3-9.4 .4 6.2 .4-8.8 .4 11.9 .3-11.8 .5 6.3 .3-6.8 .4 13.3 .4-9.7 .4 6.2 .4-14 .4 11 .3-8.3 .4 5.5 .4-13 .4 14 .4-12 .4 14 .3-11.2 .4 4.8 .4-9.4 .4 11.3 .4-9.3 .4 9.9 .3-7.9 .5 10.2 .3-11.5 .4 16.3 .4-11 .4 11.9 .3-11.9 .5 9.8 .3-11.3 .4 14.9 .4-14.2 .4 9.7 .3-13.1 .5 13.9 .3-12.2 .4 11.2 .4-14.2 .4 16.9 .4-14.4 .4 13.4 .3-12.6 .4 6.7 .4-11.5 .4 12.2 .4-12.8 .4 9.2 .3-10 .4 7.2 .4-7.8 .4 16.6 .4-9.6 .4 21.2 .3-18 .5 19.6 .3-16.1 .4 18.1 .4-22.6 .4 18.1 .3-15 .5 15.1 .3-12.4 .4 14.1 .4-12.8 .4 9.1 .3-12.1 .5 16.1 .3-11.8 .4 6.2 .4-7.6 .4 9.9 .4-10.7 .4 6.7 .3-12.3 .4 9.6 .4-6.7 .4 12.8 .4-9.4 .4 7.2 .3-10.5 .4 11.4 .4-12.7 .4 10.5 .4-7.9 .4 12.6 .3-11.2 .5 12.8 .3-10.5 .4 13.5 .4-10.6 .4 9.9 .3-10.1 .5 16.4 .3-11.4 .4 5.6 .4-9.8 .4 11.9 .3-12.1 .5 14.9 .3-9.8 .4 10.2 .4-11.6 .4 14.3 .4-12.2 .4 9 .3-9.3 .4 3.9 .4-10.2 .4 8.9 .4-9 .4 12.9 .3-14.1 .4 8.8 .4-9.4 .4 11 .4-10.2 .4 14.6 .3-10.5 .4 12.8 .4-9.1 .4 3.1 .4-6.4 .4 7.5 .3-11.4 .5 15.1 .3-8.7 .4 11 .4-6.8 .4 11.3 .3-7.2 .5 12.3 .3-9.7 .4 12.9 .4-7.8 .4 8.9 .3-9.5 .5 14.3 .3-6.8 .4 6.6 .4-4.9 .4 10.8 .4-7.5 .4 8 .3-2.7 .4 1.6 .4-2 .4 3.2 .4-1.9 .4 6.9 .3-3 .4 5.8 .4-1.9 .4 1.6 .4-2.2 .4 1 .3-2.2 .5 4.1 .3-2.1 .4 1.6 .4-1.3 .4 0 .3-1.6 .5 .3 .3-1.4 .4 .5 .4-2 .4-.7 .3-2.8 .5 2.3 .3-6.5 .4-.6 .4-11.9 .4 11.7 .4-14.6 .4 10.6 .3-9.2 .4 15 .4-7.8 .4 9.6 .4-1.6 .4 9.6 .3-2.9 .4 2.1 .4-3.3 .4 1.8 .4-2.1 .4 2.4 .3-1.9 .5 2.3 .3-1.4 .4-.8 .4-1.9 .4-.8 .3-2.1 .5-.3 .3-2.1 .4 1.8 .4-2.2 .4 2 .3-2.6 .5 3 .3-1.7 .4 1.4 .4-1.9 .4 3 .4-1.7 .4 2.7 .3-1.9 .4 2.5 .4-2.2 .4 2.1 .4-1.6 .4 3.5 .3-2.4 .4 3.1 .4-1.9 .4 5.2 .4-1.5 .4 4.9 .3-1.7 .5 1.4 .3-1.6 .4 2.3 .4-1.4 .4-.5 .3-2.7 .5 2.3 .3-2.2 .4 3.4 .4-3.1 .4 2.5 .3-1.8 .5 2.2 .3-1.4 .4 2 .4-2.3 .4 3.2 .3-3 .5 1.9 .3-3.3 .4 1.7 .4-2.6 .4 4.9 .4-3.7 .4 2.1 .3-2.8 .4 2.9 .4-3.5 .4 3.9 .4-3.7 .4 1.7 .3-3.5 .4 .9 .4-2 .4 2.6 .4-3.2 .4 2.1 .3-3.3 .5 4.3 .3-4 .4 4.1 .4-4.4 .4 6 .3-2.3 .5 2.5 .3-3 .4 5.1 .4-3.7 .4 3.7 .3-3.4 .5 3.8 .3-2.8 .4 2.9 .4-2.5 .4 2.2 .4-3.3 .4 1.9 .3-2.5 .4 1.3 .4-2.4 .4 2.2 .4-2.4 .4 1.7 .3-2.5 .4 2.7 .4-4.1 .4 3.3 .4-3.5 .4 3.4 .3-3.4 .5 1.8 .3-2.2 .4 3 .4-2 .4 3.2 .3-3.2 .5 1.2 .3-2.6 .4 3.4 .4-2.9 .4 4.9 .3-3.8 .5 1.6 .3-3.1 .4 2.8 .4-2.2 .4 3.2 .4-2 .4 2.8 .3-4 .4 4 .4-2.6 .4 4.5 .4-2.7 .4 2.2 .3-2.3 .4 3.3 .4-2.7 .4 3 .4-2.3 .4 3.8 .3-2.6 .5 2.7 .3-2 .4 2.3 .4-2.9 .4 2.4 .3-2.5 .5 2.6 .3-1.4 .4 1.9 .4-1.6 .4 1.6 .3-1.2 .5 1.2 .3-1.3 .4 1.2 .4-1.2 .4 1 .4-2.1 .4 .9 .3-3.3 .4 2.2 .4-2.4 .4 3.6 .4-3.7 .4 .3 .3-2.3 .4 2.4 .4-1.8 .4 3.5 .4-2.7 .4 3.4 .3-4.3 .5 6.4 .3-3.7 .4 4.2 .4-2.2 .4 1.6 .3-.8 .5 1.3 .3-1.1 .4 1 .4-1 .4 .9 .3-.8 .5 .5 .3-.8 .4 1 .4-1.1 .4 1.3 .3-1 .5 1.2 .3-1.3 .4 1.6 .4-1.3 .4 .7 .4-1.3 .4 1.5 .3-.9 .4 .5 .4-1.2 .4 1.5 .4-1.2 .4 .2 .3-1.1 .4 1.8 .4-2.5 .4 1.4 .4-2.2 .4 .5 .3-2 .5 2.2 .3-2.6 .4 1.6 .4-1.9 .4 2.4 .3-2.1 .5 1.5 .3-1.7 .4 1.6 .4-2.7 .4 2.6 .3-2.5 .5 1.3 .3-2.9 .4 2.7 .4-2 .4 3.6 .4-3.3 .4 2.7 .3-2.5 .4 2.5 .4-3.4 .4 2.5 .4-2.2 .4 3.3 .3-3.3 .4 1.4 .4-3.1 .4 3 .4-2.1 .4 4.4 .3-2.9 .5 2 .3-3.2 .4 2.4 .4-3.7 .4 4.6 .3-3.5 .5 3.2 .3-2.7 .4 3 .4-3.2 .4 2.7 .3-2.8 .5 3.9 .3-2.7 .4 3 .4-4.5 .4 4.3 .4-3.5 .4 2.1 .3-2.7 .4 3.5 .4-4.1 .4 4.4 .4-3.8 .4 2.1 .3-3.3 .4 4.3 .4-3.4 .4 1.6 .4-3.1 .4 2.8 .3-3.2 .5 4.4 .3-2.9 .4 4.3 .4-4.2 .4 2.9 .3-2.7 .5 .7 .3-2.7 .4 3.5 .4-2.7 .4 3.4 .3-2.5 .5 2.8 .3-3.5 .4 4.8 .4-3.5 .4 3.4 .4-3.8 .4 1.8 .3-2.8 .4 .7 .4-2.4 .4 .7 .4-1.9 .4 1.5 .3-2.2 .4 3.9 .4-2.7 .4 5 .4-3.1 .4 3.8 .3-2.2 .4 2.9 .4-3.4 .4 3.2 .4-5.6 .4 1.6 .3-5 .5 4.3 .3-8 .4 6.5 .4-5.1 .4 4.6 .3-8.9 .5 8 .3-5.5 .4 5.9 .4-5.3 .4 8.7 .3-8.4 .5 4.3 .3-7 .4 7.1 .4-5 .4 6.7 .4-5.9 .4 3.3 .3-8.8 .4 11.7 .4-10.2 .4 5.7 .4-6.6 .4 3.4 .3-7.8 .4 8.4 .4-13.6 .4 10.8 .4-7.5 .4 9.9 .3-9.9 .5 10 .3-8.8 .4 8 .4-7.7 .4 6.2 .3-8.7 .5 8.1 .3-8.9 .4 7.4 .4-5.3 .4 5 .3-8.5 .5 12.6 .3-11.2 .4 9.4 .4-8.2 .4 6.8 .4-8.7 .4 5.5 .3-11.2 .4 12.6 .4-11.3 .4 9.7 .4-9.5 .4 8.4 .3-7.8 .4 8 .4-11 .4 14.3 .4-12.6 .4 12 .3-12.8 .5 9.4 .3-8.5 .4 11.6 .4-7.7 .4 7.1 .3-5.9 .5 4.2 .3-7.3 .4 8.8 .4-8.7 .4 7.1 .3-9.4 .5 5.9 .3-9.4 .4 14.1 .4-7.9 .4 7.1 .4-9.4 .4 8.7 .3-8.3 .4 7.6 .4-9.8 .4 11.1 .4-8.5 .4 6.4 .3-6.6 .4 5.4 .4-7.6 .4 4.1 .4-9.6 .4 9.6 .3-7.2 .5 6.7 .3-9.6 .4 5 .4-7.5 .4 13.5 .3-10.5 .5 11.5 .3-11.4 .4 10.1 .4-8.8 .4 6.2 .3-6 .5 4.8 .3-8 .4 10.2 .4-6.5 .4 4.6 .4-5.3 .4 4 .3-5.3 .4 5.9 .4-4.8 .4 3.4 .4-4.7 .4 7 .3-7.1 .4 5.2 .4-7.5 .4 6.1 .4-7.5 .4 6.3 .3-5.8 .4 6.8 .4-11.9 .4 8.8 .4-7.1 .4 11.1 .3-8.9 .5 7.1 .3-12 .4 9.8 .4-8.9 .4 9 .3-8.5 .5 4.9 .3-8.2 .4 7 .4-10.1 .4 8.3 .3-12.4 .5 11.7 .3-7.1 .4 12.5 .4-10 .4 6.3 .4-12.6 .4 8.9 .3-10.5 .4 13.5 .4-11.6 .4 4.5 .4-9.3 .4 12.2 .3-12.1 .4 12.5 .4-9.8 .4 8.1 .4-7.1 .4 5.9 .3-7.9 .5 4.1 .3-9.1 .4 12 .4-9.1 .4 9.1 .3-11.9 .5 12.4 .3-10.7 .4 13.4 .4-10.3 .4 5.8 .3-9.2 .5 9.8 .3-10.8 .4 14.9 .4-12.7 .4 13.2 .4-13.9 .4 7.1 .3-9.1 .4 10 .4-10.5 .4 10.6 .4-9.9 .4 9.7 .3-12.4 .4 14 .4-10.1 .4 9.5 .4-10.5 .4 8 .3-10.8 .5 12.7 .3-6.7 .4 2.9 .4-10.4 .4 12 .3-7 .5 7.8 .3-9.8 .4 8.5 .4-9.4 .4 10.3 .3-7.8 .5 7.3 .3-10.5 .4 4.6 .4-7.6 .4 8.9 .4-7 .4 7.9 .3-11.2 .4 8.5 .4-8.6 .4 12.7 .4-10.2 .4 13.8 .3-14.5 .4 9 .4-10.9 .4 11.4 .4-8.3 .4 6.8 .3-7.3 .5 10.1 .3-6.3 .4 11.1 .4-12.1 .4 6 .3-8.9 .5 8.9 .3-11.2 .4 12 .4-9.8 .4 13.7 .3-13.7 .5 9.1 .3-13.4 .4 13.4 .4-10.8 .4 12.7 .4-12.3 .4 9.8 .3-10.2 .4 11.6 .4-9.9 .4 18 .4-11.6 .4 10.5 .3-7.6 .4 13.9 .4-9.3 .4 13.2 .4-14.2 .4 10.8 .3-12.9 .4 10 .4-13.5 .4 18.5 .4-11.3 .4 9 .3-8.7 .5 10.4 .3-9.1 .4 10.3 .4-11.9 .4 13.2 .3-15.3 .5 14.1 .3-14.5 .4 19.6 .4-17.1 .4 18.9 .3-12.7 .5 2.5 .3-9.5 .4 11.4 .4-9.5 .4 11.4 .4-17.4 .4 14.6 .3-14.9 .4 11.4 .4-9.6 .4 11.8 .4-10.8 .4 5.8 .3-8.9 .4 9.5 .4-10.4 .4 16.7 .4-13.3 .4 16.9 .3-10.1 .5 10.7 .3-10.3 .4 14.3 .4-17.2 .4 9.5 .3-10.8 .5 20.8 .3-13.7 .4 8.3 .4-13.1 .4 15.8 .3-15 .5 20.4 .3-18.1 .4 13.2 .4-11.3 .4 15 .4-14.9 .4 12 .3-10.3 .4 14.4 .4-8.8 .4 9.7 .4-13.4 .4 11.1 .3-8.1 .4-3.4 .4-13 .4 17.5 .4-11.8 .4 14.1 .3-11.2 .5 10.8 .3-11.1 .4 16.2 .4-13.9 .4 6.2 .3-15 .5 22 .3-13.7 .4 24.7 .4-16.5 .4 6.5 .3-10.5 .5 15.5 .3-20.3 .4 25.7 .4-16.4 .4 14 .4-14.8 .4 10.4 .3-12.8 .4 14.8 .4-13.2 .4 21.7 .4-13.5 .4 16.5 .3-13.4 .4 17.4 .4-19.1 .4 18.4 .4-11.1 .4 9.1 .3-12.6 .5 18.7 .3-15.2 .4 15.3 .4-9.6 .4 4.8 .3-13.1 .5 9.4 .3-12.1 .4 11.4 .4-10.8 .4 10.8 .3-11.2 .5 12.1 .3-10.8 .4 6.9 .4-9.7 .4 13.3 .3-11.1 .5 3.2 .3-10 .4 14.1 .4-10.3 .4 9.9 .4-15.3 .4 14.2 .3-10.7 .4 11.7 .4-12.7 .4 11 .4-8.3 .4 7.4 .3-11.4 .4 20.4 .4-9.6 .4 13.2 .4-7.7 .4 11.8 .3-7 .5 9.2 .3-7.7 .4 6 .4-4.6 .4 1.2 .3-7.1 .5 5.6 .3-6.1 .4 8.9 .4-8.9 .4 9.2 .3-10.8 .5 13.8 .3-9.8 .4 5.4 .4-11.5 .4 12.9 .4-7 .4 8.9 .3-6.8 .4 8.2 .4-7.3 .4 2.9 .4-8.3 .4 4 .3-7.9 .4 13.1 .4-13.3 .4 9.7 .4-17.4 .4 19.7 .3-11.5 .5 12.7 .3-16.5 .4 12.8 .4-7 .4 12.3 .3-5.2 .5 5.6 .3-4.9 .4 6.4 .4-5.4 .4 5.6 .3-7.5 .5 3.7 .3-6.6 .4 7.7 .4-7.4 .4 7.7 .4-8.5 .4 8.5 .3-7.4 .4 9.1 .4-9 .4 2.8 .4-5.8 .4 8.5 .3-9.7 .4 8.6 .4-10.2 .4 9.1 .4-10 .4 8.2 .3-7.2 .5 7.3 .3-7.2 .4 14.3 .4-6.4 .4 8.1 .3-2.8 .5 4.2 .3-1.9 .4 2.3 .4-2 .4-1 .3-2 .5-1.7 .3-2.1 .4 2.6 .4-1.8 .4 1.3 .4-1.7 .4 5.3 .3-2.4 .4 4.5 .4-2.8 .4 5.2 .4-2.2 .4 5.3 .3-2.4 .4 4 .4-3 .4 3.4 .4-3 .4-.5 .3-1.9 .5-1.4 .3-1.8 .4 .7 .4-2.8 .4 .3 .3-1.9 .5 4.5 .3-2.9 .4 6.4 .4-1.2 .4 5 .3-2.8 .5 2.3 .3-2 .4 2.2 .4-2 .4 1.8 .3-1.7 .5 1.8 .3-1.3 .4 1.2 .4-1.7 .4 2.4 .4-1.7 .4 1.9 .3-1.8 .4 1.5 .4-2.6 .4 1.3 .4-2.3 .4 2 .3-1.5 .4 2.7 .4-2.3 .4 1.4 .4-2.2 .4 1.5 .3-4.2 .5 2 .3-2.2 .4 .2 .4-2.4 .4 1.4 .3-2.1 .5 1.6 .3-1.2 .4 1.5 .4-1.3 .4-.2 .3-1.7 .5 2.6 .3-2.2 .4 1 .4-1.5 .4 1.2 .4-1.6 .4 1.1 .3-1.7 .4 4.2 .4-1.8 .4 4.8 .4-2.1 .4 4.3 .3-2 .4 2.4 .4-1.8 .4 1.5 .4-1 .4 3.3 .3-2.5 .5 2 .3-1.9 .4 2.5 .4-1.7 .4 2.4 .3-1.9 .5 .2 .3-2 .4 3 .4-3.6 .4 4.2 .3-3 .5 1.9 .3-2.8 .4 2.5 .4-2.4 .4 2.5 .4-1.3 .4 1.9 .3-2.8 .4 3 .4-3.5 .4 1.6 .4-3.3 .4-.7 .3-1.5 .4 .4 .4-1.7 .4 1.3 .4-2 .4 2 .3-1.7 .5 1.8 .3-2.3 .4 1.2 .4-1.8 .4 2.6 .3-2.2 .5 1.8 .3-1.8 .4 2.3 .4-2.2 .4 2.4 .3-2.5 .5 1 .3-1.4 .4 1 .4-1.6 .4 4.8 .4-2.2 .4 5.6 .3-2.4 .4 2.8 .4-2.3 .4 2.2 .4-1.6 .4 2.5 .3-3 .4 3.7 .4-2.2 .4 3.1 .4-1.4 .4 .7 .3-1.1 .4 1.2 .4-1.3 .4 1.3 .4-.9 .4 1.2 .3-1.5 .5 1.7 .3-1.5 .4 .8 .4-1.3 .4 1.6 .3-1.1 .5 1 .3-2.3 .4 1.9 .4-2.5 .4 .1 .3-2.6 .5 1.6 .3-2.4 .4 .3 .4-1.9 .4 .6 .4-1.7 .4 1.4 .3-1.6 .4 .5 .4-1.8 .4 1.2 .4-2.1 .4 3.8 .3-3.5 .4 1.4 .4-3.4 .4 3.1 .4-3.4 .4 3.8 .3-2.9 .5 2.5 .3-3.8 .4 4.5 .4-3.7 .4 1.2 .3-3.8 .5 5.7 .3-3 .4 3.8 .4-4.1 .4 3.8 .3-2.9 .5 1.5 .3-4.6 .4 7.1 .4-4 .4 2.5 .4-3.8 .4 3.1 .3-3.4 .4 3.7 .4-3.8 .4 3.7 .4-3.6 .4 3.2 .3-3.9 .4 4.5 .4-4.1 .4 4 .4-3.4 .4 2.4 .3-3.7 .5 5.1 .3-3.5 .4 3.2 .4-5.1 .4 5.4 .3-3.7 .5 4.1 .3-3.6 .4 3.7 .4-4.8 .4 2.2 .3-3.1 .5 3.7 .3-3.1 .4 4.2 .4-3.3 .4 5.6 .4-5.8 .4 6.7 .3-4.5 .4 4.3 .4-2.2 .4 4 .4-2.1 .4 1 .3-1.4 .4 .4 .4-2 .4 1.1 .4-2 .4 1.2 .3-2.6 .5 4.2 .3-2.6 .4 3.8 .4-2.7 .4 2.9 .3-2.4 .5 1.1 .3-4.6 .4 4.4 .4-6.7 .4 5.4 .3-7.3 .5 2.3 .3-6.1 .4 6.8 .4-7.5 .4 6.8 .4-5.9 .4 6.8 .3-8.7 .4 9.4 .4-6.9 .4 5 .4-7.5 .4 2.4 .3-8.9 .4 11.5 .4-7.5 .4 5.6 .4-5.4 .4 6.1 .3-9.2 .4 8.9 .4-9.6 .4 8.6 .4-11.4 .4 9.4 .3-9.1 .5 11.5 .3-12.7 .4 10.8 .4-8.2 .4 6.2 .3-9.1 .5 8.5 .3-8.1 .4 7.8 .4-5.6 .4 8.6 .3-9.1 .5 3.8 .3-7 .4 10 .4-9.6 .4 7.6 .4-7.6 .4 5.5 .3-7.8 .4 10.2 .4-9.5 .4 7.5 .4-9 .4 10.2 .3-8.5 .4 2.6 .4-6.1 .4 11.3 .4-10.8 .4 9.4 .3-9.5 .5 6.7 .3-7.8 .4 11.2 .4-9.8 .4 11.9 .3-7.9 .5 6.4 .3-8.5 .4 6.6 .4-7 .4 8.8 .3-6.5 .5 5.5 .3-9.9 .4 7.9 .4-7.5 .4 5.6 .4-8.5 .4 9.4 .3-5.4 .4 2.4 .4-7 .4 8.1 .4-9.4 .4 9.6 .3-6.8 .4 4.7 .4-5.4 .4 4.6 .4-5.1 .4 8.1 .3-5.3 .5 3.9 .3-6.9 .4 3.3 .4-6.8 .4 8 .3-9.1 .5 9.7 .3-7.1 .4 8.5 .4-5 .4 3.6 .3-5.1 .5 4.1 .3-6.4 .4 8 .4-9.1 .4 7.8 .4-9.4 .4 3.9 .3-6.6 .4 8.1 .4-5.1 .4 8.8 .4-8.2 .4 3 .3-7.3 .4 7.2 .4-5.1 .4 6.7 .4-7.8 .4 6.6 .3-5.9 .5 3.3 .3-6.9 .4 6 .4-8.5 .4 10 .3-6.4 .5 4.9 .3-7.3 .4 9.2 .4-9 .4 7.9 .3-8.9 .5 7 .3-8.6 .4 10.2 .4-6.1 .4 5.7 .4-6.7 .4 3.5 .3-6.8 .4 9.1 .4-8.9 .4 11.2 .4-7.9 .4 2.7 .3-8.4 .4 8.1 .4-7.7 .4 7.4 .4-8.1 .4 6.7 .3-6.5 .4 7.7 .4-6.1 .4 10.3 .4-12 .4 6.1 .3-7.5 .5 9.3 .3-5.9 .4 5.8 .4-8.7 .4 1.5 .3-8.9 .5 10.8 .3-10 .4 10.7 .4-11 .4 9.3 .3-9.8 .5 12.7 .3-12.2 .4 9.1 .4-10.3 .4 14.2 .4-10.3 .4 10.5 .3-7.2 .4 6.6 .4-9.4 .4 5.1 .4-10.4 .4 10.7 .3-9 .4 8.9 .4-13.1 .4 9.3 .4-6.9 .4 6 .3-10.2 .5 11.5 .3-10.5 .4 9.4 .4-10.2 .4 13 .3-9.8 .5 5.1 .3-8.9 .4 9 .4-10.5 .4 8.6 .3-10.2 .5 10.7 .3-7.6 .4 10.5 .4-7.2 .4 6.4 .4-10.2 .4 10.3 .3-6.7 .4 11.5 .4-11.4 .4 13 .4-13.7 .4 11.3 .3-9.8 .4 7.6 .4-7.1 .4 8.5 .4-7.8 .4 3.5 .3-6.4 .5 6.6 .3-6.8 .4 8.7 .4-7.8 .4 7.9 .3-9.8 .5 4.6 .3-7 .4 11 .4-11 .4 5.9 .3-5.5 .5 8 .3-8.3 .4 6 .4-7.9 .4 8.8 .4-8.5 .4 7.7 .3-10.1 .4 11.2 .4-7.1 .4 9.5 .4-9.1 .4 7.4 .3-7.7 .4 10.6 .4-9.5 .4 6.5 .4-10 .4 14.5 .3-7.8 .5 11.3 .3-7.2 .4 5.8 .4-13 .4 13 .3-10.5 .5 9 .3-9.9 .4 6.4 .4-6 .4 5.6 .3-8.6 .5 10.9 .3-12.7 .4 10.7 .4-8.9 .4 11.3 .3-11.3 .5 16.6 .3-10.1 .4 13.9 .4-11.8 .4 13.3 .4-11.4 .4 20.9 .3-12.6 .4 10 .4-12.4 .4 11.7 .4-13.3 .4 6.1 .3-12.6 .4 16.4 .4-10.5 .4 11.1 .4-9.3 .4 9.5 .3-7 .5 12.4 .3-13.1 .4 12.1 .4-12.1 .4 9.5 .3-15.3 .5 22.5 .3-14.4 .4 3.8 .4-9.4 .4 11.8 .3-10.1 .5 12.9 .3-15.2 .4 11.3 .4-11.3 .4 13 .4-10.7 .4 6.1 .3-10.1 .4 9.3 .4-8.9 .4 14.7 .4-12.6 .4 12 .3-11.2 .4 6 .4-8.7 .4 10.1 .4-9.5 .4 8.1 .3-8.2 .5 7.3 .3-9.3 .4 13 .4-8.5 .4 9.3 .3-9 .5 11 .3-6.9 .4 7.5 .4-6.3 .4 8.3 .3-12.6 .5 14.7 .3-10.3 .4 13.7 .4-10.4 .4 9.6 .4-11.1 .4 11.6 .3-7.9 .4 5.8 .4-8.8 .4 9.9 .4-5.9 .4 6.8 .3-5.7 .4 9.4 .4-5.9 .4 9 .4-11 .4 10.8 .3-9.3 .5 8 .3-4.9 .4 9.9 .4-7.6 .4 10 .3-6.3" stroke="#1C86EE" stroke-width="1.8" fill="none" stroke-linejoin="round" shape-rendering="crispEdges"/>
<rect x="97" y="1109" width="1616" height="46" fill="#D9D9D9"/>
<rect x="97" y="1155" width="1616" height="486" fill="#EBEBEB"/>
<path d="M97 1611.5H1713M97 1478.5H1713M97 1345.5H1713M97 1212.5H1713M571.5 1155V1641M1133.5 1155V1641M1695.5 1155V1641" stroke="#fff" stroke-width="1" fill="none"/>
<path d="M97 1545H1713M97 1412H1713M97 1279H1713M291 1155V1641M852 1155V1641M1414 1155V1641" stroke="#fff" stroke-width="2" fill="none"/>
<text x="82.6" y="1555.2" font-size="23.5" fill="#4D4D4D" text-anchor="end">-20</text>
<text x="82.6" y="1422.2" font-size="23.5" fill="#4D4D4D" text-anchor="end">0</text>
<text x="82.6" y="1289.2" font-size="23.5" fill="#4D4D4D" text-anchor="end">20</text>
<path d="M89 1545H97M89 1412H97M89 1279H97" stroke="#2b2b2b" stroke-width="2" fill="none"/>
<text x="905.0" y="1142.3" font-size="23.2" fill="#1A1A1A" text-anchor="middle">McGeeCreekUpper</text>
<path d="M174 1362.2l.3-132.9 .4 122.8 .4-116.8 .4 108 .4-121 .4 123 .3-111.8 .4 140.7 .4-143 .4 121.7 .4-123 .4 126.3 .3-122.3 .4 116.4 .4-104.2 .4 120.2 .4-119.8 .4 119.8 .3-89 .5 81.6 .3-138 .4 148.7 .4-111.7 .4 133.2 .3-139.9 .5 124.5 .3-131.8 .4 138.3 .4-130.1 .4 113.4 .3-107.4 .5 101.8 .3-92.3 .4 110 .4-144 .4 138.3 .4-121.7 .4 122.4 .3-116.3 .4 109.9 .4-117.2 .4 134.6 .4-90.3 .4 94.5 .3-128.5 .4 130.5 .4-134 .4 137.3 .4-152.6 .4 124.3 .3-132.2 .5 127.2 .3-115.1 .4 123.3 .4-161.2 .4 160.3 .3-152.2 .5 146.5 .3-127.1 .4 146.1 .4-134.4 .4 105 .3-132.9 .5 138.3 .3-110.7 .4 117.9 .4-68.9 .4 66.6 .3-98.6 .5 126.2 .3-140.5 .4 115.9 .4-71.3 .4 72.8 .4-133.6 .4 131.1 .3-103.2 .4 113.7 .4-134.4 .4 134.1 .4-135.9 .4 148.4 .3-145.8 .4 142.7 .4-147.9 .4 152.1 .4-122.8 .4 133.6 .3-123.2 .5 148 .3-132.8 .4 128.7 .4-114.4 .4 112.8 .3-93.1 .5 88.2 .3-52.4 .4 55.3 .4-73.6 .4 75.7 .3-72 .5 56.5 .3-58.3 .4 57.6 .4-65.7 .4 66.5 .4-57.1 .4 60.1 .3-74.6 .4 78.8 .4-99.1 .4 98.9 .4-93.5 .4 86.2 .3-84.5 .4 76.9 .4-119.2 .4 119.3 .4-90.7 .4 99.6 .3-78.9 .5 96.3 .3-96.3 .4 86.1 .4-86.2 .4 95.1 .3-67.1 .5 92.7 .3-87.4 .4 52.4 .4-79.7 .4 87.5 .3-97.6 .5 107.2 .3-102.1 .4 97.9 .4-99.9 .4 90.1 .4-86 .4 77.9 .3-64.6 .4 46.5 .4-36.3 .4 52.8 .4-79.3 .4 57.6 .3-43.4 .4 81.8 .4-99.5 .4 67 .4-65.6 .4 48.9 .3-46.3 .5 42.4 .3-46.6 .4 69.5 .4-73.3 .4 102.1 .3-129 .5 113.9 .3-64.4 .4 62.2 .4-54.5 .4 53.8 .3-47.2 .5 66.6 .3-93.1 .4 88.1 .4-74.9 .4 91.2 .4-66.3 .4 25.6 .3-22.7 .4 19.9 .4-14.5 .4 19.4 .4-46.1 .4 55.8 .3-26.4 .4 72.2 .4-78.6 .4 44.5 .4-33.4 .4 70.6 .3-70.8 .5 76.6 .3-44.8 .4 56.2 .4-45.9 .4 40.1 .3-35.8 .5 21 .3-44.8 .4 95.4 .4-93.8 .4 46.4 .3-40.6 .5 35.7 .3-30.2 .4 66.1 .4-66.6 .4 19.1 .3-56.9 .5 88.1 .3-67.5 .4 64.2 .4-71.9 .4 52.6 .4-33.4 .4 49.7 .3-56.9 .4 30.5 .4-38.7 .4 56.4 .4-61.8 .4 51.2 .3-37.1 .4 47.9 .4-48.8 .4 8.8 .4-19.1 .4 8.3 .3-11.4 .5 37.4 .3-68.3 .4 59.3 .4-38.2 .4 41 .3-48.6 .5 36.5 .3-43.8 .4 33.4 .4-33.5 .4 42.3 .3-61.9 .5 58.6 .3-20.8 .4 28.1 .4-21.3 .4 36.6 .4-29.8 .4 18.8 .3-11.3 .4 22 .4-16.8 .4 23.8 .4-26.7 .4 65.2 .3-64.1 .4 37.7 .4-35.7 .4 29.7 .4-20.2 .4 31.3 .3-24.9 .5 37 .3-36.6 .4 40.2 .4-41.5 .4 42.5 .3-46.2 .5 37.7 .3-33.2 .4 23.8 .4-23.9 .4 23.1 .3-23.8 .5 61.2 .3-62.8 .4 31.4 .4-19.8 .4 19.3 .4-27.1 .4 24 .3-31.9 .4 75.4 .4-70.4 .4 52 .4-77.6 .4 74.9 .3-47.7 .4 45.3 .4-55.5 .4 98.9 .4-54.4 .4 90.4 .3-110.5 .5 64.5 .3-59.8 .4 41.5 .4-32.7 .4 20.4 .3-29.7 .5 73 .3-84.8 .4 41.3 .4-24.2 .4 23.7 .3-46.4 .5 61 .3-31.5 .4 54.9 .4-55 .4 77.9 .4-78.7 .4 28.2 .3-35.2 .4 12.3 .4-35.1 .4 27.9 .4-33.6 .4 71.9 .3-90.4 .4 32.2 .4-20 .4 25.6 .4-45 .4 29.6 .3-42.1 .5 56.4 .3-40.4 .4 35.6 .4-39.3 .4 39.2 .3-34.6 .5 13.1 .3-21.5 .4 42.3 .4-27.8 .4 11.4 .3-8.3 .5 16.8 .3-14.7 .4 11.9 .4-9.3 .4 22.4 .3-20 .5 45.8 .3-64.9 .4 42.6 .4-35.3 .4 16.9 .4-16.1 .4 14 .3-10.8 .4 36.7 .4-34.8 .4 23.9 .4-42.7 .4 39.6 .3-29.9 .4 31.9 .4-28.8 .4 21.2 .4-27.9 .4 44.7 .3-40.4 .5 12.9 .3-14.4 .4 15.7 .4-14.1 .4 14.5 .3-36.3 .5 39.4 .3-13.5 .4 33 .4-36.3 .4 29.6 .3-41.4 .5 34.7 .3-37.1 .4 84.7 .4-79.7 .4 36.5 .4-17.2 .4 15.7 .3-9.7 .4 26.9 .4-28.4 .4 24.6 .4-22.1 .4 33.6 .3-47.9 .4 40.3 .4-38 .4 45.1 .4-43.4 .4 52.1 .3-52.1 .5 141.3 .3-111.5 .4 36.2 .4-68.6 .4 67.2 .3-44.9 .5 37.9 .3-21.6 .4 64.4 .4-60.3 .4 25.6 .3-29.1 .5 55.7 .3-68.7 .4 119.1 .4-124.2 .4 174.2 .4-128.3 .4 31.3 .3-47.8 .4 49.8 .4-34.8 .4 99.6 .4-108.1 .4 59.5 .3-112.3 .4 92.3 .4-62.1 .4 37.1 .4-62.1 .4 46 .3-52.1 .5 61.5 .3-86 .4 62.7 .4-35 .4 25.4 .3-24.6 .5 17.2 .3-19.4 .4 97.9 .4-112 .4 44.1 .3-37.7 .5 72.3 .3-121.9 .4 131.1 .4-92.2 .4 36.3 .4-41 .4 22.9 .3-37.7 .4 117.4 .4-136.5 .4 61.1 .4-75.1 .4 73.8 .3-85 .4 121.8 .4-88.8 .4 87.4 .4-104.4 .4 116.1 .3-106.2 .4 46 .4-16.1 .4 17.3 .4-48.2 .4 48.4 .3-44.3 .5 103.1 .3-106 .4 53.3 .4-42.1 .4 66.2 .3-90.5 .5 96.1 .3-58.6 .4 54.5 .4-47.9 .4 58.1 .3-67.8 .5 47.7 .3-66.2 .4 84.5 .4-82.9 .4 88.4 .4-72.7 .4 64.8 .3-45.2 .4 46.1 .4-39.1 .4 62.1 .4-58.1 .4 62.8 .3-86.5 .4 67.9 .4-38.2 .4 53.6 .4-55.5 .4 85.1 .3-95 .5 80.9 .3-71 .4 32.4 .4-34.1 .4 7.6 .3-45 .5 37 .3-22.1 .4 41.5 .4-42.4 .4 14.9 .3-20.6 .5 25.8 .3-33.1 .4 32.7 .4-56.3 .4 70.2 .4-55.4 .4 55.8 .3-53.7 .4 47.6 .4-54.9 .4 31.2 .4-52.1 .4 53.4 .3-32 .4 34.1 .4-36.8 .4 74.6 .4-81.3 .4 89.6 .3-95.3 .5 64.8 .3-93.6 .4 105.2 .4-70.2 .4 78.5 .3-84 .5 76.5 .3-85 .4 111 .4-119.7 .4 84.7 .3-98.8 .5 92.2 .3-105.7 .4 127.2 .4-157.1 .4 152.4 .4-94.2 .4 85.8 .3-103.7 .4 103.5 .4-99.6 .4 106.5 .4-130.9 .4 130.5 .3-116.5 .4 112.8 .4-101.8 .4 104.8 .4-105.6 .4 92.5 .3-119.8 .5 113.8 .3-116.6 .4 108.9 .4-117.2 .4 116.9 .3-103.8 .5 114 .3-117.3 .4 122.7 .4-130.9 .4 133.8 .3-126.9 .5 136.9 .3-133.4 .4 124.4 .4-138.4 .4 133.4 .4-129.6 .4 123.8 .3-146.7 .4 156.6 .4-126.5 .4 111.8 .4-133.7 .4 139.7 .3-143.4 .4 128.3 .4-128.7 .4 129 .4-110.4 .4 118.3 .3-110.3 .4 106 .4-132.5 .4 137.4 .4-135.2 .4 136.1 .3-134 .5 127.8 .3-128.4 .4 122.2 .4-124.5 .4 127.7 .3-107.7 .5 101.3 .3-93.7 .4 95.2 .4-125.6 .4 128.1 .3-82.2 .5 84.8 .3-120.5 .4 124.5 .4-130.1 .4 134.2 .4-134 .4 131.8 .3-132.4 .4 146.8 .4-136.9 .4 111.7 .4-121.1 .4 118.9 .3-123.6 .4 136.1 .4-119.9 .4 130 .4-111.6 .4 110.7 .3-109 .5 107.9 .3-103.9 .4 99.2 .4-104.2 .4 101.1 .3-97.3 .5 89.4 .3-83.9 .4 89.7 .4-60 .4 78.1 .3-108.8 .5 83 .3-105.4 .4 96.2 .4-69.6 .4 65.5 .4-68.6 .4 78.8 .3-97 .4 96.3 .4-111 .4 107.8 .4-106.6 .4 110.3 .3-116.8 .4 108.2 .4-83.4 .4 91.8 .4-100.7 .4 106.3 .3-91.7 .5 97.1 .3-88.1 .4 73 .4-97.8 .4 106.8 .3-84.3 .5 80.9 .3-89.7 .4 79.7 .4-100.5 .4 100.4 .3-100.8 .5 104.7 .3-98.8 .4 114.5 .4-101.1 .4 74.7 .4-99.7 .4 96.7 .3-140 .4 147 .4-110.6 .4 113.4 .4-141.8 .4 145.6 .3-139.3 .4 134.3 .4-137.5 .4 144.1 .4-153.8 .4 133 .3-116 .5 123.4 .3-130.4 .4 125 .4-128.6 .4 122.4 .3-126.8 .5 141.9 .3-148 .4 152.3 .4-153.8 .4 145.2 .3-124.4 .5 119.8 .3-128.9 .4 142.4 .4-144.8 .4 146.1 .3-106.8 .5 121.6 .3-131.4 .4 117.1 .4-106.1 .4 99.3 .4-130.8 .4 127.8 .3-101.3 .4 92.1 .4-72.9 .4 69.1 .4-105.1 .4 120.1 .3-103.8 .4 103.4 .4-109.6 .4 115.7 .4-120.6 .4 117.7 .3-137.8 .5 134.5 .3-149.9 .4 154.4 .4-125.6 .4 124.5 .3-118.8 .5 105 .3-104.1 .4 98.5 .4-101.9 .4 126.9 .3-152.4 .5 145.9 .3-117.9 .4 117 .4-134.2 .4 115.2 .4-153.5 .4 159.5 .3-173.5 .4 186.4 .4-162 .4 166.1 .4-134.8 .4 148.1 .3-177.8 .4 157.6 .4-119 .4 111.6 .4-77.8 .4 83.7 .3-100.9 .5 104.2 .3-101.1 .4 102.2 .4-128 .4 137.3 .3-85.4 .5 85.8 .3-120 .4 116.9 .4-121.6 .4 124 .3-106.8 .5 135.7 .3-87.9 .4 59.5 .4-123.4 .4 126.7 .4-102 .4 104.3 .3-101 .4 115.1 .4-125.1 .4 134.4 .4-116 .4 111.6 .3-108.7 .4 102.3 .4-102.7 .4 103.9 .4-117.4 .4 114.7 .3-104.6 .5 101.3 .3-101.5 .4 98.3 .4-99.5 .4 95.7 .3-81 .5 77.1 .3-107.6 .4 104.7 .4-122.9 .4 121.5 .3-135.2 .5 139.6 .3-130.8 .4 131.9 .4-122.6 .4 138 .4-109.7 .4 122.1 .3-132.4 .4 135.5 .4-121.9 .4 117.5 .4-120 .4 127.3 .3-128.5 .4 128.9 .4-116.2 .4 97.8 .4-111.9 .4 115.5 .3-95.4 .5 113.9 .3-86.5 .4 90.8 .4-103.6 .4 86.8 .3-83.9 .5 73.6 .3-71.5 .4 70 .4-92.8 .4 107.5 .3-72.6 .5 64.4 .3-60.8 .4 73.6 .4-74 .4 80.5 .3-85.5 .5 78.5 .3-78.6 .4 67.7 .4-61.1 .4 63.3 .4-48.9 .4 45 .3-48.7 .4 39.7 .4-23.8 .4 20.9 .4-18.2 .4 13.1 .3-22.7 .4 36.7 .4-29.4 .4 16.6 .4-18 .4 19.6 .3-16.1 .5 18.6 .3-23.2 .4 65.2 .4-88.3 .4 73.3 .3-55.4 .5 60.4 .3-54.7 .4 29 .4-32.8 .4 28.3 .3-21.5 .5 20.6 .3-12.7 .4 14.2 .4-21.9 .4 36.7 .4-34 .4 18.2 .3-21.7 .4 18.2 .4-20 .4 29.1 .4-21.8 .4 32.7 .3-33.8 .4 18.3 .4-36 .4 24.1 .4-14.1 .4 43.6 .3-56.6 .5 12.9 .3-30.2 .4 22.5 .4-46 .4 74.9 .3-47.9 .5 51.2 .3-47.5 .4 24.7 .4-12.3 .4 16.3 .3-30.1 .5 65.3 .3-57.2 .4 29.2 .4-14.6 .4 17.5 .4-7.2 .4 11.4 .3-9.2 .4 36.7 .4-40.1 .4 40.2 .4-42.9 .4 27.3 .3-27.8 .4 34.9 .4-15.4 .4 36.9 .4-19.2 .4 61.6 .3-70.6 .5 52.3 .3-31.1 .4 47.9 .4-47.4 .4 23.4 .3-39.5 .5 74.8 .3-56.9 .4 19.4 .4-14.8 .4 13.4 .3-14.8 .5 15.7 .3-48 .4 49 .4-15.9 .4 19.2 .4-19.6 .4 79.6 .3-78.8 .4 31.2 .4-34.7 .4 43.8 .4-49 .4 16.3 .3-49.6 .4 90.3 .4-64.7 .4 23.1 .4-37.9 .4 38 .3-35.8 .5 44.9 .3-43.5 .4 43.4 .4-41.3 .4 32 .3-29.3 .5 25.9 .3-40.9 .4 19.8 .4-10.9 .4 14.4 .3-8.9 .5 12 .3-25 .4 46.6 .4-27.8 .4 44.9 .3-39.1 .5 18.5 .3-12.2 .4 28.8 .4-23.1 .4 36.1 .4-28.2 .4 46 .3-73.5 .4 124.1 .4-87.2 .4 42.5 .4-40.6 .4 43.7 .3-60.7 .4 56.2 .4-60.6 .4 37 .4-60.1 .4 64.9 .3-45.9 .5 3.5 .3-8.2 .4 3.5 .4-8.4 .4 4.2 .3-12.3 .5 43.9 .3-67.8 .4 66 .4-49.3 .4 26.6 .3-19.4 .5 15.2 .3-18.8 .4 31.7 .4-40.9 .4 63.5 .4-76.8 .4 60.8 .3-32.1 .4 44.9 .4-44.2 .4 70.2 .4-77.6 .4 42.1 .3-41.9 .4 27.3 .4-10.5 .4 36.6 .4-39.4 .4 17.8 .3-32.1 .5 37.2 .3-41.5 .4 50.9 .4-52.1 .4 61 .3-30.3 .5 120.2 .3-122.2 .4 33.9 .4-26.6 .4 10.5 .3-14.5 .5 44.2 .3-80.5 .4 38 .4-12 .4 18.1 .4-17.3 .4 50.6 .3-65 .4 87.8 .4-71.6 .4 44.3 .4-45.7 .4 49.1 .3-52.7 .4 36.4 .4-41.1 .4 47.4 .4-71.4 .4 69.5 .3-40.6 .5 36.4 .3-39.1 .4 33.6 .4-51.1 .4 122 .3-116.8 .5 45.1 .3-49.6 .4 43.2 .4-15.6 .4 21.4 .3-27.7 .5 17.8 .3-21.6 .4 30.4 .4-33.2 .4 25.1 .4-22.9 .4 14.5 .3-34.3 .4 34.2 .4-26.6 .4 71.5 .4-69.4 .4 33.9 .3-31 .4 63.9 .4-59.3 .4 63 .4-83 .4 136.9 .3-121.1 .4 87.8 .4-92 .4 67.3 .4-55.3 .4 50.1 .3-42.6 .5 73.3 .3-79.8 .4 60.5 .4-96.4 .4 79.7 .3-64.9 .5 74 .3-44.6 .4 130.8 .4-146.8 .4 74.9 .3-56.2 .5 156.3 .3-146.2 .4 60 .4-37.8 .4 47.9 .4-38.9 .4 145.2 .3-188.2 .4 92.8 .4-92.2 .4 74.5 .4-74.7 .4 89.6 .3-55.3 .4 91 .4-134.2 .4 140.5 .4-116 .4 82.5 .3-76.6 .5 52.8 .3-24.7 .4 109.4 .4-135.3 .4 57.7 .3-73.8 .5 59.2 .3-61.6 .4 98.8 .4-78.9 .4 29 .3-41.8 .5 45.1 .3-29.7 .4 33.5 .4-16 .4 26.5 .4-69.3 .4 141.1 .3-93.6 .4 100.3 .4-98.7 .4 96.6 .4-99.1 .4 93.3 .3-94 .4 128.5 .4-138.8 .4 38.8 .4-80 .4 69 .3-71.4 .5 71.7 .3-46.8 .4 112.9 .4-103.3 .4 77.8 .3-129.7 .5 137.9 .3-103.2 .4 97.1 .4-129.7 .4 127.7 .3-152.4 .5 126.9 .3-99.9 .4 94.4 .4-100.9 .4 64.5 .4-80.4 .4 40.6 .3-60.5 .4 100 .4-90.1 .4 45.1 .4-82 .4 57 .3-35.2 .4 88.9 .4-82.8 .4 88.8 .4-92.5 .4 94.3 .3-152.4 .5 120.5 .3-67.2 .4 52 .4-47.2 .4 32.5 .3-30.4 .5 55.3 .3-67.9 .4 102 .4-115.7 .4 103.6 .3-96.2 .5 75.4 .3-68.9 .4 64.7 .4-57.9 .4 58.3 .4-69.5 .4 90.6 .3-102.9 .4 99.5 .4-77.2 .4 96.2 .4-72.1 .4 34.7 .3-39.4 .4 33.6 .4-76.7 .4 67 .4-34.9 .4 62.4 .3-60.3 .4 49.4 .4-44.5 .4 36.4 .4-62.8 .4 60.4 .3-53 .5 55.1 .3-48.9 .4 43.9 .4-50.2 .4 63.2 .3-56.3 .5 43.5 .3-54.9 .4 61.4 .4-49.3 .4 66.7 .3-64.9 .5 48 .3-48.6 .4 78.4 .4-101.6 .4 92.3 .4-96.1 .4 82 .3-91.5 .4 72.9 .4-79.5 .4 78.3 .4-82.5 .4 78.1 .3-85.9 .4 115.2 .4-104.3 .4 94 .4-63.2 .4 62 .3-68.7 .5 77.3 .3-95.9 .4 114.4 .4-76.7 .4 99 .3-88.2 .5 88.7 .3-86.8 .4 110.4 .4-141.1 .4 87.9 .3-60.2 .5 49.6 .3-61.7 .4 64.3 .4-83.4 .4 82.6 .4-85.2 .4 59.8 .3-81.9 .4 79.9 .4-54 .4 58.4 .4-74.2 .4 77.8 .3-80 .4 100.8 .4-116.9 .4 100 .4-109.5 .4 110.5 .3-140.8 .5 142.2 .3-120.7 .4 116.8 .4-115.5 .4 105.5 .3-128.3 .5 135.5 .3-76.7 .4 62.3 .4-75.6 .4 77.1 .3-71.1 .5 82.9 .3-69.5 .4 76.5 .4-77.5 .4 79 .4-58.4 .4 50.3 .3-86.9 .4 80 .4-85.7 .4 92.7 .4-81.2 .4 95.9 .3-118.5 .4 110.7 .4-105.9 .4 104.3 .4-126 .4 111.8 .3-108.4 .5 99.8 .3-58 .4 76.1 .4-142.5 .4 118.2 .3-104.4 .5 103.1 .3-110.2 .4 114.6 .4-115.4 .4 110.9 .3-96 .5 96.2 .3-129.7 .4 131.6 .4-101 .4 103.6 .3-78.5 .5 91 .3-74.1 .4 66.2 .4-48.5 .4 48 .4-59.4 .4 60.5 .3-75.9 .4 67.5 .4-67.8 .4 58.9 .4-71.7 .4 70.1 .3-88.7 .4 90.8 .4-128.3 .4 139.8 .4-107.8 .4 112 .3-113.6 .5 109.1 .3-74.2 .4 73.6 .4-105.3 .4 112.1 .3-134.4 .5 127.9 .3-105.3 .4 111.1 .4-90.9 .4 95.9 .3-75.3 .5 75.8 .3-60.2 .4 59.5 .4-59 .4 64.1 .4-78.4 .4 85.8 .3-105.4 .4 97.7 .4-127.8 .4 115.6 .4-92.2 .4 95.9 .3-116.2 .4 120.9 .4-111.4 .4 110.1 .4-116.6 .4 113.9 .3-129.8 .5 124.2 .3-120.2 .4 122.2 .4-107.8 .4 105.3 .3-105.5 .5 96.3 .3-109.2 .4 101 .4-108.9 .4 114 .3-121.3 .5 123.5 .3-105.3 .4 90.6 .4-78.9 .4 98.5 .4-124.2 .4 107.9 .3-101.5 .4 97.8 .4-85.9 .4 87.5 .4-99 .4 105.8 .3-112.6 .4 119.2 .4-129.6 .4 136.2 .4-118.9 .4 125.1 .3-114.6 .5 119 .3-101.3 .4 98.6 .4-94.2 .4 87.1 .3-72.4 .5 96.8 .3-118.5 .4 103 .4-121.6 .4 125.2 .3-189 .5 181.6 .3-168.2 .4 154.7 .4-142.1 .4 134.4 .4-126 .4 145.3 .3-145.3 .4 126.1 .4-72.9 .4 67.2 .4-94.8 .4 103.2 .3-100.3 .4 89.4 .4-94 .4 100.3 .4-140.6 .4 155.5 .3-134.8 .5 121.7 .3-83.4 .4 87.4 .4-125.8 .4 138.3 .3-153.8 .5 136.8 .3-130.2 .4 119.9 .4-86.3 .4 89 .3-116.5 .5 119.7 .3-141.4 .4 142.2 .4-93.5 .4 112.2 .3-114.7 .5 116.1 .3-116.6 .4 116.6 .4-95.1 .4 101.3 .4-94.8 .4 83.9 .3-99 .4 89.9 .4-100.4 .4 96.5 .4-87.5 .4 95.6 .3-107 .4 110.1 .4-107.5 .4 108.5 .4-127.9 .4 110.3 .3-139.5 .5 160.3 .3-149.2 .4 152.3 .4-131.4 .4 117 .3-98.2 .5 102 .3-94.1 .4 107.9 .4-79.4 .4 89.5 .3-117.4 .5 125.8 .3-127.1 .4 104.3 .4-134.6 .4 132.4 .4-115.3 .4 110.2 .3-110.8 .4 114.5 .4-121.5 .4 129.7 .4-146.3 .4 148.2 .3-134.4 .4 109.1 .4-99 .4 101.8 .4-100.4 .4 104.1 .3-123.8 .5 121.5 .3-73.9 .4 77.1 .4-97.2 .4 99.5 .3-93.6 .5 95.4 .3-96.3 .4 110 .4-75.8 .4 68 .3-74.7 .5 92.4 .3-97.3 .4 83.1 .4-85.8 .4 84.8 .4-85.6 .4 93.7 .3-123.5 .4 117.4 .4-103 .4 100.8 .4-77.1 .4 86.5 .3-57.7 .4 60.9 .4-60.7 .4 47 .4-52.5 .4 50.5 .3-57.2 .5 66 .3-97.5 .4 94.4 .4-77.4 .4 97.3 .3-69.6 .5 58.7 .3-48.5 .4 54.2 .4-56.9 .4 62.2 .3-61.9 .5 92.8 .3-90.6 .4 66.7 .4-58.9 .4 85.1 .4-92 .4 103.6 .3-110.4 .4 114 .4-91.5 .4 71.2 .4-71.2 .4 58.8 .3-59.6 .4 74.8 .4-87.7 .4 79.3 .4-77.6 .4 88.5 .3-74.4 .5 71.8 .3-53.5 .4 61.9 .4-92.9 .4 140.2 .3-123.2 .5 87 .3-103.4 .4 101.7 .4-96.4 .4 84.4 .3-75.2 .5 34.4 .3-69.3 .4 60.2 .4-87.6 .4 99.4 .3-55.7 .5 45.3 .3-53.4 .4 79.3 .4-81.1 .4 65.4 .4-56.8 .4 65.9 .3-72.4 .4 74.3 .4-51.9 .4 30.9 .4-34.4 .4 71.4 .3-93.8 .4 76.2 .4-97.1 .4 109.8 .4-113.6 .4 111 .3-72.4 .5 92.4 .3-32.9 .4 65 .4-72 .4 141.7 .3-182 .5 116.3 .3-95.1 .4 100.7 .4-105.7 .4 66.6 .3-75.3 .5 133.6 .3-104.3 .4 54.5 .4-105.4 .4 121.5 .4-77.2 .4 54.4 .3-63.2 .4 91.5 .4-129.1 .4 99.9 .4-75.3 .4 82.7 .3-118.5 .4 151.7 .4-114 .4 105 .4-111.4 .4 152.7 .3-130 .5 48.2 .3-26.8 .4 29.3 .4-63.2 .4 72.1 .3-60 .5 72.5 .3-66 .4 16.8 .4-29.5 .4 48.5 .3-57.4 .5 71.3 .3-82.4 .4 67.7 .4-54.8 .4 100 .4-90.6 .4 49.7 .3-33.9 .4 54.1 .4-50.7 .4 65.6 .4-66.4 .4 77.8 .3-93.1 .4 63.4 .4-55.2 .4 55.1 .4-47.3 .4 55.8 .3-26.2 .5 39.3 .3-36.1 .4 107.8 .4-153.8 .4 67.4 .3-24.6 .5 19.8 .3-31.2 .4 46.5 .4-53.6 .4 82.9 .3-94.8 .5 50.3 .3-53.4 .4 36.3 .4-33.5 .4 24.9 .4-46.9 .4 37.5 .3-14.4 .4 11.5 .4-8.8 .4 34.9 .4-33 .4 20.4 .3-32.6 .4 42.5 .4-34.8 .4 19.6 .4-18.8 .4 13.6 .3-9.4 .4 38.1 .4-39.9 .4 42.9 .4-53.9 .4 50.2 .3-61.4 .5 48.9 .3-42.6 .4 85.5 .4-72.3 .4 49.5 .3-50.4 .5 61.3 .3-67.3 .4 41.3 .4-79.3 .4 64.5 .3-30.6 .5 70.6 .3-70.6 .4 64.7 .4-55.3 .4 70.3 .4-63.6 .4 84.1 .3-77.3 .4 31.4 .4-57.1 .4 58.2 .4-26.7 .4 18.9 .3-18.2 .4 73.6 .4-70.2 .4 35.3 .4-41.5 .4 27.2 .3-48.1 .5 41.7 .3-29.6 .4 30.2 .4-38.9 .4 21.9 .3-28.9 .5 44.4 .3-42.7 .4 38.6 .4-32.6 .4 36.7 .3-52.1 .5 60.7 .3-22.5 .4 90.2 .4-86.8 .4 28.7 .4-24 .4 14.8 .3-25.6 .4 25.1 .4-40.3 .4 49 .4-73.3 .4 147.9 .3-148.5 .4 58.6 .4-61.1 .4 66.2 .4-34.6 .4 26.2 .3-22 .5 58.8 .3-62.7 .4 16.6 .4-38.6 .4 55 .3-45.8 .5 35.2 .3-32.5 .4 30.7 .4-32.3 .4 34.8 .3-35.2 .5 20.8 .3-33.9 .4 34.9 .4-27.8 .4 15.2 .4-30.4 .4 32.3 .3-21.3 .4 56.5 .4-49.5 .4 58.2 .4-59.5 .4 55.8 .3-92.3 .4 61.2 .4-42.5 .4 53.7 .4-27 .4 48.1 .3-36 .5 118.4 .3-109.1 .4 29.8 .4-47.4 .4 46.5 .3-64.6 .5 68.4 .3-23 .4 37.7 .4-35.9 .4 88.3 .3-83.9 .5 16.1 .3-25.2 .4 28.9 .4-65.8 .4 45.2 .4-38.7 .4 24.9 .3-11.3 .4 44.8 .4-59.3 .4 66.6 .4-70.8 .4 83.2 .3-83.4 .4 105.2 .4-117.7 .4 130.5 .4-119.9 .4 125.9 .3-99.6 .4 117.5 .4-110 .4 78.7 .4-86.2 .4 59.4 .3-113.2 .5 117.1 .3-91.3 .4 70.1 .4-65.4 .4 62.6 .3-69.8 .5 23.1 .3-25.7 .4 17.3 .4-19 .4 18.7 .3-58 .5 55.8 .3-24.7 .4 76.7 .4-82.8 .4 33.4 .4-39.8 .4 67.2 .3-74 .4 106.5 .4-108.9 .4 115.9 .4-118.6 .4 115.4 .3-105.8 .4 116.9 .4-134.6 .4 119.2 .4-78.2 .4 85.1 .3-88.5 .5 77.5 .3-59.5 .4 67.7 .4-67.6 .4 65.6 .3-91.1 .5 90.1 .3-63.7 .4 66.6 .4-46.4 .4 141.1 .3-135.7 .5 34.1 .3-38 .4 25.7 .4-90.8 .4 123.4 .4-106 .4 126.6 .3-131.8 .4 118.7 .4-126.8 .4 108.9 .4-121.1 .4 83.8 .3-92.6 .4 93.2 .4-64.5 .4 81.7 .4-80.9 .4 74.9 .3-72.1 .5 32.4 .3-33.6 .4 50.4 .4-45.8 .4 45.9 .3-34.2 .5 42.9 .3-49.7 .4 33.8 .4-14.9 .4 20 .3-21.6 .5 28.1 .3-49.3 .4 60.7 .4-50.8 .4 104.4 .4-123.5 .4 56.6 .3-37.1 .4 25.9 .4-67.2 .4 90.7 .4-66.4 .4 68.8 .3-77.9 .4 46.3 .4-50.4 .4 69 .4-109.8 .4 109.2 .3-66.7 .5 70.4 .3-64 .4 95.4 .4-116.6 .4 164.2 .3-147.2 .5 136.7 .3-154.6 .4 137.5 .4-130 .4 121.4 .3-117.7 .5 104.7 .3-111.8 .4 108.8 .4-106.9 .4 86.8 .3-88.4 .5 55.6 .3-66 .4 70.1 .4-103.6 .4 117.1 .4-77 .4 78.5 .3-74.3 .4 52.8 .4-48.6 .4 67.9 .4-88.2 .4 73 .3-78.8 .4 80.1 .4-57.5 .4 61.4 .4-89.9 .4 107.7 .3-126.6 .5 120.8 .3-145.2 .4 144.6 .4-112.1 .4 103.9 .3-98.4 .5 110.7 .3-127.5 .4 110 .4-75.7 .4 72.9 .3-69.3 .5 97 .3-129.4 .4 109.4 .4-109.3 .4 103.3 .4-80.1 .4 81 .3-83.6 .4 79.7 .4-53.9 .4 55.1 .4-83.1 .4 103 .3-100.6 .4 78.6 .4-46.6 .4 48.3 .4-47.9 .4 46.3 .3-76.9 .5 81.8 .3-69.6 .4 79.1 .4-73.3 M1047.2 1373.6l.3-124.8 .4 116.2 .4-116.2 .4 118.5 .3-129.4 .5 142.5 .3-122.7 .4 115.2 .4-107.4 .4 96.6 .3-62.9 .5 74.5 .3-120.3 .4 135.5 .4-105.7 .4 101.8 .4-75.2 .4 90.3 .3-90.3 .4 71.6 .4-61.8 .4 65.5 .4-50.7 .4 47.9 .3-104.9 .4 109.5 .4-82 .4 84 .4-77.4 .4 70 .3-53.4 .5 59.8 .3-58.3 .4 66.5 .4-87.2 .4 97.7 .3-116.9 .5 89.1 .3-114.1 .4 106.2 .4-56.7 .4 54.2 .3-82.5 .5 97.8 .3-110.6 .4 118.6 .4-94.7 .4 75.5 .4-77.1 .4 73.2 .3-83.3 .4 75.7 .4-90.4 .4 109.8 .4-121.4 .4 89.2 .3-64.2 .4 74.8 .4-78.4 .4 78 .4-74 .4 87.4 .3-31.8 .5 50.8 .3-38.6 .4 57.8 .4-39.6 .4 30.5 .3-28.6 .5 36.9 .3-55.6 .4 62.7 .4-38.3 .4 51.8 .3-50.8 .5 46.6 .3-46.4 .4 36.2 .4-21.2 .4 25.7 .4-42.3 .4 44.6 .3-25.3 .4 58.3 .4-47.8 .4 66.6 .4-58.5 .4 56.9 .3-63.8 .4 131.2 .4-150.9 .4 135.4 .4-96.8 .4 69.1 .3-87.8 .4 43.7 .4-78.9 .4 63.2 .4-90.1 .4 55.2 .3-45.4 .5 44.5 .3-77.1 .4 107.7 .4-80.1 .4 74.4 .3-99.8 .5 34.7 .3-62.8 .4 133.2 .4-114.5 .4 102.1 .3-59.5 .5 45.1 .3-52.2 .4 61.2 .4-21.7 .4 94.5 .4-83.5 .4 35.8 .3-51.9 .4 47.1 .4-36.8 .4 40.6 .4-43 .4 40.1 .3-40.6 .4 42.8 .4-51 .4 16.3 .4-17 .4 13 .3-21.6 .5 49 .3-62 .4 39.6 .4-22.3 .4 36.9 .3-30.7 .5 47.2 .3-51.5 .4 67.6 .4-63.4 .4 40.8 .3-26.6 .5 68.2 .3-72 .4 51.7 .4-32.9 .4 21.8 .4-25.8 .4 18.2 .3-27.1 .4 20.7 .4-46.3 .4 98.7 .4-96.9 .4 65.6 .3-62.2 .4 61.7 .4-57.7 .4 44.6 .4-22.3 .4 23.1 .3-24.8 .5 31.1 .3-40.4 .4 83.9 .4-87.5 .4 38.4 .3-16.2 .5 26 .3-29.6 .4 76.5 .4-97.5 .4 77.3 .3-67.6 .5 35.3 .3-77 .4 57.2 .4-17 .4 53.5 .4-49.2 .4 14.7 .3-26 .4 38.6 .4-31.8 .4 24.5 .4-23.4 .4 15.7 .3-7.8 .4 6.1 .4-7 .4 23 .4-27.5 .4 11 .3-19.2 .5 38.2 .3-42.6 .4 40.7 .4-42.9 .4 60.8 .3-37.7 .5 53.1 .3-51.4 .4 51.6 .4-57.7 .4 34.3 .3-33.8 .5 52.6 .3-38.9 .4 78.5 .4-77.6 .4 24.5 .4-40.5 .4 52.1 .3-64.3 .4 45.6 .4-25.9 .4 59.3 .4-57.5 .4 8.3 .3-11.2 .4 5.1 .4-9.3 .4 6.2 .4-29.1 .4 30.1 .3-20.4 .4 27 .4-31.7 .4 18.2 .4-24 .4 22.1 .3-13.5 .5 24.2 .3-37.6 .4 33 .4-15.7 .4 15.8 .3-12.9 .5 48.9 .3-43.1 .4 39 .4-50.3 .4 50.3 .3-51.2 .5 55.9 .3-55.6 .4 32.5 .4-8.6 .4 46.7 .4-56 .4 48 .3-57.7 .4 43.2 .4-30 .4 21.8 .4-17.9 .4 59.8 .3-87.4 .4 46.1 .4-23.8 .4 40.1 .4-40 .4 30.4 .3-30.1 .5 81.7 .3-95.1 .4 61.2 .4-62.1 .4 104.5 .3-91.6 .5 94 .3-102 .4 111.4 .4-122.1 .4 47.1 .3-55 .5 53.8 .3-32.8 .4 22 .4-49 .4 39.9 .4-17.2 .4 64.8 .3-65.9 .4 34.8 .4-72 .4 65.5 .4-36.9 .4 71.6 .3-56.2 .4 23.1 .4-14.4 .4 26.7 .4-44.1 .4 56.4 .3-21.1 .5 88.9 .3-72.2 .4 27.6 .4-15.4 .4 29 .3-17.4 .5 104.9 .3-141.2 .4 178.7 .4-154.9 .4 84.6 .3-78.6 .5 58.6 .3-85.2 .4 123.8 .4-107.5 .4 27.9 .4-46.8 .4 41.2 .3-75.6 .4 82.3 .4-52.3 .4 43.3 .4-53.7 .4 15.7 .3-21.6 .4 28.5 .4-29.7 .4 33.6 .4-57.4 .4 81.9 .3-82.7 .5 99.6 .3-98.4 .4 59.1 .4-52.7 .4 63.8 .3-79.1 .5 84.4 .3-71.9 .4 62 .4-74.3 .4 54.9 .3-89 .5 96 .3-75.3 .4 19.8 .4-19.1 .4 20.1 .3-20.4 .5 40.5 .3-88.4 .4 71.8 .4-23.1 .4 88.2 .4-82.2 .4 67.2 .3-76.6 .4 45 .4-46.5 .4 46.7 .4-23.4 .4 17.2 .3-30.6 .4 35.8 .4-56.2 .4 113.5 .4-117.5 .4 41.6 .3-69.5 .5 64.3 .3-24.6 .4 24.7 .4-33.2 .4 40.2 .3-66.3 .5 107.8 .3-115.9 .4 59.3 .4-74 .4 90 .3-37.6 .5 31.2 .3-22.7 .4 28.2 .4-34 .4 54.7 .4-53.4 .4 74.2 .3-67.7 .4 50.4 .4-35.3 .4 26.2 .4-27.7 .4 24.5 .3-27.1 .4 27.8 .4-75.5 .4 77.4 .4-69.2 .4 140 .3-134.8 .5 63.9 .3-68.9 .4 63.7 .4-90.5 .4 99.9 .3-106.9 .5 87.6 .3-74.4 .4 116.6 .4-105.2 .4 69.5 .3-62.8 .5 57.3 .3-40.6 .4 46.8 .4-52.5 .4 81.9 .4-69.7 .4 54.4 .3-40.6 .4 51.3 .4-71 .4 92.2 .4-82.1 .4 87 .3-76.1 .4 84.2 .4-108.6 .4 59.5 .4-48.1 .4 46.9 .3-51.8 .5 70 .3-82.6 .4 85.1 .4-107.8 .4 85.5 .3-114.6 .5 119.1 .3-94.7 .4 100.3 .4-75 .4 106.1 .3-97.9 .5 47.5 .3-81.4 .4 80.1 .4-52.8 .4 61.7 .4-54.3 .4 40.7 .3-41.7 .4 56.6 .4-62.1 .4 58.6 .4-66.3 .4 58 .3-68.5 .4 67.5 .4-71 .4 73.9 .4-121.3 .4 142.5 .3-94.6 .5 92 .3-81.3 .4 61.4 .4-53.6 .4 59.9 .3-68.5 .5 77 .3-62.1 .4 60.3 .4-123.1 .4 121.3 .3-152.4 .5 151.1 .3-97.2 .4 97.9 .4-87.4 .4 82.8 .3-66.3 .5 59 .3-60.9 .4 80.5 .4-83.9 .4 69.6 .4-81.6 .4 83.3 .3-94.1 .4 90 .4-81.3 .4 78.8 .4-85.8 .4 101.1 .3-117.4 .4 119.5 .4-160.5 .4 164.5 .4-147.2 .4 147.8 .3-134.8 .5 124.2 .3-103.7 .4 102.6 .4-99.8 .4 89 .3-86 .5 78.1 .3-90.9 .4 105.8 .4-110.5 .4 96.5 .3-103 .5 107.4 .3-114.6 .4 123.7 .4-126.9 .4 120 .4-108.8 .4 112.5 .3-119.9 .4 126.4 .4-166.5 .4 148.3 .4-124.2 .4 111.1 .3-116.8 .4 128 .4-137.2 .4 140.9 .4-177.5 .4 169.4 .3-153.9 .5 140.2 .3-125.6 .4 144 .4-116.6 .4 95.8 .3-63.4 .5 73.2 .3-107.5 .4 117.2 .4-116.5 .4 121.8 .3-136.5 .5 130.7 .3-154.9 .4 173.7 .4-201.8 .4 170.6 .4-134.7 .4 148 .3-131.9 .4 133.3 .4-120.9 .4 115.4 .4-122.4 .4 122.4 .3-116.3 .4 105 .4-87.3 .4 98 .4-109.1 .4 96.1 .3-116.7 .5 123.7 .3-152.1 .4 131.3 .4-112.6 .4 114.4 .3-115.1 .5 115.7 .3-122.4 .4 118.6 .4-133.1 .4 126.5 .3-134.5 .5 148.3 .3-123.4 .4 133.1 .4-169.1 .4 149 .4-169.8 .4 166.2 .3-158.3 .4 167.3 .4-138.7 .4 141.5 .4-125.6 .4 114.2 .3-134.7 .4 149.5 .4-112.2 .4 109.3 .4-117.6 .4 117.8 .3-134.1 .5 131.3 .3-132.8 .4 142.9 .4-111.2 .4 112.3 .3-136.9 .5 135.6 .3-142.5 .4 128.8 .4-91 .4 88.8 .3-123.3 .5 138.4 .3-153.1 .4 154.2 .4-106.8 .4 106.2 .3-131 .5 133.9 .3-129.4 .4 125 .4-143.3 .4 127.5 .4-137.8 .4 132.7 .3-114.1 .4 115.9 .4-106.5 .4 122 .4-108.1 .4 113.2 .3-128.2 .4 136.8 .4-113.7 .4 100.4 .4-87.7 .4 84.6 .3-124.4 .5 125.9 .3-150.2 .4 150.1 .4-116.4 .4 99.9 .3-126.3 .5 135.7 .3-133.2 .4 138 .4-134 .4 141.5 .3-166.6 .5 149.9 .3-108.4 .4 103.5 .4-93.9 .4 104.1 .4-93.3 .4 101.4 .3-126.6 .4 126 .4-119.9 .4 113.6 .4-110.4 .4 116.9 .3-112.8 .4 114 .4-91.4 .4 91.6 .4-107.8 .4 105.4 .3-83.2 .5 90.7 .3-96.5 .4 94.1 .4-123.2 .4 126 .3-141.3 .5 137.2 .3-137.8 .4 138.3 .4-157.7 .4 147.7 .3-81.9 .5 74.4 .3-103.3 .4 126.8 .4-88.8 .4 91.8 .4-94.5 .4 101.7 .3-111.8 .4 116.1 .4-92.6 .4 89.8 .4-83 .4 107.4 .3-108.5 .4 87.2 .4-103.3 .4 115.7 .4-110.8 .4 106.4 .3-127.2 .5 107.5 .3-96.2 .4 110 .4-118.7 .4 98.9 .3-100.1 .5 102.6 .3-99.2 .4 101.8 .4-115.1 .4 114.7 .3-87.4 .5 113.8 .3-116.1 .4 102.9 .4-103.5 .4 97.9 .4-108.8 .4 108.2 .3-133 .4 124.8 .4-126.6 .4 118.1 .4-110.6 .4 124.1 .3-138.8 .4 131.4 .4-117.6 .4 112.9 .4-107.1 .4 109.9 .3-102.1 .4 106.1 .4-87 .4 109.3 .4-110.1 .4 101.9 .3-75.8 .5 94.2 .3-92.1 .4 103.4 .4-97.1 .4 103.2 .3-106.3 .5 79 .3-90.6 .4 96.5 .4-89.1 .4 86.1 .3-100.4 .5 95.1 .3-98.5 .4 94.9 .4-97.6 .4 98.8 .4-104.7 .4 106.9 .3-85.2 .4 77.6 .4-99 .4 92.7 .4-115.1 .4 125.7 .3-111.2 .4 128.1 .4-130.7 .4 110.4 .4-106.4 .4 110.5 .3-105.2 .5 105 .3-90.4 .4 115.2 .4-124.5 .4 128.3 .3-128.9 .5 130.9 .3-158.2 .4 151.9 .4-89.6 .4 103.6 .3-126.2 .5 135.3 .3-151.5 .4 155.1 .4-148.9 .4 152.1 .4-120.2 .4 119.8 .3-101.7 .4 83.3 .4-73.9 .4 105.1 .4-129.3 .4 108.4 .3-112 .4 87 .4-97.1 .4 74.6 .4-62.6 .4 86.4 .3-105.1 .5 73.3 .3-93.8 .4 105.9 .4-64.1 .4 62.5 .3-56.1 .5 83.1 .3-77.9 .4 39.7 .4-57.8 .4 63.5 .3-31.3 .5 27.8 .3-40.2 .4 43 .4-23.4 .4 45.3 .4-56.5 .4 41.5 .3-17.7 .4 38.6 .4-34.4 .4 35.8 .4-26.1 .4 33.5 .3-27.5 .4 54.3 .4-69.8 .4 92.6 .4-61.4 .4 24.6 .3-44.1 .5 57.4 .3-60.2 .4 61.6 .4-57.2 .4 46.7 .3-51.1 .5 41.9 .3-64.9 .4 48.6 .4-25.7 .4 40.9 .3-38.2 .5 40.9 .3-39.2 .4 22 .4-12.9 .4 46 .4-62.6 .4 57 .3-43.5 .4 40 .4-61.8 .4 55.4 .4-44.3 .4 42.5 .3-57 .4 41.7 .4-64 .4 82.5 .4-96.5 .4 96.2 .3-54.7 .4 96.2 .4-122.9 .4 79.8 .4-73.1 .4 51.3 .3-22.2 .5 22.1 .3-36 .4 36.8 .4-20 .4 16.8 .3-10.6 .5 36.3 .3-38.4 .4 11.9 .4-10.5 .4 6.4 .3-6.7 .5 10.4 .3-21.1 .4 13.3 .4-15.5 .4 30.4 .4-34.1 .4 8.1 .3-13.6 .4 40.5 .4-79.9 .4 80 .4-45.7 .4 32.5 .3-26.1 .4 61.5 .4-50.3 .4 69.4 .4-70.5 .4 78.5 .3-68.3 .5 82.9 .3-66.9 .4 19.6 .4-18 .4 18.5 .3-23.6 .5 20.1 .3-28.7 .4 25.6 .4-10.4 .4 27.1 .3-28.7 .5 18.3 .3-15.1 .4 27.8 .4-24.8 .4 46.5 .4-36.9 .4 55.6 .3-87.8 .4 145.3 .4-106.6 .4 41.8 .4-38.5 .4 68.4 .3-76.3 .4 63.9 .4-83.4 .4 72.9 .4-88.1 .4 55.4 .3-32.3 .5 56.6 .3-58.5 .4 68.6 .4-43.5 .4 65.1 .3-58.9 .5 97.7 .3-110.9 .4 113.2 .4-135 .4 108.8 .3-85 .5 117.3 .3-94.6 .4 91.8 .4-107.3 .4 135 .4-148.7 .4 109.2 .3-112.4 .4 50 .4-15.3 .4 61.3 .4-71.8 .4 8.9 .3-15.1 .4 10.6 .4-14.6 .4 26 .4-48.7 .4 96.2 .3-121.3 .5 100.1 .3-86.3 .4 70.6 .4-76 .4 67.8 .3-59.3 .5 49.8 .3-58.5 .4 18.6 .4-22.2 .4 5 .3-40.7 .5 39.2 .3-25.3 .4 26 .4-17.7 .4 45.5 .3-42.6 .5 21.1 .3-21.2 .4 32.2 .4-45.9 .4 68.3 .4-51.9 .4 31 .3-15.5 .4 69.7 .4-64.4 .4 29.8 .4-27 .4 46.6 .3-75.3 .4 66.5 .4-37.9 .4 33.9 .4-33.4 .4 27.8 .3-44 .5 107 .3-97.2 .4 37.2 .4-41.7 .4 104.6 .3-114.3 .5 110.2 .3-74.4 .4 88.4 .4-90.6 .4 166.7 .3-163.4 .5 68.9 .3-75.7 .4 33.1 .4-41.4 .4 37.7 .4-79.3 .4 96 .3-73.6 .4 45 .4-45.4 .4 8.5 .4-22 .4 19.4 .3-34.7 .4 44.1 .4-75.4 .4 64.7 .4-26.1 .4 84.2 .3-107.1 .5 70.7 .3-44.7 .4 79.4 .4-65.5 .4 54.6 .3-93.3 .5 55 .3-14.6 .4 76.8 .4-71.9 .4 20.8 .3-14.7 .5 29.5 .3-62.5 .4 71.3 .4-39.9 .4 102.6 .4-93.7 .4 105.1 .3-101 .4 149.8 .4-162.5 .4 221.4 .4-224.9 .4 102 .3-101.8 .4 149.4 .4-157.8 .4 65.3 .4-66.8 .4 82.1 .3-81.2 .5 56.6 .3-63.2 .4 57.7 .4-87.5 .4 80.2 .3-63.4 .5 61.4 .3-62.9 .4 69.3 .4-53.4 .4 46.1 .3-34.2 .5 72.7 .3-96 .4 77.4 .4-52.1 .4 46.9 .4-37 .4 146.8 .3-127.3 .4 15.1 .4-28.1 .4 31.5 .4-42.4 .4 70.8 .3-117.1 .4 53.6 .4-27.5 .4 21.1 .4-44.5 .4 49.2 .3-44.9 .5 53.7 .3-58.2 .4 36.4 .4-43.2 .4 49.4 .3-36.4 .5 67.5 .3-84.3 .4 78.5 .4-73 .4 38.1 .3-37 .5 57.6 .3-61.8 .4 60.2 .4-101.1 .4 90.5 .3-54.5 .5 76.9 .3-78.5 .4 35.5 .4-39.8 .4 88.4 .4-125.5 .4 128.7 .3-110.1 .4 94.9 .4-71.2 .4 93.1 .4-87.5 .4 57.5 .3-49.5 .4 49.3 .4-55.9 .4 66.7 .4-52.9 .4 43.4 .3-45.7 .5 34.4 .3-47.7 .4 100.6 .4-102 .4 46.6 .3-53.8 .5 52.6 .3-91.5 .4 103.2 .4-63.8 .4 83.2 .3-59.4 .5 87.7 .3-74.3 .4 47.7 .4-35.5 .4 75.9 .4-90 .4 99.8 .3-69.6 .4 116.6 .4-97.3 .4 72.1 .4-95.6 .4 72.1 .3-91.8 .4 63.6 .4-92.4 .4 131.2 .4-101.7 .4 41.8 .3-54.4 .5 46.6 .3-52.4 .4 62.2 .4-84.4 .4 58.6 .3-68.1 .5 69.5 .3-71.5 .4 53.9 .4-75.1 .4 77.9 .3-68.9 .5 88.2 .3-70 .4 94.2 .4-77.7 .4 73.5 .4-101.7 .4 101.8 .3-92.3 .4 92.1 .4-99.9 .4 86.5 .4-81.2 .4 69.7 .3-89.7 .4 79.1 .4-90.2 .4 82.8 .4-103.8 .4 102.3 .3-57.5 .5 79.4 .3-75.7 .4 60.6 .4-70.3 .4 85.9 .3-79.6 .5 85.3 .3-59.5 .4 62.9 .4-87.3 .4 77.2 .3-73.2 .5 74.3 .3-89.5 .4 115.7 .4-87.7 .4 57.1 .4-76.5 .4 73.4 .3-75.1 .4 83 .4-78.4 .4 75.4 .4-101 .4 103.8 .3-74 .4 78.8 .4-85.7 .4 70.9 .4-63.9 .4 68.9 .3-60.1 .4 89.7 .4-112.9 .4 93.4 .4-79.6 .4 63 .3-70.7 .5 63.2 .3-96.1 .4 93.6 .4-41.8 .4 45.1 .3-64.1 .5 75.8 .3-73.4 .4 59.2 .4-70.4 .4 71.8 .3-59.3 .5 51.8 .3-55.3 .4 49.6 .4-46.8 .4 44.8 .4-91.9 .4 98.2 .3-77.8 .4 91.1 .4-93.2 .4 86.4 .4-85.6 .4 83.4 .3-78.5 .4 74.5 .4-78.2 .4 91.5 .4-92 .4 92 .3-106.2 .5 109.3 .3-82 .4 77.4 .4-71.3 .4 67.5 .3-63.4 .5 76.8 .3-95.9 .4 93.9 .4-81.6 .4 76.2 .3-90.2 .5 70.8 .3-62.8 .4 60.8 .4-130.6 .4 121.7 .4-97.5 .4 118.3 .3-127.1 .4 122.9 .4-122.8 .4 119.9 .4-119.3 .4 135.2 .3-137.5 .4 119.2 .4-114 .4 145.5 .4-140 .4 121.9 .3-131.7 .5 125.3 .3-124.8 .4 115.5 .4-144 .4 139.2 .3-115.1 .5 123.8 .3-108.1 .4 116 .4-113.6 .4 94.1 .3-125.9 .5 118.6 .3-117.8 .4 115.9 .4-116.9 .4 117.5 .4-117.9 .4 115.3 .3-93.7 .4 95.5 .4-83.8 .4 107 .4-141.1 .4 132.2 .3-106.2 .4 90.1 .4-121.4 .4 117.3 .4-120 .4 130.8 .3-79.3 .5 90 .3-151.8 .4 149.6 .4-115.1 .4 120.1 .3-120.3 .5 114.7 .3-122.9 .4 130.5 .4-137.9 .4 110.8 .3-139.4 .5 148.2 .3-87.5 .4 102.3 .4-149.9 .4 149.1 .4-147.7 .4 141.1 .3-126.3 .4 127.5 .4-139.9 .4 138.3 .4-126.1 .4 112.3 .3-120.2 .4 119 .4-113.6 .4 113.8 .4-108.2 .4 128.7 .3-169.4 .4 146.9 .4-128.6 .4 129.4 .4-120.6 .4 112.5 .3-120 .5 121.7 .3-145.5 .4 168.4 .4-145.4 .4 153.4 .3-153.8 .5 152.9 .3-157.1 .4 134 .4-112.3 .4 115.8 .3-123.9 .5 147.2 .3-159.9 .4 132.6 .4-116.4 .4 121.3 .4-114.7 .4 122.4 .3-154.6 .4 146.8 .4-139.7 .4 128.3 .4-120.4 .4 123.7 .3-117.6 .4 135.4 .4-138.1 .4 127.9 .4-137.8 .4 155.2 .3-122.5 .5 92.6 .3-96.7 .4 100.6 .4-114.9 .4 134.8 .3-159 .5 160.9 .3-120 .4 102.1 .4-116.5 .4 119.8 .3-131.4 .5 147.4 .3-149.8 .4 140.8 .4-130.9 .4 126.9 .4-133.8 .4 132.9 .3-116.2 .4 122 .4-113.6 .4 123.8 .4-113.8 .4 134.2 .3-136 .4 115.9 .4-113.8 .4 111 .4-99.3 .4 88.2 .3-101.3 .5 97.6 .3-138.1 .4 161.7 .4-141.7 .4 131 .3-111.4 .5 131.7 .3-144.7 .4 147.9 .4-165.1 .4 149.2 .3-156.9 .5 175.5 .3-134.8 .4 146.4 .4-125.8 .4 139.6 .4-139.4 .4 116.2 .3-123.7 .4 133.6 .4-137.6 .4 123.7 .4-110.6 .4 110.6 .3-100.7 .4 95.6 .4-91.3 .4 99.7 .4-101.5 .4 86.2 .3-100.5 .5 106.9 .3-50.5 .4 60.5 .4-85.1 .4 100.3 .3-97.6 .5 99.8 .3-105 .4 114.1 .4-87.9 .4 71.4 .3-115.6 .5 108.5 .3-86.4 .4 70.2 .4-78.4 .4 72.1 .4-80.9 .4 102.2 .3-134.2 .4 104.1 .4-128.5 .4 127.2 .4-110.9 .4 119.1 .3-100.4 .4 103.2 .4-88.5 .4 97.6 .4-98.8 .4 90.7 .3-70.3 .4 70 .4-85.3 .4 93.4 .4-86.9 .4 90.3 .3-92.3 .5 92.1 .3-117.2 .4 134 .4-96.4 .4 94.2 .3-94.9 .5 90.5 .3-107.4 .4 113.7 .4-115.4 .4 113.2 .3-82.4 .5 93.4 .3-92.2 .4 80.6 .4-86.1 .4 84.3 .4-101.9 .4 103.8 .3-107.6 .4 102.8 .4-102 .4 102.8 .4-101.6 .4 127 .3-109.7 .4 86.5 .4-80.5 .4 93.8 .4-117.1 M957.3 1318.2L1046.4 1263.0" stroke="#FF8C00" stroke-width="1.8" fill="none" stroke-linejoin="round" shape-rendering="crispEdges"/>
<path d="M173.8 1358.2l.3-8.4 .4 9 .4-9.2 .4 11.3 .3-14.4 .5 13 .3-9.5 .4 10.3 .4-6.9 .4 10.6 .3-7 .5 4.4 .3-11.2 .4 13.8 .4-8.9 .4 5.2 .3-9.2 .5 14.6 .3-11.6 .4 7.8 .4-11.3 .4 14.3 .4-11.1 .4 14.1 .3-12.3 .4 8.4 .4-9.2 .4 11.5 .4-10.8 .4 11.3 .3-13.1 .4 7.4 .4-11 .4 11.8 .4-8.6 .4 12.4 .3-10.4 .5 6.9 .3-7.5 .4 16.7 .4-12.4 .4 2.2 .3-11.7 .5 19.1 .3-14.3 .4 8.4 .4-8.4 .4 7.2 .3-9.8 .5 12.1 .3-8.5 .4 9.7 .4-8.3 .4 4.5 .4-10.2 .4 13 .3-11.7 .4 10.1 .4-8.2 .4 12.6 .4-10.2 .4 9.4 .3-12.7 .4 10.6 .4-10.4 .4 6.8 .4-10.8 .4 11.4 .3-7 .5 7.7 .3-10.5 .4 11.8 .4-10.1 .4 8.6 .3-8.4 .5 11.3 .3-9.4 .4 10.5 .4-11.8 .4 6 .3-8.6 .5 10.7 .3-7 .4 11.4 .4-10.7 .4 10.1 .4-7.4 .4 12.1 .3-12.1 .4 14.1 .4-8.7 .4 8.9 .4-9.8 .4 11.8 .3-7.1 .4 7.4 .4-5.6 .4 11.2 .4-9.2 .4 4.9 .3-5.9 .5 10.7 .3-11.4 .4 7.4 .4-8 .4 9.3 .3-9.4 .5 4.5 .3-7.4 .4 9.8 .4-10.5 .4 10.2 .3-6.3 .5 6.9 .3-7.3 .4 7.6 .4-6.6 .4 12 .4-12.8 .4 10.6 .3-9 .4 14 .4-9.7 .4 8 .4-9.8 .4 12.5 .3-9.4 .4 12.6 .4-11.5 .4 6.5 .4-7.8 .4 11.9 .3-7.7 .4 7.1 .4-7.6 .4 6.8 .4-8.4 .4 10.1 .3-4.8 .5 4.8 .3-4.3 .4 2.3 .4-5.3 .4 5.6 .3-5.6 .5 4.3 .3-7.1 .4 11.7 .4-6.1 .4 3.2 .3-7.9 .5 8.2 .3-9.9 .4 6.6 .4-8 .4 5.9 .4-6.3 .4 4.8 .3-10 .4 14.2 .4-6.4 .4 11.1 .4-10.4 .4 7.2 .3-9 .4 12.7 .4-6.8 .4 7.6 .4-8.6 .4 8.7 .3-9 .5 8.7 .3-7.9 .4 11.4 .4-8.5 .4 9.3 .3-6.3 .5 10.2 .3-8.1 .4 6.9 .4-5 .4 8.3 .3-5.1 .5 5 .3-3.6 .4 5.1 .4-3 .4 5.5 .4-3.1 .4 3.8 .3-1.5 .4 2.5 .4-2.3 .4 2.8 .4-1.4 .4 4.6 .3-3.7 .4-1.4 .4-2.1 .4 .2 .4-4.4 .4 1.2 .3-4.7 .5 5.6 .3-6 .4 6.2 .4-4.9 .4 3.5 .3-4.2 .5 3.8 .3-4.8 .4 6.5 .4-4.4 .4 4 .3-4.3 .5 1.1 .3-2.9 .4 2.4 .4-3.5 .4 2.7 .4-2.4 .4 1.4 .3-3.9 .4 4.5 .4-4.1 .4 2.1 .4-3.6 .4 5 .3-3.4 .4 1.3 .4-2.9 .4 1.2 .4-2.6 .4 3.3 .3-3.1 .5 4.3 .3-4 .4 2.4 .4-3.2 .4 3.8 .3-4 .5 6.5 .3-3.4 .4 2.2 .4-3.1 .4 4.7 .3-4.8 .5 8.7 .3-5 .4 5.8 .4-5.4 .4 6.4 .4-3.5 .4 4.2 .3-4.4 .4 8.6 .4-5.3 .4 6 .4-3.7 .4 4.2 .3-3.6 .4 4.8 .4-2.7 .4 2.1 .4-2.3 .4 5 .3-4.1 .4 4.8 .4-3.7 .4 3.1 .4-2.7 .4 .7 .3-3.2 .5-.7 .3-1.6 .4-.9 .4-2.1 .4 4.9 .3-2.2 .5 7.2 .3-3.9 .4 6.3 .4-3.6 .4 4.6 .3-1.6 .5 1.5 .3-1.5 .4 2.4 .4-3.1 .4 2.4 .4-1.7 .4 1.7 .3-2.6 .4 3.1 .4-1.9 .4 1.7 .4-1.7 .4 1.8 .3-2.1 .4 1 .4-1.8 .4 3.2 .4-2.5 .4 1.9 .3-3.4 .5 2.1 .3-3.1 .4 1.8 .4-3.2 .4 4.4 .3-3.3 .5 2.2 .3-2.2 .4 3.1 .4-2 .4 .1 .3-2.5 .5-.3 .3-2.1 .4-.5 .4-3.2 .4 2.2 .4-3.7 .4 5.7 .3-4.6 .4 4.6 .4-3.2 .4 3.2 .4-4 .4 3.3 .3-3.3 .4 2.5 .4-4.2 .4 4.4 .4-5.8 .4 4.8 .3-2.7 .5 3.1 .3-3.3 .4 2.8 .4-2.7 .4 3.1 .3-4 .5 5.1 .3-4.7 .4 3.8 .4-4.8 .4 3.5 .3-2.9 .5 5.7 .3-4.6 .4 4.8 .4-4.1 .4 3.2 .4-3.5 .4 3.5 .3-2.5 .4 2.7 .4-4.3 .4 5.2 .4-3.7 .4 3 .3-3.1 .4 3.9 .4-2.3 .4 4.6 .4-2.4 .4 1.8 .3-2 .5 1.3 .3-1.2 .4 2 .4-1.5 .4 4.6 .3-2.1 .5 3.2 .3-2 .4 2 .4-2.1 .4 2.8 .3-2.5 .5 2.6 .3-2.3 .4-3.5 .4-2.2 .4 .6 .3-2 .5 2 .3-1.9 .4 3 .4-1.7 .4 2.3 .4-1.6 .4 1.3 .3-1.7 .4-1.3 .4-1.6 .4 1.8 .4-1.5 .4 3.6 .3-2.3 .4 3 .4-1.4 .4 5.7 .4-3.7 .4 3.9 .3-3 .5 5.8 .3-3.4 .4 2.8 .4-2.4 .4 1.9 .3-2.8 .5 .9 .3-2.6 .4 3.4 .4-3.6 .4 .1 .3-3 .5 4 .3-3.4 .4 2.6 .4-2.4 .4 2.6 .4-2.9 .4 2.3 .3-2.9 .4 2.2 .4-2.7 .4 1.6 .4-2.6 .4 2.5 .3-3.2 .4 4.9 .4-3 .4 2.8 .4-2.7 .4 1.9 .3-2.4 .5 1.5 .3-2.4 .4 3.5 .4-4.1 .4 1.5 .3-2.6 .5 1.7 .3-4.2 .4 5.4 .4-2.9 .4 3.9 .3-6.2 .5 5 .3-5.7 .4 7.1 .4-5.6 .4 2.8 .4-4.9 .4 5 .3-3.9 .4 3.4 .4-3.3 .4 3.7 .4-4.3 .4 4.1 .3-6.2 .4 7.6 .4-5.2 .4 1.5 .4-3.7 .4 5.1 .3-4.5 .5 3.9 .3-3.9 .4 3 .4-5.4 .4 7.1 .3-5 .5 4.7 .3-4.3 .4 .4 .4-3.7 .4 3 .3-3 .5 9 .3-5.6 .4 8.8 .4-10.2 .4 5.3 .4-3.9 .4 6.5 .3-7.9 .4 9.2 .4-8.9 .4 5.2 .4-5.6 .4 .3 .3-5 .4 4.6 .4-5.3 .4 4.3 .4-4.7 .4 6 .3-6.2 .5 3.1 .3-4.2 .4 8.9 .4-5.7 .4 3 .3-4.9 .5 4.6 .3-4.9 .4 7.3 .4-5.7 .4 5.2 .3-5.6 .5 4.8 .3-5.2 .4 6.4 .4-6.2 .4 2.4 .3-5.5 .5 10.6 .3-5.9 .4 4.8 .4-6.4 .4 5.2 .4-5.5 .4 6.8 .3-4.2 .4 1.9 .4-4.5 .4 3.9 .4-5.4 .4 7.3 .3-5.7 .4 3 .4-6.1 .4 6.6 .4-5.5 .4 5.3 .3-3.8 .5 5.1 .3-6.4 .4 3.5 .4-3.4 .4 4.2 .3-3.4 .5 4.1 .3-4.7 .4 3.5 .4-4.2 .4 3.4 .3-5.5 .5 6.4 .3-5.5 .4 5.3 .4-5.8 .4 3.7 .4-5.2 .4 6.1 .3-4.5 .4 2.9 .4-5.8 .4 4.9 .4-6.4 .4 6.1 .3-8 .4 11.1 .4-7.5 .4 4.7 .4-7 .4 6.9 .3-7.2 .5 5.7 .3-9.8 .4 4.6 .4-5.7 .4 10.8 .3-7.7 .5 7.3 .3-7.3 .4 10.1 .4-9.5 .4 5.4 .3-10.2 .5 12.8 .3-7.8 .4 10.5 .4-12.5 .4 4.9 .4-11.5 .4 13.5 .3-13.8 .4 12.6 .4-11.6 .4 9.9 .4-7.9 .4 5.7 .3-9.1 .4 10 .4-8.1 .4 7.8 .4-7.5 .4 7.4 .3-12.6 .5 10.3 .3-7.4 .4 7.7 .4-10.1 .4 11 .3-13.1 .5 9.4 .3-12.8 .4 18.2 .4-9.6 .4 5.6 .3-9.5 .5 8.7 .3-7.9 .4 5.4 .4-8.4 .4 7.5 .4-7.7 .4 4.6 .3-11.1 .4 15.9 .4-14.7 .4 15.8 .4-8 .4 6.9 .3-7.5 .4 9.4 .4-9.3 .4 6.8 .4-11.4 .4 11.1 .3-10 .4 9.5 .4-9.3 .4 7.5 .4-7.9 .4 11.4 .3-14.6 .5 14.3 .3-12.9 .4 11.5 .4-11.4 .4 10.2 .3-7.3 .5 7.2 .3-10.7 .4 17.2 .4-9.8 .4 4 .3-11.6 .5 10.8 .3-11.6 .4 8.8 .4-10 .4 8.8 .4-7.4 .4 6.2 .3-7.3 .4 11.3 .4-10.6 .4 7.8 .4-8.6 .4 5.8 .3-10.5 .4 12.2 .4-10.2 .4 5.4 .4-9 .4 15.5 .3-7.1 .5 4.5 .3-12.5 .4 10.9 .4-12.1 .4 10.7 .3-8.8 .5 6.9 .3-13 .4 17.6 .4-14.4 .4 9.4 .3-10.3 .5 8.9 .3-10.6 .4 12.8 .4-8 .4 6.7 .4-12.8 .4 11 .3-7.2 .4 9.2 .4-11.2 .4 12.6 .4-12.7 .4 15.8 .3-8.5 .4 8.7 .4-11.5 .4 13.1 .4-11.6 .4 5.4 .3-9.2 .5 13.9 .3-11.7 .4 7.3 .4-8.6 .4 11.8 .3-10.9 .5 6.6 .3-8.9 .4 15.1 .4-9 .4 6 .3-9.6 .5 11.4 .3-6.6 .4 6 .4-8.7 .4 11.1 .4-14.4 .4 7.3 .3-7.7 .4 7.6 .4-8.1 .4 7.9 .4-7.9 .4 8.2 .3-10.7 .4 12 .4-8.3 .4 8.2 .4-11.1 .4 11.2 .3-11.1 .5 13.4 .3-8 .4 7.4 .4-11.8 .4 10.3 .3-13 .5 13.7 .3-8.2 .4 4.9 .4-10.6 .4 16.9 .3-12.7 .5 9.3 .3-6.9 .4 10.5 .4-6.6 .4 5.9 .4-9.7 .4 11.1 .3-9.9 .4 5.6 .4-9.6 .4 14.3 .4-11.6 .4 10.1 .3-10.1 .4 9.7 .4-6.8 .4 8.5 .4-7.9 .4 8.9 .3-11.4 .4 9.4 .4-11 .4 11.4 .4-7.9 .4 8.5 .3-12 .5 8 .3-8.6 .4 7.2 .4-8 .4 17.1 .3-8 .5 6.9 .3-10.9 .4 6.9 .4-9.2 .4 12 .3-9.7 .5 12.6 .3-12 .4 9.6 .4-10.4 .4 12.4 .4-10.1 .4 7.5 .3-11 .4 12.9 .4-7.5 .4 12.7 .4-9 .4 .6 .3-6.6 .4 10.9 .4-10.3 .4 11.7 .4-10.4 .4 9.3 .3-9.1 .5 9.7 .3-10.9 .4 15.5 .4-11.7 .4 11.1 .3-11.1 .5 9.1 .3-9.2 .4 7.7 .4-9.5 .4 13.8 .3-7.8 .5 12.1 .3-12.1 .4 7.5 .4-9.2 .4 10.3 .4-8.3 .4 6.8 .3-9.5 .4 6.6 .4-8.6 .4 10.7 .4-8.6 .4 10 .3-5.5 .4 10.2 .4-9.7 .4 6.5 .4-9.7 .4 18.5 .3-10.8 .5 9.6 .3-10.3 .4 12.3 .4-10.9 .4 8.1 .3-8.5 .5 14.8 .3-12.3 .4 11.2 .4-8.7 .4 9.6 .3-5.7 .5-.7 .3-8.7 .4 13.3 .4-5.8 .4 3.2 .4-7.1 .4 6.5 .3-5.2 .4 10.1 .4-6 .4 5.3 .4-7.5 .4 6.9 .3-5.8 .4 4.7 .4-5.1 .4 10.3 .4-7.2 .4 9.9 .3-8.3 .5 7.6 .3-8.5 .4 6.1 .4-7.5 .4 10.2 .3-6.7 .5 6.6 .3-4.5 .4 5.2 .4-6.2 .4 6.7 .3-7.4 .5 8 .3-7.5 .4 7.5 .4-5.9 .4 3.9 .4-4.3 .4 3.9 .3-5.2 .4 4.1 .4-5.4 .4 5.2 .4-6.2 .4 6.9 .3-9.5 .4 8.6 .4-6.8 .4 4.6 .4-5 .4 8.6 .3-7.9 .4 4.3 .4-8.8 .4 9.5 .4-6.2 .4 11.1 .3-8.7 .5-1.1 .3-7.6 .4 10.4 .4-8.9 .4 11.5 .3-7.5 .5 9.2 .3-6.1 .4 9.4 .4-4.7 .4 11.1 .3-7.6 .5 9.3 .3-6 .4 4.3 .4-4.4 .4 3.3 .4-5.7 .4 4.2 .3-4.2 .4 3.7 .4-3.9 .4 3.3 .4-4.7 .4 4.8 .3-2.6 .4 12.7 .4-2.3 .4 2.4 .4-1.7 .4 3.1 .3-2 .5 1.9 .3-2.5 .4 2.7 .4-2.9 .4 3.4 .3-2.1 .5 2.7 .3-1.7 .4 1.3 .4-3.2 .4 2.8 .3-3.4 .5-.4 .3-2.6 .4 .2 .4-1.5 .4 .2 .4-1.7 .4 0 .3-2.2 .4 1.5 .4-3.4 .4 5.1 .4-5.6 .4 3.2 .3-3.3 .4 3.5 .4-3.4 .4 5.1 .4-4.4 .4 8.5 .3-5.4 .5 7.8 .3-1.1 .4 3.4 .4-1.8 .4 3.6 .3-1.7 .5 1.2 .3-4 .4 3.1 .4-2.7 .4 4.1 .3-1.2 .5 1.5 .3-2.2 .4 1.1 .4-2.2 .4 2.5 .4-2.7 .4 1.8 .3-3.2 .4 2.9 .4-3.7 .4 2.1 .4-3.1 .4 2.5 .3-1.9 .4 2.5 .4-2.8 .4 2.1 .4-2.4 .4 1.7 .3-1.8 .5 2.4 .3-2.1 .4 1.4 .4-1.8 .4 2 .3-2.1 .5 3 .3-2.5 .4 1.7 .4-2.5 .4 1.8 .3-1.9 .5 3.1 .3-3.1 .4 1.6 .4-2.7 .4 5.4 .3-2.9 .5 4.1 .3-3 .4 3.3 .4-2.6 .4 3.4 .4-2.6 .4 3.6 .3-3.2 .4 2 .4-2.6 .4 2.1 .4-1.9 .4 1.7 .3-2.8 .4 1.4 .4-2.8 .4 3.2 .4-2.2 .4 3.1 .3-1.7 .5 .8 .3-2.2 .4 .3 .4-1.4 .4 .8 .3-1.3 .5 2.1 .3-2.3 .4 1.3 .4-1.6 .4 4.6 .3-2.8 .5 4.9 .3-1.6 .4 .7 .4-2.4 .4 2.2 .4-3.5 .4 3.4 .3-2.8 .4 3.1 .4-2 .4 3.4 .4-2.9 .4 .7 .3-2.5 .4 3.1 .4-3.9 .4 3.6 .4-3.1 .4 3.7 .3-3.5 .5 2.8 .3-2.8 .4 2.5 .4-2.5 .4 2.6 .3-2.3 .5-.4 .3-1.4 .4 .4 .4-2.7 .4 2.1 .3-1.9 .5 1.7 .3-1.9 .4 .9 .4-1.6 .4 2 .4-1.8 .4 6.7 .3-1.4 .4 2.5 .4-1.4 .4 2.2 .4-2.1 .4 .5 .3-3.1 .4 4.4 .4-1.1 .4 .9 .4-.6 .4 .4 .3-.3 .5 .6 .3-.5 .4 .6 .4-.8 .4 .6 .3-.5 .5 .6 .3-.7 .4 .9 .4-1.2 .4 .7 .3-1.9 .5 1.2 .3-2.2 .4 3.1 .4-1.6 .4 1.8 .4-1.2 .4 1.2 .3-.8 .4 .5 .4-.6 .4 .6 .4-.6 .4 .8 .3-.8 .4 .7 .4-.7 .4 .7 .4-.5 .4 .6 .3-.7 .5 .9 .3-.6 .4 .2 .4-.4 .4 .4 .3-.4 .5 .4 .3-.6 .4 .7 .4-.6 .4 .4 .3-.4 .5 .5 .3-.6 .4 .6 .4-.6 .4 .8 .3-.5 .5 .5 .3-.6 .4 .7 .4-.8 .4 .4 .4-.6 .4 1 .3-.7 .4 .2 .4-.8 .4 1 .4-.9 .4 .6 .3-1.5 .4 1.3 .4-1.2 .4 1.7 .4-2.3 .4 2.2 .3-2.3 .5 1.3 .3-2.4 .4 1.7 .4-3.7 .4 3.1 .3-3.3 .5 2.5 .3-3.9 .4 1.9 .4-2.3 .4 1.9 .3-3.3 .5 2.2 .3-2.9 .4 1 .4-3.7 .4 3.8 .4-3.5 .4 2.9 .3-4.3 .4 4.5 .4-3.5 .4 1.4 .4-3.4 .4 4.3 .3-4 .4 3.5 .4-4.7 .4 3.3 .4-3.8 .4 2.8 .3-4.2 .5 4.1 .3-6.2 .4 7.2 .4-5.8 .4 4.1 .3-4.8 .5 6.2 .3-7.7 .4 4.2 .4-5 .4 4.6 .3-5.9 .5 5.2 .3-7.2 .4 7.6 .4-4.2 .4 6.7 .4-7.3 .4 4 .3-3.9 .4 4.9 .4-4.7 .4 3.8 .4-5.2 .4 4.5 .3-4.7 .4 6 .4-5.8 .4 2.7 .4-5.6 .4 8 .3-5.9 .5 4.9 .3-7.7 .4 6.9 .4-4.1 .4 4.1 .3-4.9 .5 2.4 .3-5.1 .4 8.3 .4-5.1 .4 4.4 .3-5.6 .5 4.6 .3-5.6 .4 5.6 .4-6.6 .4 8.9 .4-9.6 .4 7.6 .3-5.6 .4 4.5 .4-5.1 .4 9.7 .4-7.8 .4 6.2 .3-10.6 .4 10.8 .4-7.7 .4 5.1 .4-8.7 .4 9.8 .3-9.4 .4 9.5 .4-10.3 .4 9.2 .4-7.1 .4 3.9 .3-8.3 .5 8.2 .3-6 .4 10.4 .4-9.4 .4 7.2 .3-9.7 .5 8.1 .3-8.9 .4 10.7 .4-7.7 .4 4.8 .3-5.9 .5 7.4 .3-10 .4 8.7 .4-8.3 .4 6.8 .4-7.2 .4 7.3 .3-10.6 .4 6.5 .4-7.7 .4 8.7 .4-6.3 .4 10 .3-6.2 .4 3.7 .4-6.6 .4 12.6 .4-8.7 .4 4.8 .3-7.1 .5 8.5 .3-9.5 .4 4.1 .4-8 .4 11.4 .3-8.4 .5 7.2 .3-8.5 .4 4.5 .4-9.7 .4 10.1 .3-9.7 .5 4.7 .3-6.3 .4 12.1 .4-8.6 .4 6.5 .4-8.3 .4 8.9 .3-11 .4 8.7 .4-8.2 .4 2.7 .4-9.1 .4 11.8 .3-8.3 .4 8 .4-15.1 .4 17.6 .4-11.1 .4 9.4 .3-9.7 .5 8.6 .3-8 .4 13.2 .4-8.3 .4 6.2 .3-7.1 .5 4.7 .3-12.1 .4 10.3 .4-7.9 .4 9.3 .3-11 .5 5.9 .3-7.6 .4 5.6 .4-7.4 .4 8.9 .4-10.8 .4 15.8 .3-10.8 .4 8.4 .4-8.2 .4 11.6 .4-11.8 .4 11.9 .3-10.2 .4 11.2 .4-8.8 .4 4.3 .4-8.8 .4 8.6 .3-5.8 .5 6.4 .3-6.8 .4 9.9 .4-7.9 .4 5.6 .3-8.5 .5 8.8 .3-5 .4 4.9 .4-8 .4 4.3 .3-4.6 .5 6.1 .3-7.2 .4 8.8 .4-5.5 .4 4.4 .4-7 .4 8.1 .3-7.8 .4 3.8 .4-7.5 .4 9.4 .4-7.5 .4 2.5 .3-8 .4 11.6 .4-7.1 .4 6.1 .4-7.5 .4 8.9 .3-10 .4 9.5 .4-8.9 .4 7.9 .4-6.5 .4 3.9 .3-5.7 .5 3.4 .3-7.6 .4 9.1 .4-9 .4 10.7 .3-7.8 .5 6.9 .3-7.7 .4 6.4 .4-5.1 .4 6.3 .3-8.3 .5 9.5 .3-8.9 .4 6.9 .4-6.8 .4 9.2 .4-8.2 .4 8.4 .3-11.5 .4 12.2 .4-9.9 .4 12.8 .4-7.6 .4 5 .3-10.1 .4 7.8 .4-7.2 .4 6.2 .4-8.4 .4 8.8 .3-9.3 .5 8.3 .3-8.4 .4 12.3 .4-10.9 .4 4.1 .3-6.9 .5 9.3 .3-7.4 .4 7.7 .4-6.5 .4 6.4 .3-6.1 .5 6.3 .3-7.1 .4 6.5 .4-8.3 .4 6.7 .4-8.9 .4 7.4 .3-7.7 .4 4.6 .4-5.6 .4 7.6 .4-6.8 .4 6 .3-5.9 .4 9.8 .4-8 .4 6.7 .4-6.4 .4 7.8 .3-5.9 .5 5.4 .3-5 .4 7.4 .4-8 .4 5.1 .3-5.6 .5 7.2 .3-8.9 .4 7 .4-4.2 .4 6.6 .3-7.5 .5 3.9 .3-4.9 .4 3.8 .4-4 .4 11.7 .4-9.5 .4 7.6 .3-7 .4 8.1 .4-7.7 .4 4.9 .4-8.7 .4 11.4 .3-6.3 .4 5.1 .4-9.3 .4 8.9 .4-6.8 .4 8.1 .3-8.5 .5 7.4 .3-11.4 .4 12.9 .4-10.2 .4 8 .3-11 .5 10.1 .3-8.3 .4 7.9 .4-7 .4 9.8 .3-6.8 .5 5 .3-7.8 .4 8.8 .4-8.9 .4 7.4 .4-7.7 .4 9.5 .3-10.3 .4 10.6 .4-8.9 .4 7.8 .4-9.9 .4 11.8 .3-7.6 .4 6.9 .4-10.8 .4 8.3 .4-6.6 .4 7.9 .3-7.5 .4 10.1 .4-7.2 .4 5.5 .4-7.9 .4 6.1 .3-9.7 .5 13 .3-8.1 .4 6.1 .4-6.6 .4 13.1 .3-8.8 .5 3 .3-5.6 .4 11.8 .4-8.3 .4 5.6 .3-5.1 .5 6.3 .3-8.5 .4 5.8 .4-6.4 .4 6 .4-5.7 .4 13 .3-9.3 .4 12.1 .4-6.7 .4 10.2 .4-5.5 .4 15.5 .3-8 .4 7 .4-8 .4 8.6 .4-6.7 .4 10.2 .3-12 .5 6.5 .3-8.9 .4 9 .4-9.6 .4 11 .3-8.5 .5 7.7 .3-9.9 .4 9 .4-8.4 .4 5.4 .3-8.2 .5 8.4 .3-8.9 .4 8.6 .4-7.1 .4 18.1 .4-8.2 .4 10.2 .3-7.8 .4 13 .4-5.3 .4 2.6 .4-5.4 .4 3 .3-4.9 .4 3.4 .4-8.5 .4 8.6 .4-8.1 .4 .8 .3-7.6 .5 11.1 .3-10.9 .4 4.2 .4-10.7 .4 13.3 .3-5.7 .5 6.9 .3-6.4 .4 1.8 .4-5.4 .4 7.9 .3-6.1 .5 7.7 .3-5.7 .4 4.4 .4-11 .4 10.5 .4-11.1 .4 18 .3-6.6 .4 11.9 .4-4.6 .4 11 .4-2 .4 3.4 .3-1.2 .4 .1 .4-1.8 .4 1.1 .4-3.1 .4 7.1 .3-13.4 .5 17.2 .3-16.2 .4 15.2 .4-13.2 .4 6.2 .3-13.7 .5 15 .3-19.3 .4 18.4 .4-13.6 .4 7.9 .3-8.5 .5 5.2 .3-9.3 .4 12 .4-7.9 .4 7.7 .3-7.3 .5 8.7 .3-7.3 .4 7.4 .4-6.8 .4 10 .4-9.3 .4 4.9 .3-6 .4 5.8 .4-6 .4 2.6 .4-5.6 .4 6.1 .3-6.3 .4 7.6 .4-6.2 .4 5 .4-4.8 .4 6.6 .3-4.3 .5 6.7 .3-6.7 .4 10.6 .4-6.4 .4 4.9 .3-2.2 .5 .3 .3-1.4 .4 2.9 .4-1.5 .4 6.1 .3-1.8 .5 5.2 .3-3.2 .4 5 .4-2.5 .4 3.1 .4-2.4 .4 2.3 .3-3 .4 0 .4-2.8 .4-.9 .4-2.6 .4 .1 .3-2.4 .4 .8 .4-1.5 .4 2.7 .4-2.3 .4 5.8 .3-2.5 .5 2.2 .3-2.4 .4 .9 .4-3.1 .4 .6 .3-3.3 .5 4.2 .3-3.7 .4 2.8 .4-2.8 .4 1.4 .3-2.9 .5 2.9 .3-2.9 .4 4 .4-2.9 .4 2.4 .4-1.8 .4 1.8 .3-1.9 .4 2.7 .4-2.7 .4 1.9 .4-2.7 .4 .2 .3-3.5 .4 4.8 .4-4 .4 5.4 .4-4.3 .4 1.8 .3-5.2 .5 10.5 .3-2.7 .4 4.1 .4-1.5 .4 4.2 .3-1.5 .5 2.4 .3-1.8 .4 1.8 .4-2.4 .4 1.3 .3-1.9 .5-.3 .3-3.1 .4 .7 .4-2.6 .4 1.7 .4-2 .4 1.3 .3-1.8 .4 5.1 .4-1.8 .4 4.2 .4-1.3 .4 1.7 .3-1.2 .4 1.6 .4-1.2 .4 2.3 .4-1.8 .4 2.6 .3-1.8 .5-1.3 .3-2.1 .4 2.2 .4-2.8 .4 4.7 .3-2.5 .5 3.6 .3-3.3 .4 3.2 .4-3.2 .4 4.9 .3-2.5 .5 1.6 .3-1.5 .4 2.8 .4-4 .4 2.7 .3-2.9 .5 3.2 .3-4.1 .4 2.4 .4-2.1 .4 2.2 .4-2.6 .4 2.2 .3-2.1 .4 1.3 .4-2.3 .4 1.5 .4-2 .4 .4 .3-3.2 .4 .8 .4-2.6 .4 2.6 .4-5.3 .4 3.1 .3-3.4 .5 4.2 .3-3.5 .4 4.9 .4-4.2 .4 4.2 .3-5.2 .5 6 .3-5.5 .4 6.3 .4-4.1 .4 3.3 .3-4.9 .5 .8 .3-4.6 .4 3.8 .4-4.4 .4 3.9 .4-2.7 .4 2.4 .3-3.6 .4 6.7 .4-2.7 .4 4 .4-1.9 .4 4.1 .3-1.8 .4 2.7 .4-2.8 .4 3 .4-1.9 .4 1.7 .3-2.1 .5-1.2 .3-2.2 .4 .6 .4-2 .4 3 .3-1.7 .5 1.1 .3-1.5 .4 1.8 .4-2.2 .4 2.5 .3-1.5 .5 3.1 .3-1.9 .4 4.9 .4-1.8 .4 4.7 .4-2 .4 .6 .3-1.6 .4-.6 .4-1.5 .4 .3 .4-1.9 .4 2.5 .3-3.8 .4 4 .4-4.1 .4 2.2 .4-5.2 .4 2.4 .3-4.3 .5 5 .3-4 .4 5.6 .4-5.3 .4 4.5 .3-4.3 .5 4.2 .3-4.8 .4 5.4 .4-4.5 .4 1.9 .3-3.7 .5 3.4 .3-3.4 .4 4.1 .4-3 .4 4.5 .4-2.5 .4 .9 .3-1.4 .4 2.7 .4-2.1 .4 1.9 .4-1.2 .4 2.3 .3-1.4 .4 3.7 .4-1.6 .4 3.3 .4-1.8 .4 4.4 .3-3.7 .4 5.2 .4-3.9 .4 3.9 .4-2.6 .4 2.5 .3-2.5 .5 2.3 .3-2.6 .4 .2 .4-2.3 .4 .3 .3-2.3 .5 2 .3-2 .4 3.3 .4-1.9 .4-.1 .3-1.6 .5 .1 .3-1.9 .4 1.7 .4-1.8 .4 2.2 .4-2.9 .4 3.3 .3-6 .4 4 .4-4.1 .4 6.9 .4-4 .4 3 .3-3 .4 1.1 .4-2.7 .4 4.9 .4-2.7 .4 2.3 .3-1.9 .5-2.5 .3-2.2 .4 .1 .4-1.8 .4 1 .3-4.1 .5 6.4 .3-8.4 .4 6.4 .4-5.2 .4 4.9 .3-8.5 .5 9.1 .3-8.5 .4 8 .4-7.7 .4 3.9 .4-5.3 .4 9 .3-6.6 .4 3.1 .4-5.8 .4 8.4 .4-5.2 .4 6.2 .3-7.2 .4 5.4 .4-7.9 .4 7.6 .4-8.5 .4 7.4 .3-6.2 .5 6.4 .3-6.4 .4 6.6 .4-5 .4 3.6 .3-4.8 .5 7 .3-8.2 .4 9 .4-9.2 .4 8.1 .3-4.6 .5 4.1 .3-8.3 .4 7.4 .4-4.7 .4 2.9 .4-5.7 .4 6.4 .3-4.6 .4 4.7 .4-6.2 .4 6 .4-4.4 .4 5 .3-5.9 .4 1.8 .4-6.9 .4 6.9 .4-5.8 .4 5.6 .3-7.8 .5 6.8 .3-6.8 .4 4.7 .4-7 .4 9.6 .3-6.7 .5 8.8 .3-7.8 .4 11.6 .4-7.2 .4 4.8 .3-6.7 .5 6.6 .3-7.8 .4 4.2 .4-8.1 .4 9.9 .4-7.4 .4 9.3 .3-7.8 .4 5.4 .4-5.8 .4 3.3 .4-5.2 M1046.6 1370.5l.3-7.2 .4 6.8 .4-5.7 .4 6.6 .3-6.3 .5 6.3 .3-8.5 .4 4.6 .4-7.8 .4 5.8 .3-5.7 .5 8.5 .3-7.3 .4 7.9 .4-9.4 .4 12.2 .3-6.8 .5 7.4 .3-12.2 .4 10.6 .4-6.4 .4 6.6 .4-7.3 .4 11.3 .3-6.4 .4 5.6 .4-9.6 .4 7.4 .4-8 .4 7.7 .3-6.9 .4 7.5 .4-7.9 .4 11.2 .4-8.9 .4 9.8 .3-5.6 .5 7.9 .3-8 .4 7.1 .4-9.3 .4 9.1 .3-8.5 .5 8.9 .3-11 .4 6.6 .4-8.4 .4 7.8 .3-8.3 .5 12.8 .3-7.7 .4 2.8 .4-6.8 .4 10.1 .4-8.9 .4 10.8 .3-9.5 .4 5.4 .4-9.4 .4 10.7 .4-7.2 .4 13.8 .3-9.1 .4 10.6 .4-7.6 .4 9 .4-6.1 .4 11.7 .3-10 .5 15.7 .3-8.5 .4 7.2 .4-9.9 .4 11.3 .3-6 .5 7.2 .3-7.8 .4 9.7 .4-7.5 .4 10.1 .3-7.6 .5 6.5 .3-6.4 .4 11.1 .4-6.2 .4 3.3 .4-3.1 .4 6.7 .3-2 .4 5.1 .4-1.5 .4 3.4 .4-2 .4-.5 .3-1.6 .4 .7 .4-1.4 .4-.5 .4-3.8 .4 1.2 .3-5 .5 5.2 .3-7.7 .4 2.3 .4-9.3 .4 5.9 .3-5.7 .5 5.3 .3-10 .4 9.4 .4-12.8 .4 9.3 .3-8.2 .5 14.7 .3-10.1 .4 12.4 .4-11.6 .4 14.6 .4-7.9 .4 7.6 .3-5.1 .4 9.6 .4-5.3 .4 6.8 .4-5 .4 6.6 .3-2.6 .4 2.1 .4-2.5 .4 4.8 .4-3.3 .4 3.3 .3-1.9 .4 1.1 .4-2.3 .4-3.9 .4-2.3 .4-.6 .3-6.5 .5 6.4 .3-8 .4 3.9 .4-8.2 .4 13.3 .3-8.3 .5 5.9 .3-7.1 .4 5.8 .4-5.3 .4 5.4 .3-4.8 .5 5.8 .3-5 .4 7.5 .4-7.8 .4 9.2 .4-7.3 .4 5.6 .3-7 .4 11.1 .4-6 .4 7.9 .4-4 .4 5.6 .3-2.3 .4 3.4 .4-2.5 .4 1.4 .4-1.4 .4 .7 .3-3 .5 3.4 .3-1.9 .4 4.1 .4-3.3 .4 1.6 .3-2.2 .5 .1 .3-1.8 .4 2.2 .4-2.5 .4-1.3 .3-1.2 .5 0 .3-2.2 .4 1.1 .4-2.5 .4 3.1 .4-2.2 .4 2.4 .3-2.7 .4 2.2 .4-2.6 .4 3.3 .4-2.5 .4 1.9 .3-3.1 .4 5.1 .4-4.6 .4 4 .4-4.9 .4 3.9 .3-3.8 .5 5 .3-2.9 .4 2.8 .4-4.2 .4 6.9 .3-1.7 .5 1.7 .3-1.6 .4 2.2 .4-2.8 .4 8 .3-3.2 .5 1.9 .3-2.3 .4 .7 .4-3.2 .4 4.4 .4-3.5 .4 2.3 .3-2.1 .4 1.8 .4-2.7 .4 2.2 .4-2.7 .4 2.2 .3-2.2 .4 .2 .4-3.1 .4-.6 .4-3.2 .4 3.5 .3-2.3 .5 3.8 .3-4.5 .4 2.5 .4-4 .4 4.6 .3-3.2 .5 3.1 .3-4 .4 5.5 .4-5.9 .4 2.1 .3-5.4 .5 6.2 .3-4.7 .4 6.3 .4-4.9 .4 1.8 .4-5.8 .4 10 .3-7.3 .4 5.9 .4-7.7 .4 8.4 .4-7.7 .4 9 .3-5.2 .4 2.9 .4-5.1 .4 5.3 .4-3.5 .4 4.9 .3-2 .4 7.3 .4-2.5 .4 4.5 .4-1.8 .4 3.8 .3-2.4 .5 1.9 .3-2.3 .4 2.9 .4-2.5 .4 2.6 .3-3.4 .5 2 .3-1.9 .4 1.8 .4-1.6 .4 .4 .3-2 .5 1.6 .3-2.2 .4 .8 .4-3.2 .4 .3 .4-5.3 .4 4.4 .3-4.9 .4 2.8 .4-5.8 .4 5.2 .4-4.8 .4 10.8 .3-2 .4 5.4 .4-3.4 .4 5.7 .4-1.7 .4 1.3 .3-2 .5 2.4 .3-2.2 .4 2.2 .4-2 .4 1.6 .3-1.4 .5 1.9 .3-2.5 .4 1.8 .4-2.5 .4 3.4 .3-1.9 .5 1.5 .3-1.7 .4 1.8 .4-2.2 .4-.7 .4-2.7 .4 3.2 .3-4.4 .4 2 .4-2.7 .4 1.6 .4-2.3 .4 1.9 .3-3.1 .4 2 .4-2.4 .4 2.5 .4-2.9 .4 2.7 .3-2.2 .5 1.5 .3-2.9 .4 2.7 .4-2.1 .4 3.7 .3-2 .5 3.4 .3-2 .4 2.2 .4-2.9 .4 2 .3-3.1 .5 2.8 .3-2.9 .4 2.2 .4-2.7 .4 2.4 .4-2.9 .4 3.5 .3-3.3 .4 2.2 .4-2.8 .4 3.9 .4-3.2 .4-.3 .3-4 .4 2.2 .4-3.1 .4 4.5 .4-3.1 .4 1.3 .3-2.6 .5 6.4 .3-3.3 .4 3.2 .4-3.5 .4 4.4 .3-3.9 .5 3.2 .3-6 .4 5.8 .4-5.7 .4 4.7 .3-4.5 .5 5.7 .3-5.1 .4 1.7 .4-5.8 .4 7.2 .3-6.7 .5 4.7 .3-4.9 .4 6.4 .4-6.4 .4 4.5 .4-5.8 .4 3.1 .3-5.9 .4 6 .4-7.4 .4 7.3 .4-5.1 .4 6.3 .3-6.4 .4 3.6 .4-5.9 .4 6.8 .4-4.5 .4 8.4 .3-5.3 .5-.1 .3-4.6 .4 5.1 .4-6.5 .4 7.2 .3-5.1 .5 1.5 .3-5.3 .4 10.4 .4-9.3 .4 7.3 .3-6.1 .5 3.6 .3-9.6 .4 10.5 .4-4.6 .4 2.9 .4-7.3 .4 8.7 .3-7.6 .4 6.1 .4-8 .4 8.3 .4-7.7 .4 10.2 .3-6.2 .4 2.3 .4-5.5 .4 8.8 .4-5.7 .4 4.3 .3-6.4 .5 4.8 .3-9 .4 8.9 .4-6.3 .4 6.7 .3-11 .5 10.9 .3-6.9 .4 6.6 .4-7.9 .4 5.1 .3-6.6 .5 8.1 .3-8.5 .4 10.6 .4-5.3 .4 8.3 .4-8.6 .4 3.1 .3-5.5 .4 8.3 .4-9.5 .4 9.6 .4-9.9 .4 7.8 .3-7.2 .4 5.7 .4-9.7 .4 10.8 .4-8.9 .4 9.8 .3-9.5 .5 7.5 .3-11.2 .4 11.8 .4-12.4 .4 10.5 .3-6.4 .5 4 .3-8.6 .4 10.2 .4-9.4 .4 9.9 .3-9.7 .5 7.9 .3-8 .4 11.2 .4-8.1 .4 6.3 .4-11.3 .4 10.4 .3-8.3 .4 9 .4-10.2 .4 9.7 .4-12 .4 7.7 .3-9.5 .4 11.3 .4-10 .4 12.7 .4-11.6 .4 12.7 .3-10.1 .5 10 .3-14 .4 7.1 .4-8.1 .4 10.3 .3-6.8 .5 7.3 .3-7 .4 6.3 .4-10.5 .4 10 .3-10.6 .5 14.1 .3-12.2 .4 9.4 .4-8.1 .4 7.1 .3-12.3 .5 14.8 .3-12.7 .4 5.3 .4-11.6 .4 10.3 .4-9.4 .4 9.1 .3-13.4 .4 8.1 .4-9.3 .4 11.7 .4-16.1 .4 15.4 .3-11.2 .4 12 .4-11.5 .4 14 .4-13.6 .4 15.9 .3-12 .5 8.7 .3-11.4 .4 12.1 .4-9.8 .4 12.3 .3-13.3 .5 12.8 .3-16.5 .4 12.4 .4-10.4 .4 12.9 .3-12.9 .5 13.4 .3-17.2 .4 17.7 .4-15.1 .4 12.7 .4-16.7 .4 12.1 .3-9.9 .4 10.9 .4-12.8 .4 15.5 .4-11.8 .4 9.6 .3-11.3 .4 13.8 .4-9.7 .4 8.8 .4-8.5 .4 10.5 .3-17.1 .5 8.2 .3-12.1 .4 10 .4-9.4 .4 8.7 .3-10.6 .5 11.4 .3-12.8 .4 12.4 .4-12.2 .4 15 .3-16.7 .5 7.4 .3-13.1 .4 20.2 .4-14.5 .4 12.3 .4-11.6 .4 10.6 .3-11.8 .4 11.8 .4-9 .4 16.1 .4-12.1 .4 6.6 .3-10.6 .4 12 .4-11.9 .4 12.9 .4-12.4 .4 8.4 .3-12.1 .5 17.4 .3-10.5 .4 9.9 .4-11 .4 9.1 .3-8.6 .5 9.1 .3-11.3 .4 9.1 .4-11.8 .4 8.6 .3-9.9 .5 11.1 .3-7.1 .4 11.4 .4-10.8 .4 4.4 .4-7.5 .4 15.9 .3-13.1 .4 13 .4-11.9 .4 7.6 .4-9.4 .4 14.1 .3-11.6 .4 6.6 .4-9.4 .4 10.4 .4-11.6 .4 6.5 .3-9.6 .4 11.6 .4-10.9 .4 7.8 .4-9.7 .4 11.8 .3-15.9 .5 17.4 .3-13.7 .4 12.7 .4-10 .4 7.1 .3-8.4 .5 7.4 .3-10.2 .4 7.9 .4-11.7 .4 14.9 .3-14.4 .5 13 .3-8.8 .4 11.1 .4-7.6 .4 11.7 .4-9.7 .4 8.3 .3-14.5 .4 16.8 .4-15.9 .4 15.4 .4-13.1 .4 13.6 .3-12.3 .4 13.5 .4-16.2 .4 11 .4-9.1 .4 11.8 .3-12.7 .5 9.2 .3-9.7 .4 10.2 .4-9.7 .4 10 .3-9.5 .5 8.7 .3-7.7 .4 6.1 .4-9.3 .4 19.1 .3-10.6 .5 10.2 .3-10.5 .4 12.9 .4-8.6 .4 7.8 .4-8.9 .4 11.2 .3-12.6 .4 9.1 .4-6.7 .4 6.7 .4-10.8 .4 9.8 .3-9.3 .4 16.3 .4-13.7 .4 12.3 .4-13.3 .4 12.4 .3-8.1 .5 10.8 .3-13.1 .4 13.4 .4-8.9 .4 11.2 .3-11.1 .5 6.6 .3-10.9 .4 12.1 .4-7.1 .4 6.9 .3-7.8 .5 2 .3-7.5 .4 9.5 .4-8 .4 4.3 .4-9.3 .4 13.4 .3-8.2 .4 4.6 .4-8.2 .4 7.5 .4-11.4 .4 13.4 .3-11.8 .4 17.9 .4-13.5 .4 10 .4-9.6 .4 13.5 .3-11.4 .5 12.4 .3-9.7 .4 9.1 .4-12.2 .4 14.1 .3-13 .5 15.6 .3-13.9 .4 9 .4-9.8 .4 11.7 .3-9.5 .5 9.7 .3-11.3 .4 11.6 .4-10.3 .4 10.6 .4-8.7 .4 5 .3-9.7 .4 10.4 .4-9.3 .4 11.5 .4-10 .4 11.6 .3-10.9 .4 12.4 .4-10 .4 8.2 .4-10.6 .4 13.9 .3-12.9 .4 8.6 .4-9.8 .4 12.9 .4-10.7 .4 11.7 .3-14.3 .5 9.8 .3-8.4 .4 13.1 .4-9.9 .4 9.6 .3-9.4 .5 14.3 .3-8.1 .4 12.1 .4-11.2 .4 12.3 .3-11.4 .5 12.4 .3-9.6 .4 15.9 .4-15.8 .4 13.9 .4-13.2 .4 16.3 .3-12.6 .4 6.7 .4-7.5 .4 11.7 .4-12.1 .4 10.3 .3-11.8 .4 9.6 .4-8.9 .4 13.4 .4-13.9 .4 6.3 .3-7.8 .5 11.7 .3-10.5 .4 10.5 .4-10.7 .4 11.2 .3-9.8 .5 5.1 .3-8.2 .4 9 .4-8.2 .4 9.4 .3-6.9 .5 5.2 .3-7.4 .4 5.1 .4-6.3 .4 10.4 .4-13.1 .4 11.7 .3-8.5 .4 7.1 .4-11.3 .4 17.7 .4-9.2 .4 1.9 .3-6.5 .4 13.2 .4-10.6 .4 11.1 .4-8.8 .4 14.1 .3-11.4 .5 8.9 .3-8.8 .4 13.5 .4-13.4 .4 8.2 .3-6.4 .5 12.1 .3-12.9 .4 8.3 .4-8.1 .4 9.4 .3-9 .5 9.7 .3-12.3 .4 8.7 .4-9.6 .4 8.7 .4-12.7 .4 13.2 .3-8 .4 3.6 .4-9 .4 14.4 .4-13.4 .4 9.5 .3-6.8 .4 7.5 .4-6.5 .4 8.9 .4-6.1 .4 7 .3-4.9 .5 5.6 .3-9.2 .4 11.2 .4-8 .4 7.2 .3-7.2 .5 1 .3-6.5 .4 10.8 .4-9 .4 10.7 .3-9.8 .5 5.8 .3-8.5 .4 7.3 .4-7.6 .4 7.6 .4-9.1 .4 10.5 .3-9.6 .4 10 .4-7.5 .4 5.3 .4-9.2 .4 11.1 .3-8.1 .4 14.1 .4-7.4 .4 8.9 .4-7.6 .4 7.8 .3-5.4 .4 7.5 .4-6.5 .4 6.5 .4-7.7 .4 7.3 .3-8.2 .5 9.6 .3-7.1 .4 6.1 .4-9.5 .4 7.2 .3-6.9 .5 7.1 .3-6.1 .4 8.9 .4-7.4 .4 6.8 .3-6.9 .5 5 .3-4.5 .4 6.5 .4-4.4 .4 5.1 .4-7.9 .4 7 .3-6.3 .4 9.9 .4-4.9 .4 2.7 .4-2.7 .4 1.9 .3-2.8 .4-.2 .4-3.1 .4 4 .4-2.3 .4 4.7 .3-1.5 .5 3.2 .3-1.2 .4 6.1 .4-3.2 .4 4.9 .3-3.2 .5 3.6 .3-2.6 .4 2.6 .4-2 .4 1.2 .3-2.1 .5 1.4 .3-1.9 .4 2.2 .4-2.2 .4 3.7 .4-1.9 .4 1.8 .3-1.9 .4-.7 .4-1.8 .4-.1 .4-2 .4 2.4 .3-2.6 .4 5.4 .4-1.9 .4 1.2 .4-3 .4 1.6 .3-2.8 .5 1.3 .3-2.9 .4-.4 .4-6.2 .4 6.3 .3-6.3 .5 3.1 .3-5.9 .4 7.3 .4-5.7 .4 3.6 .3-5.3 .5 10.5 .3-7.3 .4 5.3 .4-8.4 .4 12 .4-5.3 .4 2.5 .3-5.6 .4 7 .4-3.7 .4 4.2 .4-5.4 .4-1.7 .3-2.8 .4 3.7 .4-2.2 .4 2.9 .4-2.1 .4 3.1 .3-1.8 .5 2.6 .3-1.2 .4 2.5 .4-1.8 .4 2.5 .3-2.3 .5 2.3 .3-2 .4 1.9 .4-2.3 .4 .7 .3-1.7 .5 6.7 .3-2.5 .4 3.8 .4-1.9 .4 1.3 .3-2.1 .5 2.5 .3-1.9 .4 .6 .4-2.6 .4-1.6 .4-2.6 .4 1 .3-1.7 .4 .1 .4-2.6 .4 2 .4-1.9 .4 3.9 .3-3.5 .4 4.5 .4-4.7 .4 5.5 .4-6.4 .4 6.1 .3-5.7 .5 4.9 .3-5.6 .4 6.5 .4-5.8 .4 9.5 .3-2.2 .5 4.3 .3-1.9 .4 4.1 .4-1.8 .4 3.4 .3-2.2 .5 3.1 .3-1.8 .4 1.3 .4-1.4 .4 1.7 .4-2.4 .4 2.8 .3-1.2 .4-.4 .4-2.2 .4 .1 .4-2.5 .4-2.5 .3-1.3 .4-.1 .4-2.1 .4 .4 .4-1.7 .4-1.2 .3-1.4 .5 5.6 .3-1.7 .4 7.2 .4-3.7 .4 2.9 .3-2.8 .5 3.4 .3-3 .4 4.7 .4-3.2 .4 3.7 .3-3.2 .5 2.5 .3-2.6 .4 .6 .4-2.2 .4-.6 .4-5.6 .4 1.9 .3-4.9 .4 3.8 .4-7.8 .4 5.6 .4-7.1 .4 6.8 .3-6.2 .4 6 .4-5.5 .4 6.8 .4-6.7 .4 4.7 .3-4.4 .5 2.4 .3-5.3 .4 8.6 .4-7.2 .4 7.1 .3-5.8 .5 4 .3-6.4 .4 6.6 .4-7.2 .4 5.9 .3-5.7 .5 3.9 .3-4 .4 4.4 .4-4.6 .4 3.6 .4-6.1 .4 7.8 .3-6.5 .4 5.6 .4-9.1 .4 8.1 .4-5.3 .4 4.2 .3-6.2 .4 9.7 .4-9 .4 8.8 .4-8.7 .4 5.4 .3-5.6 .5 9.3 .3-5.3 .4 4.3 .4-6.3 .4 5.2 .3-6.3 .5 9.8 .3-6.1 .4 7.8 .4-7 .4 7.4 .3-6.6 .5 6.8 .3-5.8 .4 5.9 .4-6.5 .4 12.1 .3-6.5 .5 6.4 .3-6 .4 7.8 .4-2.5 .4 4.2 .4-2.7 .4-2.3 .3-4.6 .4 2.4 .4-7 .4 5.1 .4-7.4 .4 4.5 .3-8.5 .4 7.5 .4-7.8 .4 8.2 .4-5.8 .4 5.7 .3-9.6 .5 8.6 .3-10.1 .4 7.5 .4-5.4 .4 5.8 .3-6.8 .5 6 .3-7.1 .4 9.7 .4-10.1 .4 7.8 .3-9.1 .5 8.9 .3-8.5 .4 7.9 .4-7.5 .4 9.2 .4-6.4 .4 4.3 .3-10.1 .4 11 .4-7.4 .4 9 .4-8.1 .4 4.8 .3-6.3 .4 9.2 .4-8.7 .4 8.3 .4-10.5 .4 14 .3-8.5 .5 4.2 .3-10 .4 10.9 .4-10.5 .4 4.9 .3-10.8 .5 11.7 .3-9.3 .4 7 .4-8 .4 13.5 .3-14.1 .5 10.2 .3-12.9 .4 14.2 .4-13.5 .4 10.8 .4-10 .4 14.3 .3-13.6 .4 9.3 .4-8.7 .4 11.6 .4-10.1 .4 10.6 .3-10 .4 6.6 .4-11.3 .4 14.8 .4-10 .4 4.9 .3-8.6 .5 11.8 .3-10.1 .4 11 .4-9.8 .4 10.2 .3-9.6 .5 6 .3-10.7 .4 11.3 .4-10.3 .4 9.2 .3-8.4 .5 7.6 .3-10.9 .4 13.5 .4-8.8 .4 4.6 .4-6.1 .4 8.2 .3-8.7 .4 8.9 .4-9.4 .4 7.3 .4-9.4 .4 8.7 .3-11.3 .4 13.7 .4-11.6 .4 7.6 .4-6.7 .4 11.8 .3-7.6 .4 8 .4-9.8 .4 10 .4-10 .4 7.4 .3-9.1 .5 11.6 .3-11.2 .4 3.2 .4-11.9 .4 11.8 .3-10.7 .5 14.9 .3-12.3 .4 7.7 .4-7.7 .4 7.6 .3-8.9 .5 9 .3-11 .4 9.2 .4-10.6 .4 14.3 .4-8.9 .4 3 .3-10.8 .4 15.7 .4-11.2 .4 5.7 .4-11.7 .4 10.3 .3-11.4 .4 9.1 .4-11.6 .4 13.7 .4-9.9 .4 11.7 .3-13.7 .5 8.3 .3-9.3 .4 12.1 .4-13.5 .4 12.2 .3-12.2 .5 11.2 .3-11.3 .4 12.4 .4-10.1 .4 9.6 .3-12.5 .5 16.6 .3-11.8 .4 6 .4-8.5 .4 11.6 .4-13.3 .4 9 .3-10.6 .4 13.8 .4-9.5 .4 11.1 .4-9.9 .4 11.3 .3-12.9 .4 8.1 .4-8.8 .4 10.1 .4-9.7 .4 9.9 .3-7.5 .5 7.4 .3-8.8 .4 9.4 .4-12.6 .4 11.5 .3-12 .5 14.5 .3-10.2 .4 11.2 .4-13.3 .4 7.4 .3-13.5 .5 12.5 .3-12.8 .4 13.1 .4-13.4 .4 13.9 .4-14.5 .4 17.5 .3-9.6 .4 6.3 .4-13.8 .4 19.4 .4-13.8 .4 12.3 .3-8.3 .4 4.4 .4-7.5 .4 5.7 .4-8 .4 8.4 .3-11.8 .5 11.2 .3-12 .4 9.4 .4-7.5 .4 4.4 .3-6.8 .5 12.1 .3-11.6 .4 13 .4-10 .4 10.1 .3-11.8 .5 13.2 .3-11.7 .4 9.6 .4-12.6 .4 14.1 .4-11.5 .4 16 .3-12.3 .4 8.7 .4-8.2 .4 5.7 .4-7 .4 7.1 .3-12.8 .4 10.2 .4-8.2 .4 14.4 .4-13.8 .4 9.7 .3-11.4 .4 11.5 .4-9.2 .4 6.4 .4-7.3 .4 8.8 .3-12.3 .5 13.6 .3-11.4 .4 4.8 .4-6.3 .4 11.2 .3-8 .5 7.3 .3-7.5 .4 7.5 .4-11 .4 9.5 .3-9.8 .5 8.1 .3-7.4 .4 17.9 .4-14.4 .4 5.9 .4-9.1 .4 11.7 .3-9.3 .4 9.6 .4-11.5 .4 14.6 .4-10.3 .4 8.6 .3-7.7 .4 9.7 .4-9 .4 5.3 .4-10.1 .4 14.3 .3-10.7 .5 5.9 .3-10.9 .4 21.5 .4-13.5 .4 11.6 .3-10.1 .5 15.7 .3-12.8 .4 8.1 .4-10.3 .4 11.4 .3-15 .5 19.5 .3-12.1 .4 2.3 .4-9.8 .4 14.6 .4-10.7 .4 9.7 .3-11.6 .4 3.1 .4-12.3 .4 17.2 .4-11.7 .4 12.6 .3-8.4 .4 11.9 .4-7.7 .4 12.7 .4-14.8 .4 12.5 .3-11.6 .5 7.5 .3-6.7 .4 10.1 .4-12.1 .4 9.6 .3-10.8 .5 14.6 .3-8.3 .4 15.1 .4-13.6 .4 4.8 .3-8.7 .5 10.5 .3-10.2 .4 13.2 .4-12.8 .4 12.3 .4-11.6 .4 10.3 .3-12.8 .4 14.5 .4-10.9 .4 9.3 .4-7.7 .4 4.7 .3-12.4 .4 13.1 .4-9.3 .4 9.1 .4-8 .4 11.3 .3-7 .5 6.9 .3-7.9 .4 6.5 .4-6.9 .4 12.4 .3-14.2 .5 8.8 .3-9.4 .4 15.5 .4-14.1 .4 13.3 .3-8.7 .5 4.3 .3-11.4 .4 14.7 .4-6.9 .4 8.5 .4-12.3 .4 14.3 .3-13 .4 11.1 .4-11.1 .4 10.5 .4-9 .4 6.2 .3-7.3 .4 10.7 .4-6.9 .4 8.7 .4-7.6 .4 6.1 .3-8.1 M957.3 1382.1L1046.4 1366.1" stroke="#1C86EE" stroke-width="1.8" fill="none" stroke-linejoin="round" shape-rendering="crispEdges"/>
<text x="291.0" y="1674.3" font-size="23.5" fill="#4D4D4D" text-anchor="middle">2018</text>
<text x="852.0" y="1674.3" font-size="23.5" fill="#4D4D4D" text-anchor="middle">2020</text>
<text x="1414.0" y="1674.3" font-size="23.5" fill="#4D4D4D" text-anchor="middle">2022</text>
<path d="M291 1641V1649M852 1641V1649M1414 1641V1649" stroke="#2b2b2b" stroke-width="2" fill="none"/>
<text x="849.3" y="1708" font-size="28" fill="#000" textLength="111.5" lengthAdjust="spacingAndGlyphs">datetime</text>
<text transform="translate(37.4,984.3) rotate(-90)" font-size="30.5" fill="#000" textLength="272" lengthAdjust="spacingAndGlyphs">Temperature (deg. C)</text>
</svg>
</body></html>
